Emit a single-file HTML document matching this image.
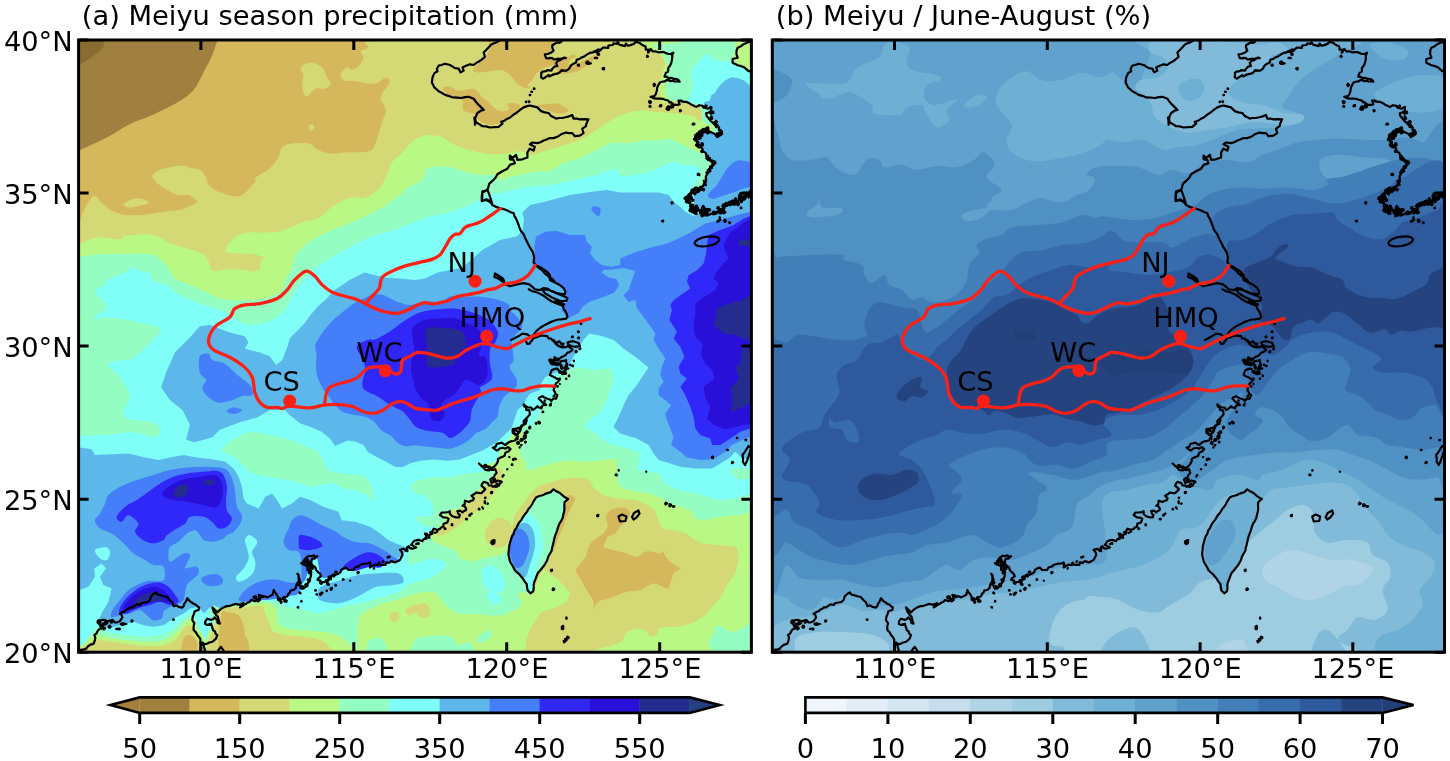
<!DOCTYPE html>
<html lang="en"><head><meta charset="utf-8"><title>Meiyu season precipitation</title>
<style>html,body{margin:0;padding:0;background:#fff}body{width:1450px;height:761px;overflow:hidden}svg{display:block}text{font-family:"DejaVu Sans","Liberation Sans",sans-serif;font-size:27.3px;fill:#000}.c{fill:none;stroke:#000;stroke-width:2.2;stroke-linejoin:round;stroke-linecap:round}.ci{fill:#000;stroke:#000;stroke-width:1.2;stroke-linejoin:round}.r{fill:none;stroke:#fc2016;stroke-width:3.3;stroke-linejoin:round;stroke-linecap:round}.d{fill:#fd1e14}.k{stroke:#000;stroke-width:3;fill:none}.f{fill:none;stroke:#000;stroke-width:3}</style></head><body>
<svg width="1450" height="761" viewBox="0 0 1450 761">
<defs>
<clipPath id="cl"><rect x="78.6" y="40" width="672.8" height="612.2"/></clipPath>
<clipPath id="cr"><rect x="772.3" y="40" width="672.2" height="612.2"/></clipPath>
<g id="ov">
<path class="c" d="M499.9 40L497.4 41.9L494 43.2L491.2 44.4L487.4 48.7L483.7 52.5L484.9 56.8L481.2 60L478.5 61.7L476.3 62.9L473.7 65L469.9 64.3L464.9 66.2L462.4 67.4L463.7 70.6L460.6 72.4L458.7 68.7L455 68.1L450 65L445 63.7L441.4 65L438.7 65.6L436.9 68.7L437.5 71.2L434.4 73.1L432.5 77.4L431.9 82.4L434.4 87.4L438.7 91.2L441.6 92.8L445 94.9L449.2 96.1L452.5 97.4L457.2 97.7L461.2 98L465.1 97.1L468.7 96.8L473.7 98.7L475.7 101.5L477.4 103.6L481.2 107.4L483.7 109.9L481.2 110.5L477.4 113L475.5 117.4L475.3 121.4L474.9 125L474.8 120.8L474.3 117.5L476.2 122.5L479.6 124.4L482.4 126.2L486 126.4L489.9 127.5L494.6 127.1L498.6 126.9L502.4 123.7L501.1 121.9L504.5 120.7L507.4 118.7L510.1 117.5L512.3 115.7L514.9 113.7L517.3 112.3L519.9 110L523.6 107.4L527.1 106.1L529.8 105.5L532.3 106.1L537.3 107.4L541.1 111.1L544.8 112.4L548.6 113L551.1 116.1L556.1 118.6L558.8 118L562.3 118L566.5 117L569.8 116.1L572.3 114.9L573.5 118.6L576.8 118.7L579.8 119.3L584.2 119.1L588.5 119.3L587.3 121.7L586 125L586 126.2L582.3 128.7L583.5 133.1L579.8 135.6L574.8 136.2L572.3 133.1L568.5 133.1L566 132.5L561.1 134.3L557.3 136.8L553.6 138.1L549.8 138.1L546.6 139.4L543.6 140.6L540.5 142.2L537.3 143.1L532.3 142.5L529.8 144.3L534.8 146.8L533.6 150.6L529.8 148.7L527.4 152.4L527.4 157.4L522.4 159.3L517.4 159.9L516.1 154.9L512.4 158.1L509.9 155.6L509.9 159.3L513.6 159.9L514.9 163.1L509.9 164.9L507.4 168.7L502.4 171.2L497.4 174.3L495.7 177.5L493.6 179.9L489.3 183.6L488 188.6L485.6 191L482.4 192.4L482.3 196.4L481.8 201.1L486.2 199.3L489.9 201.1L492.4 205L491.8 202.5L490.8 199.1L489.6 195.7L488.8 193.1L487.4 190L482.4 191.2L481.8 196.2L481.8 201.2L486.2 200L489.9 201.9L492.4 205L496.2 206.9L501.2 208.7L504.1 209.2L507.4 210.6L510.9 212.3L513.6 213.1L514.5 216.2L516.1 218.7L517.3 221.5L518.6 225L519.7 228.3L521.1 231.2L523.4 233.9L524.9 237.4L527.4 242.4L529.9 247.4L533 252.4L534.2 257.4L533.6 262.4L536.1 265.5L541.1 268.6L546.1 271.1L549.8 274.9L550.5 278.6L554.8 281.7L552.6 279.3L550.4 277.5L548.2 276.2L545.5 274.2L543 271.2L540.9 269.2L538.2 267.5L536.2 265.6L539.4 266.8L542.4 268.7L547.4 271.9L549.3 276.2L549.9 280L554.9 282.5L559.9 285L563.6 288.1L565.5 291.8L564.9 294.3L559.9 293.7L556.3 293.1L553.6 291.8L550.3 290.7L547.4 288.7L543.7 288.1L539.9 290L534.9 289.3L532.4 286.8L529.3 284.3L523.7 283.1L521 283.6L517.4 284.3L513.7 285.3L510 286.2L505 284.3L503.1 280.6L500 277.5L497.6 275.7L495 273.7"/>
<path class="c" d="M495 273.7L498.7 275.6L503.1 278.7L504.3 281.8L501.8 281.2L498.7 278.7L494.4 276.9Z"/>
<path class="c" d="M542.4 290L547.4 289.3L551.2 291L554.9 292.5L558.8 294.3L562.4 295.6L567.4 298.1L566.8 300.6L562.4 301.2L559.4 300.5L556.1 299.3L552.7 297.7L549.9 296.2L544.9 293.1Z"/>
<path class="c" d="M554.9 301.2L559.9 302.4L564.3 304.3L563 305.6L558.6 304.3Z"/>
<path class="c" d="M528.7 289.3L532.4 291.2L537.4 292.5L542.4 295L544.7 296.5L547.4 298.7L552.4 301.8L557.4 303.7L562.4 304.9L563.6 308.7L566.1 312.4L567.4 316.8L566.1 318.7L561.1 319.3L558.2 319.5L554.9 320.5L549.9 322.4L544.9 324.9L539.9 328L536.2 331.2L533.7 334.9L529.9 336.8L527.4 334.3L522.4 333.6L518.7 336.1L515 338L511.2 339.9"/>
<path class="c" d="M526.2 341.8L527.3 343.9L529.9 343.6L530.2 342.3L532.4 339.9L533.2 338L536.2 337.4L539.6 336L540.7 336L542.4 335.5L544.8 335.8L547.4 336.1L548.4 338.3L551.2 338.6L551.9 339.8L554.9 342.4L555.5 343.6L558.6 346.1L562.4 346.8L563.6 343.6L561.4 344L559.3 341.1L557 342.8L554.5 341.1L553.6 340L554.6 342.1L555.7 343.8L557.4 345L559.9 346.6L562.4 347.5L566 347.1L567.4 346.2L568.1 346.3L571.9 348.7L572.4 350L569 352.4L567.4 352.5L565.7 355L563.6 356.2L562.6 356.5L559.1 358.9L557.4 358.7L553.9 360.4L552.4 360.6L551.2 363.7L552.6 364.5L556.1 364.3L559.2 364L561.1 361.2L564.6 360.6L566.1 360L565.9 361.5L567.4 365L566.2 367.5L564.9 370L566.1 373.7L562.5 374.2L561.1 372.5L559.3 371.1L557.4 368.7L554.6 368.9L551.9 370L551.2 371.2L549.9 375L551.8 376L554.9 377.4L557.1 379L559.9 378.7L559.7 379.7L557.4 382.4L555.9 383.4L554.9 386.2L553.6 389.9L555.3 392.9L555.3 394L557.4 394.9L556.1 398.7L553.1 398.6L551.2 401.2L550 399.5L547.4 398.7L544 397.2L542.4 396.2L539.8 397.2L538.7 398.7L540.4 400.3L542.4 402.4L544.5 403.1L546.2 404.9L542.6 405.4L541.2 408L538.2 407.2L537.4 406.2L535.4 408.2L534.1 409.2L532.4 409.9L531.2 407.5L527.4 407.4L524.3 404.9L523.7 404.3L524.2 406.4L526 407.6L526.2 409.9L529.3 410.4L529.9 413.6L529.6 414.7L527.4 417.4L526.6 418L523.7 421.1L523.7 424.3L521.2 426.1L520 427.6L516.2 428.6L512.5 429.9L512.8 433L515 433.6L517.4 435L518.5 432L520.1 431.2L520.9 428.4L521.1 427.7L523.2 424.6L524.3 424.4L526.3 421.8L526.8 420L525.6 423.8L523.6 424.7L521.5 425.5L520.5 427.6L519.8 429L519.3 432.6L518 431.9L515.5 430.1L513 428.8L513.9 430.1L514.2 433.9L515.8 435L518 436.4L515.7 439.6L515.5 440.2L513.7 440.8L510.5 441.4L509.3 441.9L506.4 444L505.4 445.2L504.2 444.4L501.6 442.7L497.8 443.6L496.6 444L495.8 446.5L492.8 447.7L496.5 450.3L497.8 450.3L499.6 448.5L502.9 447.7L505.5 448.7L507.9 447.1L510.5 449L508.4 451.5L508 451.6L505.4 452.8L504.5 455.9L502.9 456.6L501.1 457.3L497.8 459.1L498.1 460.8L496.6 464.1L494.1 466.7L491.2 468.5L489 467.9L487.4 466.8L484 466.7L480.9 465.4L478.9 463.5L481.4 466L484.3 468.4L485.2 469.8L488.9 470.4L490.3 469.8L493.7 469.8L495.3 469.2L496.6 473L494.9 474.7L494.1 476.8L492.1 478.1L490.3 479.3L491.5 483.1L494.5 481.6L494.6 482L497.8 480.5L501.6 481.8L499.7 483.5L499.1 485.6L496 486.9L494.3 485.9L492.8 486.8L491.9 485.6L488.8 485.4L487.7 483.1L484 481.8L482.5 483.3L481.4 485.6L484.6 488.3L485.2 489.4L484 490.6L481.4 493.2L479.8 493.1L476.4 492.5L474.8 493.7L471.4 495.7L473.9 498.2L473 500.3L470.2 501.1L468.8 502L465 500.7L464.5 504.6L462.5 505.8L463.6 505L466 508.2L466.1 510L463.3 511.5L462.4 512.5L460.4 510.7L457.4 511.2L458.5 514.1L459.9 515L459.1 517.3L456.1 517.4L452.4 516.2L450 514L449.9 511.2L448.4 512.2L444.9 512.5L441.9 512.5L439.9 515L442.9 517.2L443.6 517.4L446.6 517.7L448.6 518.7L447.4 522.4L443.6 523.7L443.3 526.4L441.2 527.4L439.9 529L437.4 529.9L433.7 528.7L432.6 530.6L432.4 533.7L430.2 534.5L428.7 536.2L426.9 533.9L424.9 533.7L426.1 535.8L426.2 538.7L423.4 539.3L422.4 541.2L418.7 539.9L415.9 540.4L413.7 541.2L413.2 542L411.2 544.9L412.9 545.6L416.2 547.4L412.4 548.7L409.7 548.1L408.7 546.2L407 547.4L407.4 551.2L405.7 550.5L403.7 548.7L400 549.9L402.1 552.6L402.5 554.9L400.7 558.4L400 559.9L398.1 561.1L395 562.4L391.2 561.1L388.9 562.9L386.2 562.4L385.7 564.8L382.5 564.9L379 564.4L377.5 564.9L374.7 564.6L372.5 566.1L370 567.4L370.6 563.7L369.8 562.5L368.4 563.3L364.8 563.7L362.6 564.1L359.8 565L358.5 566.4L354.8 567.5L353.4 569.9L349.8 570L348.5 570L346.1 567.5L343.6 568.4L341.1 570L340.8 571.9L338.6 573.7L335.6 574.8L333.6 575L331.7 575.8L329.9 578.7L328.9 579.9L326.1 581.2L324.9 581.9L321.1 582.4L320.4 580.6L317.4 579.9L318.5 578.1L321.1 576.2L319.9 573.7L318.7 572.7L316.1 570L315.3 567.1L313.6 566.2L311.2 563.7L311.5 560L312.4 558.7L314.5 558.7L317.4 556.2L314.9 556.8L313.6 555.3L311.2 556.2L309.2 555.7L306.2 557.5L307.4 561.2L304.5 562.1L302.2 563.7L301.2 563.1L302.8 564.4L304.9 565L307.4 566.4L307.4 570L310.6 570.6L311.2 573.7L310.8 576.6L309.9 578.7L310 580.8L307.4 583.7L307.4 586L304.9 587.4L301.2 588.7L299.9 585.9L298.7 584.9L298.6 582.1L299.9 579.9L298.9 577.1L298.7 575L297.4 573.7L298.7 575.9L298.6 577.5L298.7 581.2L296.5 584.3L296.2 586.2L296 587.6L293.7 589.9L290.5 590.5L289.9 592.4L288.3 593.9L287.4 596.2L285.7 596.9L283.7 598.7L279.9 599.9L279.1 598.8L277.4 596.2L277 595L275 592.4L273.7 589.9L273.3 591.8L272.5 594.9L270.9 595.6L267.5 597.4L265.9 596.7L262.5 596.2L258.7 594.9L259.7 597.4L260 599.9L257.9 600.1L255 601.2L251.2 599.9L249.8 601.8L247.5 602.7L246.2 603.7L244 604.8L241.8 606.3L240 607.4L242.3 604.4L243.5 603.1L240.5 604.4L238.2 604.7L237.3 604.3L235.5 603.9L232.3 605L228.5 606.2L226.4 606.2L223.5 607.4L222.7 607.9L219.8 609.9L217.3 612.4L214.8 609.9L212.3 607.4L213.6 611.2L213.8 611.8L216 614.9L217.9 616.7L218.5 619.9L219.8 623.7L217.6 622.9L217.1 620.2L214.8 617.4L213.1 619.1L211.1 619.9L207.3 618.7L205.4 621.2L205.1 623.9L207.3 624.9L211.1 623.7L212.3 627.4L213.1 630.3L214.8 631.2L215.8 634.1L217.3 634.9L216 638.7L212.8 641.5L212.3 641.8L208.7 642.7L207.3 643.6L204.8 644.3L202.3 642.4L203.6 644.9L204.4 648.7L205.1 649.7L204.2 652.4"/>
<path class="c" d="M567.4 342.4L572.4 341.1L575.5 342L578.6 343L579.9 346.1L574.9 346.8L571.5 346L568.6 344.9Z"/>
<path class="c" d="M200.4 652.4L200.6 649.7L200.6 646.7L201.2 645.7L200.4 642.4L200.5 639.4L199.8 638L197.3 634.9L196.1 632.6L194.8 631.2L193.6 629.8L193.6 626.2L194.4 623L193.6 622.3L192.3 619.9L192.7 616.9L193.6 614.9L194.8 611.2L198.6 609.9L199.2 607.4L197.3 606.2L195.9 604.8L193.6 603.7L192.2 602.8L189.8 601.2L187.3 598.1L186.1 601.2L184 604.3L183.6 606.2L182.3 607.6L178.6 606.8L176.4 605.4L173.6 606.2L172.4 602.5L169.3 599.7L168.6 598.7L167.2 597L163.6 596.2L159.9 595L157.7 594.7L156.1 592.5L153.8 593.8L152.4 595L151 596.4L149.9 600L147.6 602L144.9 602.5L141.6 603L139.9 605L137.2 604.2L134.9 605.6L132.4 607.3L129.9 607.4L128.6 608.8L127.4 609.1L124.9 611.2L122.6 612.1L119.9 613.7L121.4 614.6L122.4 617.4L121.8 618.3L119.9 621.2L116.6 622.5L114.9 622.4L112.4 619.9L111 620.4L107.4 621.2L104.7 619.9L102.5 619.9L99.7 620.8L98.1 621.2L98.3 622.1L100 624.9L101.2 628.7L99.2 629.1L97.5 631.2L96.3 633.8L94.3 634.9L95.3 637.4L95 639.9L93.7 643.6L90 644.9L87.7 646.6L86.2 648.6L83 649.8L81.7 649.5L80 650.5L76.5 651.3L75 652.4"/>
<path class="c" d="M217.3 652.4L218.5 649.9L221 646.8L223.5 650.5L224.2 652.4"/>
<path class="c" d="M562.3 40L561.1 41.9L558.9 42.9L557.3 42.2L554.8 43.7L552.3 45.3L552.3 47.5L553.6 50.6L551.1 52.7L549.8 53.1L547.8 54L544.8 54.3L546.1 58.1L548.3 58.5L549.3 57.9L552.3 58.1L553.5 59.3L555.3 59.3L558.6 58.7L559.9 59L563.1 58L566 58.1L564.4 57.5L559.9 60.4L558.6 60L556.1 63.1L557.3 66.2L554.8 66.4L552.3 68.7L551.5 70.7L547.1 70.2L546.1 71.2L542.6 71.6L541.1 73.1L541.4 74.4L541.1 77.4L543 78.7L546.1 76.8L548.7 75L549.4 76.4L552.3 74.9L554.6 74.1L557.3 73.7L559.6 72.6L561.2 70.4L563.6 70.6L566.2 70.7L569 68.9L569.8 67.4L571.3 65.2L573.5 63.7L576.1 62.5L576.7 59.7L579.8 58.7L581.3 57.6L584.3 56.5L584.2 56.3L587.3 54.3L589 53.6L590.3 52.6L592.6 52.7L594.8 51.2L595.8 50.7L598.1 50.5L601 49.3L597.7 49.6L596.4 51.4L593.5 51.8L592.6 52.7L594 51.3L596.8 52.2L598.9 51.4L600.2 50.4L602.8 47.7L605.2 47.7L608.1 48L608.5 45.5L612.7 45L613.6 43.4L616.6 43.9L617.8 42L619.1 44.5L620.2 44.9L624.9 46.1L625.9 43.6L627.7 45.8L630.5 45.1L633.8 43.9L635.5 42L639.3 42.6L640.7 43.9L643.4 45.5L645.6 46.4L645.8 49.7L648.3 49.7L648.1 52.7L648.8 51.8L650.6 48.9L652.6 51.3L655.7 51.4L658.2 52.3L660.7 52.1L663.8 52L665.2 52.7L668.3 54L671.3 53.8L673.3 52.7L672 55.8L672.3 56.2L672.1 59L671.3 62.8L670.8 64.1L669.7 66.3L668.3 67.8L668.1 71.6L665.8 72.9L664.5 76.7L667.3 76.9L668.9 78.6L670.8 77.9L674.1 78.8L675.5 78.8L678.4 79.8L679.6 81.7L678.2 81.5L674.2 81.4L673.3 80.5L672.3 81L670.2 81.1L667 79.8L664.6 81.5L662 81.7L659.8 82.6L658.2 85.5L657.2 87.5L656.9 90.5L655.7 94.3L654.3 96.1L650.6 96.8L653.2 98.1L655.8 98.6L657.2 98.6L660.7 98.7L663.8 99.1L665.1 99.8L668.3 100.6L669.5 102.4L670.7 102.1L673.3 104.4L674.9 104.9L678.2 104.8L679.6 104.4L678.4 100.6L681.6 100.7L681.4 101.4L684.7 101.9L686.6 101.9L689.3 103.2L691 104.4L692.8 105.2L696 106.9L699.3 105.2L699.9 105.5L702.3 105.7L703.5 106.8L706.1 108.2L707.9 108.7L711.2 106.9L711.2 110.7L708.7 112.5L706.1 113.2L706.5 115.7L708.6 118.3L710.6 120.9L711.4 121.5L713.7 123.3L717.1 125L719.2 127.9L718.7 129.2L721.2 131L721.7 133.3L719.9 135.6L717.1 137L716.5 135.6L713.9 133.5L711.6 132.4L709.4 131.4L706 131.4L703.6 131.7L700.6 131.7L698.7 133.3L696.8 135.2L695.6 135.8L695 138.8L696.4 140.4L697.3 143.3L696.8 145.2L698.4 147.4L701.6 147.2L702.4 148.9L702.6 151.1L705.7 152.9L706 154.5L707.7 157L707.9 160L710.6 160L712.5 160.9L715.2 161.8L713.7 163.4L713.6 164.6L711.6 167.3L709.6 168.5L710.4 171.1L707.9 172.9L705.8 176.5L706 178.4L706.1 181.7L703.8 183.9L703.3 185.8L700.9 187.2L699.6 190.4L698.5 191.9L694.7 192.7L692.1 191.9L691.3 193.1L689.1 194.1L688.6 197.4L688 197.8L687.6 200.5L687.9 201.9L690.8 204.5L690 206.5L692.2 207.9L694.5 208.7L696.6 210.1L698.7 210.6L701.3 209.7L702.7 208.7L704.2 207.9L705.5 209.4L705.8 211.6L707.5 212.8L707.9 215.2L710.8 213.9L712.5 213.2L713.4 211.5L717.1 212.3L718.1 211.9L720.8 212.5L722.5 211.5L724.4 208.3L723.8 206.6L726.3 206L727.7 204.2L730 204.1L733.7 204.2L734.5 202.8L737.7 201.7L739.2 198.7L742.2 198.4L744 195.6L744.7 195.9L745.8 196.1L748.3 193.3L750.2 193.1L752.8 192.1L754.2 191L755.4 189.6L758.3 191L760 189"/>
<path class="c" d="M751.5 40.1L750.3 41.4L746.8 42.8L744 43.9L741 46.2L737.7 47.7L736.6 50.5L736.4 54L737.7 57.7L732.6 59L732.6 62.8L737.7 65.3L740.4 65.9L744 67.2L747.7 70.4L752.8 72.9"/>
<path class="c" d="M553.5 489.3L556.4 491.3L559.9 493L562.8 495.6L565.4 497.6L568.2 498.9L564.5 502.2L564.3 505.2L564.5 508.6L564.1 511.8L563.2 514.9L562.7 517.8L561.1 521.1L559.4 523.7L558.1 527L557.1 530.6L555.5 534.6L554.4 538.1L553.8 541.1L553 544.6L552.1 547.8L551.6 550.9L549.7 554L548.1 557.1L547.1 560.5L545.2 563.8L543.1 566.8L540.3 570.2L537.8 573L536.7 575.8L535.5 579.2L534.2 582.2L533.6 585L533.8 588.3L533.2 591.4L530.5 593.3L527.7 590.5L527 587.3L526.8 584.1L524.8 581.8L523.1 578.9L521.3 576.7L519.4 574.3L516.8 572.1L514.8 570.3L513.4 567.3L511.8 564.5L510.2 562L509.3 558.4L508.4 554.6L508.7 551.5L509 548.4L509.3 545.4L510.3 542L511.1 539.1L512.1 536.2L513.7 533.8L514.5 530.5L516.4 528L517.6 525.2L519.1 522.6L521.6 519.6L523 517L525 514.2L527.1 511.6L528.5 509L530.5 506.8L532.4 503.7L534 500.6L536 497.6L538.7 496.2L542.5 495.2L545.2 493.9L550.7 492.1Z"/>
<path class="c" d="M719.3 239.3L718.7 241.2L716.3 243.2L712.4 244.9L707.8 246L703 246.5L698.9 246.2L695.9 245.1L694.7 243.5L695.3 241.6L697.7 239.6L701.6 237.9L706.2 236.8L711 236.3L715.1 236.6L718.1 237.7Z"/>
<path class="ci" d="M535.1 88.7L534.7 89.4L534.1 89.4L533.4 89.1L533.3 88.3L534 87.8L534.7 88Z"/>
<path class="ci" d="M532.7 91.8L532.3 92.5L531.5 92.5L531 92.2L530.8 91.4L531.5 90.9L532.1 91.3Z"/>
<path class="ci" d="M530.9 94.9L530.4 95.5L529.7 95.8L529.2 95.2L529.2 94.6L529.8 94.3L530.4 94.3Z"/>
<path class="ci" d="M526.9 101.8L526.6 102.4L525.9 102.7L525.3 102.2L525.4 101.5L525.9 101L526.8 101Z"/>
<path class="ci" d="M530 101.8L529.7 102.5L529 102.7L528.4 102.2L528.2 101.3L528.9 100.7L529.8 101.1Z"/>
<path class="ci" d="M579.5 65L579.4 66.1L578.2 66.3L577.2 65.6L577.5 64.5L578.3 64L579.3 64Z"/>
<path class="ci" d="M588.6 62.5L588.3 63.8L586.9 64.1L585.9 63.2L586.1 61.9L587 61L588.4 61.2Z"/>
<path class="ci" d="M599.3 54.3L599.2 55.2L598.3 55.4L597.5 54.8L597.7 53.9L598.3 53.5L599.1 53.5Z"/>
<path class="ci" d="M563.3 70.6L562.9 71.3L562.1 71.5L561.2 71.1L561.5 70.2L562 69.4L562.9 69.9Z"/>
<path class="ci" d="M599.3 54L598.8 54.7L598 55.1L597.1 54.6L597.1 53.4L598.1 53.1L598.9 53.2Z"/>
<path class="ci" d="M604.6 68.5L604.3 69.8L603 69.8L602.1 69.1L602.2 68L603.1 67.5L604.2 67.4Z"/>
<path class="ci" d="M589.3 62.8L588.7 64.2L587.2 64.4L586.2 63.5L586.1 62.1L587.4 61.7L588.5 61.7Z"/>
<path class="ci" d="M648.6 56.5L648 57.2L647.3 57.5L646.5 57L646.4 56L647.2 55.1L648.1 55.7Z"/>
<path class="ci" d="M655.8 84.9L655.1 85.8L654 86.7L653.3 85.4L653.1 84.3L654 83.2L655.3 83.8Z"/>
<path class="ci" d="M651.6 101.9L650.9 103.1L649.6 103.7L648.9 102.4L648.5 101.2L649.7 100.5L650.8 100.9Z"/>
<path class="ci" d="M651.1 106.3L650.8 107.3L649.8 107.2L648.9 106.8L649.1 105.9L649.8 105.4L650.7 105.5Z"/>
<path class="ci" d="M661.9 105.7L661.4 106.6L660.4 106.9L659.1 106.5L659.7 105.2L660.5 104.6L661.5 104.7Z"/>
<path class="ci" d="M670.1 108.2L669.6 109.9L667.8 110.5L666 109.3L666.6 107.4L667.8 105.9L669.9 106.2Z"/>
<path class="ci" d="M674 106L673.3 107.6L671.5 108.1L670.2 106.9L670.8 105.4L671.5 103.9L673 104.8Z"/>
<path class="ci" d="M681.6 110.7L681 111.5L680 111.9L679.5 111.1L679.3 110.2L680 109.6L681 109.9Z"/>
<path class="ci" d="M695 124L694.2 124.9L693.3 125.1L692 124.7L692.5 123.5L693.3 122.9L694.2 123.2Z"/>
<path class="ci" d="M700.1 174.5L699.5 175.7L698.3 175.5L697.3 175.1L697.2 173.9L698.2 173.1L699.3 173.5Z"/>
<path class="ci" d="M581.9 323.7L581.5 324.3L580.9 324.6L580.3 324.1L580 323.2L580.9 322.7L581.6 323.1Z"/>
<path class="ci" d="M579.5 331.8L579.1 332.5L578.4 332.8L577.6 332.3L577.3 331.2L578.4 330.8L579.1 331.1Z"/>
<path class="ci" d="M573.3 336.8L573.1 337.7L572.2 337.8L571.2 337.4L571.6 336.4L572.2 335.9L573 336.1Z"/>
<path class="ci" d="M579.7 338L579.2 338.8L578.4 338.8L577.7 338.4L577.6 337.5L578.4 337.1L579.3 337.1Z"/>
<path class="ci" d="M577.3 351.8L576.7 352.5L575.8 352.9L575.1 352.3L575.1 351.3L575.8 350.6L576.9 350.8Z"/>
<path class="ci" d="M580.9 348.7L580.5 349.4L579.6 349.9L578.8 349.2L579.2 348.4L579.7 347.9L580.6 347.8Z"/>
<path class="ci" d="M555.6 362.5L554.5 364.4L552.6 364.4L550.9 363.5L551.6 361.8L552.6 360.6L554.5 360.6Z"/>
<path class="ci" d="M559.3 360L558.8 361L557.7 361.1L556.4 360.8L556.4 359.2L557.7 358.7L559 358.7Z"/>
<path class="ci" d="M563.6 368L562.8 369L561.7 369.3L560.8 368.6L560.7 367.4L561.6 366.2L562.8 366.9Z"/>
<path class="ci" d="M561.5 372L560.9 373.1L559.8 373.1L558.7 372.6L558.8 371.4L559.7 370.5L560.9 370.9Z"/>
<path class="ci" d="M567 366L566.7 366.9L565.8 367.1L564.8 366.6L565.2 365.6L565.7 364.8L566.5 365.3Z"/>
<path class="ci" d="M542.1 408L541.7 408.9L540.8 408.8L539.9 408.5L540.1 407.6L540.8 407.1L541.6 407.2Z"/>
<path class="ci" d="M543.7 412L543.5 412.6L542.8 412.7L542 412.5L542.2 411.6L542.8 411L543.7 411.2Z"/>
<path class="ci" d="M540.6 423L540.1 423.7L539.3 423.9L538.4 423.6L538.5 422.5L539.2 421.8L540.2 422.1Z"/>
<path class="ci" d="M539.7 422L538.9 422.5L538.3 422.8L537.7 422.4L537.8 421.7L538.3 421.1L539 421.4Z"/>
<path class="ci" d="M518.2 438.5L517.8 439.6L516.8 439.6L515.9 439L515.9 438L516.8 437.5L517.7 437.6Z"/>
<path class="ci" d="M495.7 480L495.2 481.5L493.6 481.7L492.8 480.6L492.7 479.4L493.7 478.7L495.2 478.5Z"/>
<path class="ci" d="M498.3 484L497.9 485.1L496.7 485.3L496.1 484.5L496.1 483.6L496.8 483L497.7 483.2Z"/>
<path class="ci" d="M502.1 482L501.6 482.7L500.7 483.2L500 482.5L500.1 481.6L500.7 480.9L501.5 481.3Z"/>
<path class="ci" d="M492.4 492.5L492.2 493.4L491.2 493.7L490.5 493L490.7 492.1L491.2 491.4L492 491.8Z"/>
<path class="ci" d="M495 541.8L494.6 543.8L492.3 544.8L490.7 542.9L491.1 540.9L492.6 539.9L494.9 539.5Z"/>
<path class="ci" d="M552.6 570.3L552.2 571.2L551.2 571.7L550.6 570.8L550.4 569.8L551.3 569.3L552.4 569.2Z"/>
<path class="ci" d="M554.8 589L554.2 590.2L552.9 590.6L552 589.6L552.4 588.6L553 587.9L554.1 588Z"/>
<path class="ci" d="M598.8 515.4L598.7 516.5L597.5 516.9L596.5 516L596.9 515L597.6 514.5L598.7 514.3Z"/>
<path class="ci" d="M617.3 475L616.9 475.9L616 475.7L615.1 475.5L615.2 474.5L615.9 473.8L616.9 474.1Z"/>
<path class="ci" d="M619.5 470.5L619.1 471L618.6 471.1L618 470.8L618.1 470.2L618.5 469.6L619.2 469.9Z"/>
<path class="ci" d="M646.8 471.7L646.6 472.2L646.1 472.2L645.7 471.9L645.6 471.4L646.1 471.2L646.6 471.2Z"/>
<path class="ci" d="M667.8 503.5L666.7 504.4L665.6 505.1L664.7 504.1L665 503L665.7 502.1L666.7 502.6Z"/>
<path class="ci" d="M671.7 505.5L670.7 506.4L669.7 506.9L668.8 506.1L668.9 505L669.6 503.7L671.1 504.1Z"/>
<path class="ci" d="M674.9 506.5L674.1 507.2L673.3 507.4L672.4 507L672.5 506L673.3 505.5L674.3 505.5Z"/>
<path class="ci" d="M565.5 641.5L565 642.4L564 642.9L563.4 641.9L563.1 640.9L564.1 640.4L565 640.7Z"/>
<path class="ci" d="M567.1 639.6L566.9 640.8L565.7 640.9L564.9 640.1L564.6 638.9L565.7 638.4L566.9 638.4Z"/>
<path class="ci" d="M569.3 637.6L568.6 638.6L567.5 638.8L566.6 638.2L566.6 637L567.5 636.1L568.6 636.7Z"/>
<path class="ci" d="M713.7 457.5L713.3 458.5L712.2 458.7L711.5 458L711.4 457L712.2 456L713.4 456.3Z"/>
<path class="ci" d="M733.8 462.5L733.1 463.2L732.3 463.6L731.3 463.1L731.5 462L732.2 461.4L733 461.8Z"/>
<path class="ci" d="M728.4 450L728.1 450.7L727.3 450.7L726.7 450.4L726.6 449.5L727.3 449.3L728 449.4Z"/>
<path class="ci" d="M747 440L746.6 440.8L745.8 440.8L745.1 440.4L744.9 439.5L745.8 439.2L746.5 439.4Z"/>
<path class="ci" d="M737.8 438L737.5 438.6L736.9 438.6L736.3 438.4L736.5 437.8L736.8 437.1L737.4 437.5Z"/>
<path class="ci" d="M301.1 593L300.7 593.9L299.8 593.9L299.2 593.4L299 592.5L299.7 591.8L300.6 592.3Z"/>
<path class="ci" d="M316.5 590.5L316 591.1L315.4 591.1L314.8 590.9L314.7 590.1L315.3 589.5L316.2 589.7Z"/>
<path class="ci" d="M332.2 589.5L331.5 590.2L330.8 590.3L330.3 589.8L329.9 589L330.8 588.6L331.5 588.9Z"/>
<path class="ci" d="M286.4 601L285.9 602.1L284.7 602.2L283.9 601.5L283.7 600.4L284.7 599.7L285.7 600.1Z"/>
<path class="ci" d="M282.2 602L281.7 602.9L280.7 603.4L280.2 602.4L279.8 601.4L280.7 600.8L281.7 601.2Z"/>
<path class="ci" d="M174.5 619.7L173.9 620.3L173.2 620.4L172.7 620L172.5 619.3L173.2 618.9L174 618.9Z"/>
<path class="ci" d="M133.2 621L132.6 621.8L131.7 622.3L131 621.5L131 620.5L131.7 619.8L132.8 620Z"/>
<path class="ci" d="M663.7 221.2L663.4 221.9L662.6 222L661.8 221.7L661.5 220.6L662.6 220.3L663.6 220.2Z"/>
<path class="ci" d="M673.3 203L672.7 203.8L671.7 204.2L671.2 203.4L670.9 202.5L671.7 201.7L672.9 201.9Z"/>
<path class="ci" d="M730.5 222.7L730.2 223.6L729.3 223.7L728.8 223L728.6 222.3L729.3 221.7L730.1 222Z"/>
<path class="ci" d="M742 208L741.5 208.6L740.8 208.8L740.2 208.4L740.1 207.6L740.8 207L741.6 207.2Z"/>
<path class="ci" d="M311.9 563.7L310.1 565.4L308.2 565.8L306.7 564.7L306.5 562.7L308.1 561.2L310.5 561.4Z"/>
<path class="ci" d="M308.5 560L307 561.3L305.5 562.1L303.9 561L304.1 559.1L305.6 558.1L307.4 558.3Z"/>
<path class="ci" d="M313.6 567.5L313 569.4L311.1 569.2L309 568.7L309.2 566.4L311.1 565.8L313.2 565.3Z"/>
<path class="ci" d="M311.9 572L311 573.2L309.5 574.2L308.3 572.8L308.7 571.4L309.6 570.2L311.2 570.5Z"/>
<path class="ci" d="M305.5 562L305 563.3L303.7 563.5L302.5 562.7L302.6 561.3L303.6 560.2L304.8 561Z"/>
<path class="ci" d="M304.3 587.4L303.7 589.1L302.1 588.7L300.6 588.3L300.8 586.6L302 585.5L303.4 586.1Z"/>
<path class="ci" d="M301.2 583L300.8 584L299.8 584.1L298.5 583.7L298.9 582.5L299.7 581.8L301 581.8Z"/>
<path class="ci" d="M307.9 585L307.2 586.5L305.7 586.5L304.8 585.6L304.9 584.5L305.6 583.4L307.2 583.5Z"/>
<path class="ci" d="M309.8 580L309.3 581L308.2 581.2L307.4 580.5L307.2 579.4L308.3 578.9L309.4 578.9Z"/>
<path class="ci" d="M256.7 597.5L256.5 599.4L254.7 598.9L253.5 598.2L252.9 596.5L254.6 595.8L256.3 595.9Z"/>
<path class="ci" d="M260.2 600L259.4 601.1L258 602.1L257.1 600.7L256.9 599.2L258.1 598.2L259.8 598.4Z"/>
<path class="ci" d="M263.6 596.5L262.9 597.6L261.7 597.7L260.8 597.1L260.6 595.8L261.7 595.1L262.7 595.6Z"/>
<path class="ci" d="M280.7 599.5L279.9 600.6L278.7 600.8L277.6 600.2L277.3 598.7L278.6 597.6L280.3 597.9Z"/>
<path class="ci" d="M285.2 598L284.5 599.2L283.1 599.5L282.4 598.5L282.5 597.5L283.2 596.9L284.6 596.6Z"/>
<path class="ci" d="M287.2 601L286.9 602.1L285.7 602.1L285.1 601.4L284.7 600.4L285.8 599.9L286.8 600Z"/>
<path class="ci" d="M328.6 581L327.7 582.5L326.1 582.6L325.1 581.7L325.2 580.4L326.1 579.5L327.5 579.7Z"/>
<path class="ci" d="M331.5 578L331.3 579.6L329.6 579.6L328.2 578.9L327.9 577L329.5 575.8L331.3 576.4Z"/>
<path class="ci" d="M335 575.5L334.6 576.9L333.2 577L332.3 576.1L331.8 574.7L333.2 574.1L334.5 574.2Z"/>
<path class="ci" d="M329.3 584L329.1 585.3L327.7 585.2L326.7 584.6L326.5 583.3L327.7 582.9L328.7 583.1Z"/>
<path class="ci" d="M337.1 572L336.7 572.9L335.7 573.1L334.5 572.7L334.9 571.5L335.8 570.9L336.7 571.2Z"/>
<path class="ci" d="M322.5 583L321.9 584.1L320.7 584.2L319.8 583.6L319.4 582.2L320.7 581.8L321.7 582.2Z"/>
<path class="ci" d="M101 622L100 623.3L98.5 624L97.2 622.9L97.1 621.1L98.5 619.7L100.2 620.4Z"/>
<path class="ci" d="M104.2 625L103.5 626.3L102 627.3L100.8 625.8L100.7 624.2L102.1 623.4L104.1 622.9Z"/>
<path class="ci" d="M108.1 623L106.8 624L105.5 625L104.4 623.8L104.3 622.2L105.6 621.2L107.1 621.6Z"/>
<path class="ci" d="M111 626.5L110.6 627.9L109.1 628.2L108.2 627.1L108.4 626L109.2 625.1L110.4 625.4Z"/>
<path class="ci" d="M105.6 628.5L104.7 629.4L103.7 630L102.7 629.1L103 628L103.7 627.1L105.1 627.2Z"/>
<path class="ci" d="M112.6 622L112.3 623L111.2 623.2L110.4 622.5L110.4 621.5L111.2 620.6L112.2 621.1Z"/>
<path class="ci" d="M552.8 361L552.4 362.7L550.4 363.4L549.4 361.8L548.6 359.8L550.5 358.8L552.1 359.6Z"/>
<path class="ci" d="M556.4 358.5L555.9 359.6L554.6 360.1L553.8 359.1L553.6 357.8L554.6 356.6L555.8 357.4Z"/>
<path class="ci" d="M558.7 364L558.2 365.5L556.6 365.6L555.5 364.7L555.6 363.3L556.7 362.7L557.9 362.9Z"/>
<path class="ci" d="M567.3 368.5L567 369.7L565.6 370.3L564.3 369.3L564.5 367.8L565.7 367.3L567 367.2Z"/>
<path class="ci" d="M564.7 372.5L564.5 373.7L563.2 373.8L562.3 373.1L561.9 371.7L563.1 370.9L564.3 371.4Z"/>
<path class="ci" d="M562 365.5L561.7 366.4L560.7 366.8L560.1 365.9L559.8 364.9L560.7 364L561.8 364.6Z"/>
<path class="ci" d="M526.3 436L526.3 437.7L524.6 437.8L523.1 436.9L523.7 435.4L524.7 434.5L526.2 434.5Z"/>
<path class="ci" d="M523.1 440L522.3 441.1L521.2 441.4L519.9 440.8L520.2 439.4L521.1 438.4L522.3 439Z"/>
<path class="ci" d="M519.4 443L519 444.3L517.7 444.3L516.6 443.7L516.8 442.4L517.6 441.4L519.1 441.6Z"/>
<path class="ci" d="M528.3 432L527.8 433L526.7 433.5L525.7 432.6L525.9 431.5L526.7 430.6L527.7 431.1Z"/>
<path class="ci" d="M490.7 467L489.9 468.1L488.7 468.1L487.7 467.6L487.7 466.4L488.8 466L489.8 466.1Z"/>
<path class="ci" d="M487 465.5L486.3 466.5L485.2 466.8L484.3 466.1L484.1 464.8L485.2 464.3L486.2 464.6Z"/>
<path class="ci" d="M591.5 63.5L590.5 64L589 64.4L587.4 63.9L587.2 63L589.1 62.7L590.9 62.8Z"/>
<path class="ci" d="M127.1 624L124.8 624.8L122.1 625.4L120.2 624.5L120.4 623.6L122.3 622.9L124.9 623.2Z"/>
<path class="ci" d="M120.5 629L119.8 629.9L117.6 629.7L115.8 629.4L115.8 628.6L117.5 628L119.8 628.1Z"/>
<path class="ci" d="M597.8 58L597.4 58.7L595.6 58.7L594.3 58.3L594.2 57.7L595.5 57.2L597.1 57.4Z"/>
<path class="ci" d="M754.2 447L753.6 450.3L752.1 450.7L751.4 448.2L751 445.3L752.1 443.1L753.3 444.6Z"/>
<path class="ci" d="M567.2 618L566.9 619.2L566.2 619.3L565.9 618.5L565.7 617.4L566.3 617.1L566.8 617Z"/>
<path class="ci" d="M563.9 627.6L563.4 629.7L562.4 629.7L561.3 628.9L561.4 626.4L562.4 625.6L563.5 625.3Z"/>
<path class="ci" d="M716.2 124.9L715.8 125.6L715 125.9L714.5 125.2L714.3 124.4L715.1 124L716 124Z"/>
<path class="ci" d="M720.1 130.2L719.8 130.9L719 131.2L718.5 130.6L718.4 129.8L719 129.3L719.8 129.5Z"/>
<path class="ci" d="M712.4 117.1L712.1 118.1L711.1 118L710.2 117.6L710.5 116.7L711 115.8L712 116.3Z"/>
<path class="ci" d="M704.9 106.9L704.7 107.8L703.7 108.2L702.7 107.5L703 106.4L703.8 105.9L704.7 106Z"/>
<path class="ci" d="M712.3 111.1L712 111.8L711.3 111.9L710.7 111.5L710.8 110.8L711.3 110.2L712 110.5Z"/>
<path class="ci" d="M721.6 130.8L721.3 131.5L720.5 131.9L719.7 131.3L719.9 130.5L720.4 129.8L721.4 129.9Z"/>
<path class="ci" d="M717.8 133.8L717.4 134.4L716.7 134.7L716 134.3L716 133.4L716.7 132.8L717.6 133Z"/>
<path class="ci" d="M722.7 133.8L721.9 134.6L720.9 135.1L720.1 134.3L719.9 133.2L720.9 132.3L721.9 133Z"/>
<path class="ci" d="M717.5 121.7L717.1 122.8L716 122.8L715.4 122.1L715 121.1L715.9 120.3L716.9 120.9Z"/>
<path class="ci" d="M722 133.3L721.8 134.4L720.7 134.3L719.9 133.8L719.6 132.7L720.7 132.5L721.5 132.5Z"/>
<path class="ci" d="M717.9 127L717.1 127.6L716.4 127.8L715.5 127.5L715.6 126.5L716.3 125.7L717.1 126.3Z"/>
<path class="ci" d="M707 106L706.7 106.8L705.9 106.7L705 106.5L705.3 105.6L705.8 104.9L706.7 105.2Z"/>
<path class="ci" d="M717.5 125.1L716.8 125.8L716 126.1L715.4 125.5L715.6 124.7L716 124L716.8 124.4Z"/>
<path class="ci" d="M713.9 112.4L713.8 113.5L712.7 113.7L711.9 113L712.1 112L712.8 111.5L713.8 111.4Z"/>
<path class="ci" d="M711.8 107.6L711.5 108.3L710.8 108.6L710 108.1L710.2 107.2L710.8 106.7L711.6 106.9Z"/>
<path class="ci" d="M717.7 136L717.7 137.2L716.6 136.9L716 136.4L715.7 135.4L716.5 134.8L717.4 135.2Z"/>
<path class="ci" d="M722.5 131.8L722.2 132.4L721.5 132.5L720.9 132.1L720.8 131.4L721.4 130.8L722.2 131.2Z"/>
<path class="ci" d="M712.4 112.9L712 113.8L710.9 114.5L709.9 113.5L710 112.3L710.9 111.4L712.2 111.7Z"/>
<path class="ci" d="M720.7 134L720.2 134.6L719.4 135L718.5 134.5L718.4 133.4L719.4 133L720.2 133.2Z"/>
<path class="ci" d="M720 133.5L719.5 134.3L718.6 134.4L718.1 133.9L717.9 133.1L718.5 132.4L719.5 132.6Z"/>
<path class="ci" d="M716.1 123.2L715.3 124.3L714.1 124.7L713.2 123.8L713.3 122.6L714.2 121.8L715.4 122Z"/>
<path class="ci" d="M713 118.7L712.3 119.4L711.5 119.7L710.5 119.3L710.9 118.3L711.5 117.6L712.3 117.9Z"/>
<path class="ci" d="M704.6 129.7L704.1 130.7L702.8 131.4L701.7 130.4L702.1 129.1L702.9 128.5L704.3 128.3Z"/>
<path class="ci" d="M698.9 142.3L698.6 143.3L697.5 143.6L696.9 142.8L696.4 141.6L697.6 141.4L698.5 141.4Z"/>
<path class="ci" d="M703.8 151.4L702.9 152.4L701.8 152.6L700.8 152L700.8 150.8L701.7 149.8L703.1 150.1Z"/>
<path class="ci" d="M710.2 132L709.6 133L708.6 133.3L707.6 132.6L707.4 131.3L708.5 130.4L709.6 131Z"/>
<path class="ci" d="M702.8 131.1L702.3 131.9L701.3 132.3L700.4 131.7L700.2 130.5L701.3 129.9L702.6 129.9Z"/>
<path class="ci" d="M701.3 138.1L700.5 139L699.6 139.2L698.7 138.7L698.4 137.4L699.5 136.8L700.8 136.9Z"/>
<path class="ci" d="M697 139.6L696.7 141.2L695.1 141L694 140.3L693.6 138.7L695.2 138.3L696.4 138.4Z"/>
<path class="ci" d="M702 134L701.5 134.9L700.4 135.3L699.5 134.5L699.7 133.5L700.5 132.7L701.5 133Z"/>
<path class="ci" d="M699.5 145.4L698.7 146.4L697.6 146.8L696.5 146.1L696.3 144.6L697.5 143.9L698.8 144.3Z"/>
<path class="ci" d="M709 128.5L708.4 130.1L706.6 130.5L705.3 129.4L705.6 127.8L706.8 127.2L708.4 126.8Z"/>
<path class="ci" d="M702.6 145.4L702.1 146.2L701.2 146.7L700.4 146L700.3 144.8L701.2 144.2L702.2 144.5Z"/>
<path class="ci" d="M703.3 144.3L703.2 145.6L701.9 145.4L700.8 144.9L700.8 143.6L701.8 142.7L703.1 143Z"/>
<path class="ci" d="M708.6 132.9L708.2 133.8L707.3 134L706.6 133.4L706.4 132.4L707.2 131.6L708.1 132.2Z"/>
<path class="ci" d="M699.2 135.5L698.6 136.8L697.1 137.6L696.3 136.1L695.9 134.7L697.2 133.9L698.8 134Z"/>
<path class="ci" d="M697.5 135.5L697 136.6L695.8 137.3L694.7 136.2L694.8 134.9L695.8 134L697 134.5Z"/>
<path class="ci" d="M702.9 135.2L702.6 136.4L701.3 136.5L700 136L700.4 134.6L701.2 133.5L702.8 133.7Z"/>
<path class="ci" d="M698.9 133.8L698.6 134.9L697.3 135.1L696.8 134.2L696.5 133.2L697.4 132.8L698.3 132.9Z"/>
<path class="ci" d="M700.7 132.3L700.2 133.2L699.2 133.3L698.3 132.8L698.4 131.8L699.1 130.8L700 131.6Z"/>
<path class="ci" d="M708.5 130.2L707.8 131.4L706.3 132.3L705.5 130.8L705.1 129.3L706.4 128.6L708 128.6Z"/>
<path class="ci" d="M699 144.7L698.3 146.1L696.9 146.2L695.5 145.5L696.1 144.1L696.8 143L698.1 143.6Z"/>
<path class="ci" d="M702.1 135L701.1 135.9L700 136.5L699.3 135.5L699 134.3L700.1 133.8L701.3 133.8Z"/>
<path class="ci" d="M699.8 138.3L699.7 139.4L698.5 139.7L697.6 138.9L697.5 137.6L698.6 137.4L699.7 137.2Z"/>
<path class="ci" d="M706.4 131.4L705.9 132.4L704.7 132.8L704.1 131.8L703.8 130.8L704.8 130.2L706.1 130Z"/>
<path class="ci" d="M699.1 145.8L698.8 146.7L697.8 146.7L697.2 146.2L696.8 145.2L697.7 144.7L698.6 145Z"/>
<path class="ci" d="M697.9 136.7L697.9 137.9L696.6 138.1L695.8 137.2L695.8 136.1L696.7 135.5L697.6 135.9Z"/>
<path class="ci" d="M704.2 132.1L703.5 133.2L702.4 133.2L701.4 132.7L701.3 131.5L702.3 130.7L703.3 131.3Z"/>
<path class="ci" d="M713.2 161.2L713 162.4L711.8 162.7L710.9 161.8L711.3 160.8L711.9 160.2L712.7 160.4Z"/>
<path class="ci" d="M709.8 170.5L709.2 171.4L708.2 171.7L707.3 171.1L707.2 169.9L708.2 169.3L709.1 169.7Z"/>
<path class="ci" d="M706.3 184.9L706.1 185.6L705.5 185.7L705 185.2L704.9 184.6L705.4 184.1L706.3 184.1Z"/>
<path class="ci" d="M711 166.6L710.6 167.1L710 167.5L709.4 167L709.6 166.3L710.1 166L710.8 165.9Z"/>
<path class="ci" d="M716 162.7L715.5 163.9L714.3 163.9L713.7 163.2L713.2 162.1L714.3 161.4L715.2 162Z"/>
<path class="ci" d="M712.5 167.3L712.3 168.4L711.2 168.4L710.1 167.9L710.4 166.8L711.1 165.7L712.4 166Z"/>
<path class="ci" d="M711.3 168.2L711.1 169.1L710.2 169L709.6 168.5L709.7 167.8L710.1 167.2L711.1 167.3Z"/>
<path class="ci" d="M705.7 184L705.4 185L704.3 185.2L703.8 184.4L703.7 183.5L704.3 182.6L705.3 183.1Z"/>
<path class="ci" d="M708.6 156L708 157.1L706.8 157.2L705.9 156.6L705.8 155.4L706.8 154.8L707.8 155.1Z"/>
<path class="ci" d="M710.4 158.2L710.2 158.8L709.6 159L708.8 158.7L709 157.9L709.6 157.6L710.3 157.5Z"/>
<path class="ci" d="M710.5 169.7L710 170.4L709.3 170.5L708.9 170L708.5 169.2L709.2 168.8L709.9 169.2Z"/>
<path class="ci" d="M705.3 181.3L705 182L704.2 182.3L703.5 181.8L703.3 180.8L704.2 180L705.1 180.5Z"/>
<path class="ci" d="M714.2 164.8L713.2 165.6L712.4 165.8L711.3 165.4L711.6 164.3L712.3 163.4L713.2 164Z"/>
<path class="ci" d="M710.9 160.2L710.4 161L709.6 161.2L709.1 160.6L709 159.9L709.6 159.5L710.4 159.5Z"/>
<path class="ci" d="M708.6 172.5L707.9 173.6L706.8 173.5L706 173.1L706 172L706.9 171.7L707.7 171.8Z"/>
<path class="ci" d="M708.6 158L707.8 159.1L706.6 159.4L705.9 158.5L706 157.5L706.6 156.6L707.7 157.1Z"/>
<path class="ci" d="M698 189L696.6 190.1L695.4 190.7L694 189.8L693.9 188.1L695.3 187.2L697.2 187.2Z"/>
<path class="ci" d="M704.9 209.6L704.8 210.6L703.7 211.1L703.2 210L702.9 209.1L703.7 208.4L704.7 208.7Z"/>
<path class="ci" d="M703.1 211.6L702.5 213.4L700.7 213.4L699.5 212.4L699.5 210.9L700.8 210.2L702.6 209.8Z"/>
<path class="ci" d="M691.2 210.2L691 211.1L689.9 211.6L688.9 210.8L689.2 209.7L690 209.1L691.1 209.2Z"/>
<path class="ci" d="M697.6 206L697.4 207L696.3 207.1L695.4 206.5L695.6 205.5L696.3 205L697.1 205.3Z"/>
<path class="ci" d="M698.5 189.8L697.6 190.8L696.4 191.4L695.3 190.5L695.6 189.2L696.4 188.2L697.8 188.5Z"/>
<path class="ci" d="M694.9 210L694.7 211.1L693.4 211.5L692.9 210.4L692.5 209.4L693.5 208.8L694.7 208.9Z"/>
<path class="ci" d="M693.7 205L693.3 205.9L692.3 206.1L691.5 205.5L691.4 204.4L692.4 204.1L693.1 204.3Z"/>
<path class="ci" d="M689.9 197.4L688.9 198.8L687.4 198.8L686.5 197.9L686.2 196.6L687.4 195.9L688.8 196.1Z"/>
<path class="ci" d="M693.2 209.3L692.5 210.7L691.1 210.6L690.3 209.9L689.8 208.6L691 207.6L692.5 207.9Z"/>
<path class="ci" d="M687.4 198L686.9 199L685.6 199.6L684 198.9L684.4 197.2L685.7 196.5L687.3 196.3Z"/>
<path class="ci" d="M704.3 212.3L703.8 213.7L702.4 213.8L701.2 213.1L701.2 211.6L702.3 210.6L703.5 211.4Z"/>
<path class="ci" d="M694.7 190.8L693.8 192.2L692.2 192.9L690.8 191.8L691 190L692.3 188.9L693.9 189.3Z"/>
<path class="ci" d="M702.3 212.9L701.7 214L700.6 214L699.7 213.4L699.5 212.3L700.5 211.8L701.4 212.2Z"/>
<path class="ci" d="M691.4 196.1L690.2 197.2L688.9 197.9L687.8 196.8L687.3 195.1L688.9 194.4L690.3 194.9Z"/>
<path class="ci" d="M692.5 197.7L691.6 199.4L689.8 199.6L688.7 198.4L688.8 197L689.8 195.8L691.6 196.1Z"/>
<path class="ci" d="M705.9 212.7L705.1 214L703.7 214.3L702.1 213.6L702.2 211.8L703.6 210.7L705 211.4Z"/>
<path class="ci" d="M702.7 188.4L701.6 189.6L700.2 190.7L698.7 189.4L698.9 187.6L700.2 186.2L702 186.8Z"/>
<path class="ci" d="M702.6 212.4L701.9 213.5L700.8 213.4L699.7 213.1L700.1 212L700.7 211.1L701.9 211.4Z"/>
<path class="ci" d="M697 212.6L697.1 214.3L695.2 214.5L693.7 213.5L693.8 211.7L695.2 210.5L697 210.9Z"/>
<path class="ci" d="M696 193.3L695.6 194.6L694.3 194.8L693.6 193.9L693.3 192.7L694.4 192.2L695.3 192.6Z"/>
<path class="ci" d="M697.8 207.3L697.6 208.4L696.4 208.7L695.9 207.7L695.5 206.7L696.5 206.2L697.6 206.2Z"/>
<path class="ci" d="M694 200.1L693.6 200.9L692.7 201.4L691.6 200.8L691.6 199.5L692.7 198.9L693.7 199.2Z"/>
<path class="ci" d="M694.1 211L693.3 212.2L691.9 212.8L690.8 211.8L691.3 210.5L692.1 209.9L693.1 210.1Z"/>
<path class="ci" d="M702.8 212.8L702.1 213.8L701 214.1L700.3 213.2L700.3 212.3L701 211.5L702 211.9Z"/>
<path class="ci" d="M704.6 207L704 208.1L702.8 208.3L701.6 207.7L702.1 206.5L702.8 205.4L703.9 205.9Z"/>
<path class="ci" d="M696.2 210L695.7 211L694.5 211.7L693.8 210.5L693.8 209.5L694.6 208.8L695.6 209.1Z"/>
<path class="ci" d="M691.9 197.6L691.5 199.2L689.9 199.3L688.8 198.3L689.1 197L689.8 195.6L691.1 196.5Z"/>
<path class="ci" d="M704.7 189.3L703.9 190.9L702.4 190.5L701 190.1L701.1 188.5L702.4 188L703.5 188.3Z"/>
<path class="ci" d="M698.8 208.7L698.4 209.7L697.5 209.5L696.8 209.1L696.4 208.1L697.4 207.6L698.4 207.7Z"/>
<path class="ci" d="M694.2 207.1L693.9 208.7L692.2 209L691.4 207.7L691.2 206.4L692.3 205.6L693.9 205.6Z"/>
<path class="ci" d="M695.7 208L695.4 209.2L694.1 209.6L693.3 208.5L693.3 207.4L694.2 206.8L695.5 206.7Z"/>
<path class="ci" d="M689.4 197.4L689.1 198.5L687.9 198.7L687.2 197.9L687.3 196.9L687.9 195.9L689.3 196.1Z"/>
<path class="ci" d="M706.3 212.3L705.9 213.6L704.6 213.8L703.2 213.1L703.4 211.6L704.5 210.4L706.1 210.9Z"/>
<path class="ci" d="M692.5 192.9L692.2 194L691 194.4L690.3 193.5L690.3 192.4L691.1 191.7L692.1 192.1Z"/>
<path class="ci" d="M690.9 201.7L690.6 203L689.3 203.1L688.3 202.4L688.2 201.1L689.2 200L690.3 200.9Z"/>
<path class="ci" d="M688.8 201L688.5 202.5L686.8 203.1L685.3 202L685.5 200.2L687 199.6L688.5 199.4Z"/>
<path class="ci" d="M697.9 207.7L697.5 209.1L696 209.3L694.8 208.5L694.9 207L696 206.1L697.1 206.8Z"/>
<path class="ci" d="M693.1 209.7L692.7 210.8L691.4 211.3L690.2 210.5L690 208.9L691.3 207.7L692.8 208.4Z"/>
<path class="ci" d="M693.6 206.5L693.1 207.5L692.1 207.4L691.5 206.9L691.2 206L692 205.3L693.1 205.5Z"/>
<path class="ci" d="M721.4 213.1L720.8 214L719.9 214.1L719.2 213.5L719.1 212.6L719.9 212.3L720.9 212.1Z"/>
<path class="ci" d="M730.2 203.4L729.5 204.6L728.2 204.9L726.8 204.2L727.4 202.8L728.2 201.9L729.3 202.5Z"/>
<path class="ci" d="M731.5 204.7L731.1 205.3L730.4 205.9L729.9 205.1L729.8 204.3L730.5 204L731.3 204Z"/>
<path class="ci" d="M747.5 193.6L747 194.4L746 194.9L745.4 194L745.4 193.1L746 192.1L747.3 192.4Z"/>
<path class="ci" d="M719.9 211.1L719.5 211.7L718.7 212.3L717.9 211.6L717.9 210.6L718.8 210.2L719.5 210.4Z"/>
<path class="ci" d="M724 210.7L723.9 212.3L722.2 212.6L721.1 211.5L720.8 209.9L722.2 208.8L723.8 209.2Z"/>
<path class="ci" d="M745.5 199L744.4 200.1L743.1 200.4L742.2 199.6L742.2 198.3L743.1 197.4L744.5 197.7Z"/>
<path class="ci" d="M754.2 193.5L753.4 194.4L752.5 194.7L751.5 194.1L751.4 192.9L752.4 191.9L753.8 192.2Z"/>
<path class="ci" d="M750.8 196L749.9 197.1L748.7 198L747.6 196.8L747.5 195.3L748.8 194.8L750 194.9Z"/>
<path class="ci" d="M731.2 202.6L730.6 203.8L729.4 203.8L728.6 203.1L728.5 202.1L729.3 201.3L730.4 201.7Z"/>
<path class="ci" d="M746.8 196.3L746.2 197L745.3 197.7L744.4 196.9L744.4 195.7L745.4 195.1L746.3 195.4Z"/>
<path class="ci" d="M710.7 210.1L709.9 210.9L708.9 211.4L708.1 210.6L708.4 209.7L709 209.2L710.1 208.9Z"/>
<path class="ci" d="M733.8 201.5L733.5 202.6L732.3 202.6L731.1 202.2L730.9 200.6L732.3 200.2L733.4 200.4Z"/>
<path class="ci" d="M740.9 196.6L740.7 197.7L739.5 197.9L738.5 197.3L738.3 195.9L739.5 195L740.5 195.8Z"/>
<path class="ci" d="M727.6 204.7L727 205.8L725.6 206.6L724.9 205.3L724.7 204L725.7 202.9L727.1 203.4Z"/>
<path class="ci" d="M739.5 203.7L739.2 205.1L737.5 205.6L736.3 204.5L736.7 203.1L737.6 201.9L738.9 202.4Z"/>
<path class="ci" d="M725.2 205.7L724.4 207L723 207.4L721.7 206.5L722.2 205.2L723 203.8L724.3 204.7Z"/>
<path class="ci" d="M754.4 192.5L753.6 193.7L752.3 194.1L751.3 193.2L751.1 191.7L752.4 191L753.5 191.5Z"/>
<path class="ci" d="M736.8 201.3L736.3 202.1L735.5 202.1L734.5 201.8L734.9 200.9L735.5 200.4L736.4 200.4Z"/>
<path class="ci" d="M727.7 203.8L727 205L725.8 205L725 204.3L725 203.2L725.8 202.4L726.8 202.8Z"/>
<path class="ci" d="M726.2 205.4L726.1 206.4L725.2 206.2L724.3 206L724.5 205L725.1 204.4L726.1 204.6Z"/>
<path class="ci" d="M736.8 199.4L736.5 200.5L735.4 200.8L734.2 200.2L734.4 198.8L735.3 197.7L736.7 198.2Z"/>
<path class="ci" d="M709.8 209.6L709.1 210.5L708.1 211.1L707.2 210.2L707.3 209.1L708.2 208.6L709.1 208.7Z"/>
<path class="ci" d="M709.5 209.9L708.8 210.7L707.9 211.4L707.1 210.4L707 209.3L708 208.9L709 208.9Z"/>
<path class="ci" d="M746.5 197.1L745.8 198.7L744.1 199.2L742.9 197.9L743.2 196.5L744.2 195.8L745.7 195.6Z"/>
<path class="ci" d="M719.2 208.1L719 209.1L717.9 209.2L716.7 208.8L716.9 207.5L717.8 206.6L719.2 206.9Z"/>
<path class="ci" d="M758.7 190.9L758.1 192.1L756.7 192.4L755.3 191.8L755.3 190.1L756.8 189.5L758.2 189.5Z"/>
<path class="ci" d="M742.2 201.7L742 202.5L741.1 202.7L740.6 202.1L740.6 201.3L741.1 200.6L742.1 200.8Z"/>
<path class="ci" d="M706.7 209.6L706.1 210.9L704.8 210.8L704 210.1L703.5 208.8L704.8 208.3L706.2 208.3Z"/>
<path class="ci" d="M736 203.5L735.4 205L733.8 205.2L733.1 204L732.6 202.7L733.9 202L735 202.4Z"/>
<path class="ci" d="M717.5 212.5L717 213.3L716.2 213.5L715.2 213L715.3 211.9L716.2 211.6L717.1 211.6Z"/>
<path class="ci" d="M752.2 191.6L751.6 192.4L750.8 192.4L750.2 192L750 191.1L750.8 190.6L751.6 191Z"/>
<path class="ci" d="M726 212.2L725.2 213L724.3 213.4L723.2 212.9L723.4 211.6L724.3 210.8L725.3 211.4Z"/>
<path class="ci" d="M741.5 198.1L741.2 199.1L740 199.7L738.9 198.8L739.3 197.6L740 196.6L741.5 196.7Z"/>
<path class="ci" d="M715.2 213.4L714.6 214.7L713.2 214.8L712.5 213.9L712.2 212.7L713.3 212.1L714.5 212.1Z"/>
<path class="ci" d="M717.3 212.8L716.9 214L715.6 214.2L715.1 213.2L714.7 212.2L715.7 211.7L716.6 212Z"/>
<path class="ci" d="M729 204.9L728.3 205.7L727.5 205.9L726.6 205.4L726.5 204.3L727.4 203.5L728.7 203.7Z"/>
<path class="ci" d="M753.2 190.8L752.6 191.8L751.2 192.9L750.2 191.5L750.1 190L751.4 189.4L752.9 189.3Z"/>
<path class="ci" d="M742.5 200.8L742 202L740.8 201.9L740 201.3L739.6 200.1L740.7 199.2L742 199.7Z"/>
<path class="ci" d="M748.3 195L747.4 196L746.4 196.3L745.5 195.6L745.3 194.4L746.3 193.3L747.7 193.7Z"/>
<path class="ci" d="M735.8 202.7L735.7 204.1L734.2 204.4L733.4 203.3L733.4 202.2L734.2 201L735.8 201.2Z"/>
<path class="ci" d="M724.8 213L724.3 213.7L723.5 213.8L722.6 213.5L722.7 212.5L723.5 211.8L724.5 212.1Z"/>
<path class="ci" d="M751.1 192.2L751.1 193.6L749.6 193.8L748.6 192.9L748.9 191.7L749.7 190.8L750.7 191.3Z"/>
<path class="ci" d="M724.5 208.8L724.3 209.8L723.2 210.1L722.3 209.4L722.6 208.3L723.2 207.7L724.3 207.8Z"/>
<path class="ci" d="M721.8 210L721.2 211.4L719.7 212L718.3 210.9L718.9 209.4L719.8 208.4L721.1 208.9Z"/>
<path class="ci" d="M742.2 194.4L741.8 195.6L740.5 195.7L739 195.3L739.3 193.7L740.4 192.6L742.1 192.8Z"/>
<path class="ci" d="M705.1 214.9L704.8 215.9L703.7 216.2L702.8 215.5L703.1 214.5L703.8 213.8L704.9 213.9Z"/>
<path class="ci" d="M726.2 220.3L725.4 221.2L724.4 221.6L723.5 220.8L724 219.9L724.4 218.9L725.5 219.3Z"/>
<path class="ci" d="M702.7 216L702.3 216.6L701.6 216.9L701.2 216.3L700.8 215.6L701.5 214.9L702.5 215.1Z"/>
<path class="ci" d="M720.9 219.8L720.4 220.4L719.8 220.8L719.2 220.2L719.3 219.5L719.7 218.6L720.5 219.2Z"/>
<path class="ci" d="M726.2 221.6L725.6 222.3L724.9 222.5L724.4 222L724.2 221.2L724.9 220.7L725.6 221Z"/>
<path class="ci" d="M707.7 215.3L707.2 215.9L706.5 216.1L706.1 215.6L705.9 214.9L706.5 214.3L707.3 214.5Z"/>
<path class="ci" d="M720.6 217.7L720.4 218.4L719.7 218.4L718.9 218.2L719.1 217.4L719.6 216.7L720.4 217.1Z"/>
<path class="ci" d="M719.1 221.3L718.5 222.1L717.6 222.2L716.7 221.9L717 220.9L717.6 220.2L718.6 220.3Z"/>
<path class="ci" d="M545.6 400.6L545.3 401.2L544.7 401.2L544.1 401L544.1 400.3L544.6 399.8L545.2 400.1Z"/>
<path class="ci" d="M554.8 387.1L554.4 387.6L553.9 387.7L553.2 387.5L553.4 386.8L553.9 386.3L554.6 386.5Z"/>
<path class="ci" d="M483 507.3L482.7 507.8L482.2 507.9L481.7 507.6L481.7 507.1L482.2 506.7L482.7 506.8Z"/>
<path class="ci" d="M492.7 492.5L492.4 493.1L491.8 493.2L491 492.9L491.1 492.1L491.7 491.6L492.6 491.6Z"/>
<path class="ci" d="M530.1 428.5L529.9 429L529.4 429.1L529 428.8L528.9 428.2L529.3 427.9L529.8 428.1Z"/>
<path class="ci" d="M485.6 503.1L485.5 503.8L484.8 503.7L484.4 503.3L484.1 502.7L484.8 502.3L485.5 502.3Z"/>
<path class="ci" d="M569.1 368.4L568.7 368.9L568.2 369.1L567.8 368.7L567.9 368.2L568.3 367.9L568.7 368Z"/>
<path class="ci" d="M520.2 447.4L520.1 447.9L519.5 448.1L519.1 447.7L518.9 447L519.5 446.8L520 447Z"/>
<path class="ci" d="M503.3 476.4L503 476.8L502.5 477.2L502.1 476.7L502 476.1L502.5 475.9L503 475.9Z"/>
<path class="ci" d="M525.8 438L525.2 438.9L524.3 439.1L523.7 438.4L523.7 437.6L524.3 437.3L525.1 437.3Z"/>
<path class="ci" d="M480.1 509.2L479.7 510L478.9 510.1L478.2 509.7L478.4 508.9L478.8 508.1L479.6 508.6Z"/>
<path class="ci" d="M508 469.3L507.7 469.8L507.2 469.9L506.6 469.6L506.8 469L507.2 468.5L507.8 468.6Z"/>
<path class="ci" d="M510.1 457.1L509.7 457.5L509.2 457.6L508.8 457.4L508.8 456.8L509.2 456.5L509.7 456.6Z"/>
<path class="ci" d="M574.5 361L574.3 361.5L573.7 361.6L573.3 361.2L573.3 360.7L573.7 360.1L574.3 360.5Z"/>
<path class="ci" d="M554.9 395.9L554.6 396.7L553.8 396.8L553 396.4L553.3 395.6L553.8 395.1L554.6 395.2Z"/>
<path class="ci" d="M512.9 464.8L512.6 465.4L512 465.5L511.3 465.3L511.3 464.4L511.9 463.7L512.9 464Z"/>
<path class="ci" d="M515.6 458.7L515.4 459.5L514.5 459.8L514.1 459L514 458.4L514.6 458.1L515.2 458.2Z"/>
<path class="ci" d="M516.4 459.1L516.3 459.7L515.7 459.6L515.3 459.4L515.2 458.8L515.7 458.6L516.1 458.7Z"/>
<path class="ci" d="M558.2 386.4L558 387.2L557.2 387.2L556.8 386.7L556.7 386L557.2 385.5L558 385.7Z"/>
<path class="ci" d="M545.3 404.4L544.9 405L544.2 405.4L543.8 404.7L543.8 404.1L544.2 403.4L545.1 403.6Z"/>
<path class="ci" d="M485.5 501.4L485.2 501.7L484.8 502L484.3 501.7L484.3 501.1L484.8 500.7L485.4 500.8Z"/>
<path class="ci" d="M571.1 364.9L570.6 365.4L570.1 365.7L569.7 365.2L569.7 364.6L570.1 364.2L570.8 364.3Z"/>
<path class="ci" d="M569.7 375.7L569.7 376.6L568.8 376.7L568.2 376.1L568.4 375.4L568.9 374.8L569.5 375.1Z"/>
<path class="ci" d="M488.5 503.7L488.1 504.2L487.5 504.4L487 504L487.2 503.4L487.5 502.8L488.1 503.2Z"/>
<path class="ci" d="M573.5 365.9L573.1 366.7L572.3 366.6L571.8 366.2L571.5 365.4L572.3 365L573.1 365Z"/>
<path class="ci" d="M486 497.9L485.7 498.5L485.1 498.7L484.5 498.3L484.5 497.5L485.1 497.1L485.9 497.1Z"/>
<path class="ci" d="M525.6 432.8L525.3 433.4L524.8 433.5L524.1 433.3L524.3 432.5L524.8 432.2L525.4 432.2Z"/>
<path class="ci" d="M514.1 459.5L514 460.3L513.1 460.6L512.5 459.9L512.4 459L513.1 458.5L514 458.7Z"/>
<path class="ci" d="M551.3 405.1L550.9 405.9L550 406.1L549.2 405.6L549.4 404.7L550 404.1L550.9 404.3Z"/>
<path class="ci" d="M530.8 427.2L530.8 428.1L529.8 428.1L528.8 427.7L529 426.7L529.7 426L530.5 426.5Z"/>
<path class="ci" d="M537 423.6L536.7 424.2L536 424.3L535.4 423.9L535.2 423.1L536 422.5L536.6 423Z"/>
<path class="ci" d="M523.3 439.5L522.7 440L522.2 440.3L521.6 439.9L521.6 439.2L522.1 438.6L522.9 438.8Z"/>
<path class="ci" d="M504.1 475L504.1 475.7L503.3 475.8L503 475.3L503 474.8L503.4 474.5L503.9 474.6Z"/>
<path class="ci" d="M526.5 442L525.9 442.7L525.1 443.2L524.6 442.3L524.6 441.7L525.1 441L525.9 441.3Z"/>
<path class="ci" d="M567 378.9L566.6 379.3L566.1 379.6L565.8 379.1L565.5 378.5L566.1 378L566.8 378.2Z"/>
<path class="ci" d="M560.4 384.1L560.1 384.4L559.7 384.7L559.3 384.3L559.3 383.8L559.7 383.6L560.2 383.6Z"/>
<path class="ci" d="M483.7 508.6L483.5 509.1L483 509.3L482.7 508.8L482.5 508.3L483 508.1L483.5 508.1Z"/>
<path class="ci" d="M496.1 486.1L496.1 487L495.2 487.1L494.7 486.5L494.7 485.7L495.2 485.2L496 485.4Z"/>
<path class="ci" d="M551.6 403.9L551.2 404.3L550.7 404.5L550.2 404.2L550.3 403.6L550.7 403.1L551.3 403.4Z"/>
<path class="ci" d="M522.1 445.2L521.7 445.7L521.1 446.2L520.5 445.6L520.7 444.9L521.1 444.3L521.9 444.5Z"/>
<path class="ci" d="M323.1 592.9L322.5 593.7L321.6 594.2L320.9 593.4L321.1 592.5L321.7 592L322.6 592Z"/>
<path class="ci" d="M407.2 550L406.5 550.7L405.7 550.9L404.8 550.5L404.9 549.5L405.7 549L406.6 549.1Z"/>
<path class="ci" d="M427.3 537.8L426.4 538.5L425.7 538.8L424.8 538.3L425.1 537.4L425.7 536.8L426.7 536.8Z"/>
<path class="ci" d="M388.7 557.2L388.2 557.8L387.5 558.2L387 557.6L387.1 556.9L387.6 556.5L388.3 556.5Z"/>
<path class="ci" d="M379.7 562.7L379.5 563.4L378.7 563.5L378.1 563.1L378.3 562.4L378.8 562.1L379.4 562.1Z"/>
<path class="ci" d="M446.1 528.8L445.6 529.3L445.1 529.4L444.7 529L444.4 528.4L445.1 528.3L445.6 528.4Z"/>
<path class="ci" d="M336.7 585.4L336.1 586L335.5 586.1L334.8 585.8L334.9 585L335.4 584.3L336.2 584.7Z"/>
<path class="ci" d="M332.6 588.4L331.8 589L331.1 589.3L330.2 588.9L330.5 588L331.1 587.5L332 587.4Z"/>
<path class="ci" d="M302.1 601.4L301.9 602L301.3 602.1L300.6 601.8L300.8 601.1L301.2 600.3L302 600.6Z"/>
<path class="ci" d="M374.6 568.4L374.4 569L373.8 569.2L373.2 568.8L373.4 568.1L373.8 567.8L374.6 567.7Z"/>
<path class="ci" d="M384 561.6L383.5 562.1L382.9 562.3L382.2 562L382.3 561.2L382.9 560.8L383.6 560.9Z"/>
<path class="ci" d="M359.4 572.6L358.7 573.4L357.8 573.9L357 573.1L357.1 572.1L357.8 571.5L358.9 571.5Z"/>
<path class="ci" d="M419.2 543.4L419 544.4L418 544.4L417.4 543.8L417.4 543L418 542.6L418.8 542.7Z"/>
<path class="ci" d="M327.5 590.9L327.2 591.4L326.5 591.7L326 591.2L326 590.5L326.5 590L327.2 590.2Z"/>
<path class="ci" d="M350.7 580.6L350.6 581.1L350.1 581.2L349.6 580.9L349.7 580.4L350.1 580.1L350.5 580.3Z"/>
<path class="ci" d="M467.6 519.1L467.2 520L466.3 520L465.7 519.5L465.4 518.6L466.3 518.2L467.1 518.3Z"/>
<path class="ci" d="M344.2 579.4L343.8 580.2L343 580.3L342.2 579.9L342.4 579.1L343 578.5L343.7 578.8Z"/>
<path class="ci" d="M321.6 594.4L321.1 595L320.3 595.6L319.7 594.8L319.4 593.8L320.3 593L321.1 593.7Z"/>
<path class="ci" d="M472.1 513.8L472 514.5L471.4 514.4L470.7 514.2L470.7 513.5L471.3 513.1L472.1 513.1Z"/>
<path class="ci" d="M452.9 524.7L452.8 525.6L451.8 525.7L451 525.1L451.3 524.3L451.7 523.6L452.6 523.9Z"/>
<path class="ci" d="M445.7 528.5L445.3 529L444.6 529.6L444.1 528.9L444.1 528.1L444.6 527.4L445.3 527.9Z"/>
<path class="ci" d="M437.8 531.6L437.5 532.1L437 532.3L436.4 531.9L436.6 531.3L437 530.9L437.6 531Z"/>
<path class="ci" d="M431.8 532.2L431.6 533.1L430.5 533.4L429.7 532.7L430.1 531.8L430.6 531.4L431.4 531.5Z"/>
<path class="ci" d="M317.5 594.4L317.4 595.1L316.7 595L316 594.8L316.1 594L316.7 593.6L317.3 593.9Z"/>
<path class="ci" d="M417.1 544L416.8 544.7L416.2 544.7L415.7 544.3L415.7 543.7L416.2 543.4L416.9 543.3Z"/>
<path class="ci" d="M436 532.8L435.5 533.3L434.9 533.5L434.5 533L434.2 532.3L434.9 532.2L435.4 532.3Z"/>
<path class="ci" d="M390.2 556.8L389.9 557.3L389.2 557.8L388.8 557.1L388.8 556.5L389.2 555.8L389.9 556.2Z"/>
<path class="ci" d="M298.8 607.2L298.8 608.1L297.9 608L297.1 607.7L297.3 606.8L297.9 606.5L298.6 606.6Z"/>
<path class="ci" d="M430 537.5L429.7 538.4L428.8 538.2L427.9 538L428.3 537.2L428.8 536.6L429.6 536.7Z"/>
<path class="ci" d="M470.8 515.1L470.5 516L469.6 516.2L468.7 515.7L469 514.7L469.6 514.1L470.3 514.5Z"/>
<path class="c" d="M618.5 516.5L622 514.5L626.5 516.5L625.5 521L620 521.5Z"/>
<path class="c" d="M632 517L634 513L638.5 510.5L639.5 513.5L636.5 517.5L633.5 519.5Z"/>
<path class="c" d="M743 462L743 458.8L742.5 455L744.5 452.3L746 450L748.5 446L751 448L750.1 451.5L749 455L748 457.8L747 461L745 465Z"/>
<path class="r" d="M535 265.5C534.5 266.3 533.2 268.5 532.1 270.1C531 271.7 529.8 273.6 528.3 275.1C526.8 276.6 525.3 277.7 523.2 278.9C521.1 280.1 518.2 281.4 515.7 282.1C513.2 282.8 510.4 282.8 508.1 283.3C505.8 283.8 503.9 284.4 501.8 285.2C499.7 286 497.8 287.7 495.5 288.4C493.2 289.1 490.4 289 487.9 289.6C485.4 290.2 483.1 291.5 480.4 292.2C477.7 292.9 474.4 293.5 471.5 294C468.6 294.5 465.6 294.7 462.7 295.3C459.8 295.9 456.4 296.9 453.9 297.8C451.4 298.8 449.7 300.2 447.6 301C445.5 301.8 443.8 301.8 441.3 302.3C438.8 302.8 435.2 303.8 432.5 303.9C429.8 303.9 427.4 302.4 424.9 302.6C422.4 302.8 419.9 304.1 417.4 305.1C414.9 306.2 412.5 307.6 409.8 308.9C407.1 310.2 403.7 312 401 312.7C398.3 313.4 396.3 313.5 393.4 313.3C390.4 313.1 386.7 312.3 383.3 311.4C379.9 310.5 376.1 308.9 373.2 307.7C370.3 306.4 368.2 305.2 365.7 303.9C363.2 302.6 360.6 301.2 358.1 300.1C355.6 299.1 353.4 298.5 350.5 297.6C347.6 296.8 343.5 295.9 340.4 295C337.2 294.1 334.6 293.6 331.6 291.9C328.6 290.2 325 287.5 322.2 284.9C319.4 282.3 317.4 278.4 314.7 276.1C312 273.8 309.3 270.5 306 271.1C302.7 271.7 297.8 276.8 294.7 279.9C291.6 283 290.1 286.8 287.2 289.9C284.3 293 281.8 296.3 277.2 298.6C272.6 300.9 265.2 302.6 259.8 303.6C254.4 304.6 249 304 244.8 304.8C240.6 305.6 237.3 306.5 234.8 308.6C232.3 310.7 232.7 314.6 229.8 317.3C226.9 320 220.4 322.3 217.3 324.8C214.2 327.3 212.6 329.4 211.1 332.3C209.6 335.2 208.2 339.4 208.6 342.3C209 345.2 210.1 347.3 213.6 349.8C217.1 352.3 224.6 354.4 229.8 357.3C235 360.2 241.1 364 244.8 367.4C248.6 370.8 250.6 373.2 252.3 377.4C254 381.6 253.6 388.2 254.8 392.4C256.1 396.6 257.7 399.9 259.8 402.4C261.9 404.9 264.4 406.6 267.3 407.4C270.2 408.2 274.7 407.2 277.2 407.4C279.7 407.6 280.1 408.8 282.2 408.6C284.3 408.4 285.1 406.2 289.7 406.1C294.3 406 303.9 408.1 309.7 407.9C315.5 407.7 319.6 405.4 324.7 404.9C329.8 404.3 335.4 404.3 340 404.6C344.6 404.9 348.8 405.4 352.6 406.5C356.4 407.6 359.3 410.4 362.7 411.5C366.1 412.6 369.4 413.6 372.8 413.4C376.2 413.2 379.8 411.9 382.9 410.3C386 408.7 388.8 405.5 391.7 404C394.6 402.5 397.8 401.4 400.5 401.4C403.2 401.4 405.6 402.8 408.1 404C410.6 405.2 412.8 407.5 415.7 408.4C418.6 409.3 422.3 409.3 425.7 409.6C429.1 409.9 432.6 410.7 435.8 410.3C439 409.9 441.8 408.3 444.7 407.1C447.6 405.9 449.9 404.6 453.5 403.3C457.1 402 462.3 400.6 466.1 399.5C469.9 398.4 473.1 397.5 476.2 396.4C479.3 395.2 482.1 393.8 485 392.6C487.9 391.5 490.7 390.1 493.8 389.5C496.9 388.9 500.5 388.6 503.9 388.8C507.3 389 511 390.4 514 390.7C517 391 519.4 391.1 522 390.7C524.6 390.3 527.1 388.9 529.9 388.1C532.7 387.4 535.8 386.6 538.7 386.2C541.6 385.8 544.8 385.9 547.4 385.9C550 385.9 553.1 386.1 554.3 386.2"/>
<path class="r" d="M365.7 303.9C366.5 302.8 369 299.5 370.7 297.6C372.4 295.7 374.3 294.2 375.8 292.5C377.3 290.8 378.6 289.9 379.6 287.4C380.7 284.9 380 280.1 382.1 277.4C384.2 274.7 388.4 273 392.1 271.1C395.9 269.2 400 267.6 404.6 266.1C409.2 264.7 415 263.5 419.6 262.4C424.2 261.3 428.6 260.6 432 259.4C435.4 258.1 437.8 256.9 440 254.9C442.2 252.9 443.3 250.1 445 247.4C446.7 244.7 448.3 240.9 450 238.7C451.7 236.5 453.3 235.1 455 234.3C456.7 233.5 458.3 234.8 460 233.7C461.7 232.6 463.1 228.9 465 227.5C466.9 226.1 469.1 225.7 471.2 225C473.3 224.3 475.2 224 477.5 223.1C479.8 222.2 482.4 220.8 484.9 219.3C487.4 217.8 489.8 216.1 492.4 214.3C495 212.5 499.1 209.5 500.5 208.5"/>
<path class="r" d="M324.7 404.9C324.9 403.2 325.1 397.8 325.9 394.9C326.7 392 327.3 389.3 329.7 387.4C332.1 385.5 336.9 384.4 340.4 383.3C343.9 382.2 347.6 381.9 350.5 380.8C353.4 379.8 356 378.5 358.1 377C360.2 375.5 361.4 373.5 363.1 372C364.8 370.5 365.9 369.1 368.2 368.2C370.5 367.3 374.3 367.1 377 366.9C379.7 366.7 382.1 365.9 384.6 366.9C387.1 367.8 390 371.4 392.1 372.6C394.2 373.8 395.7 374.2 397.2 373.9C398.7 373.6 400.3 372.5 401 370.7C401.7 368.9 401.2 365 401.6 363.1C402 361.2 401.9 360.6 403.5 359.4C405.1 358.1 408.8 356.8 411.1 355.6C413.4 354.4 414.9 352.8 417.4 352.4C419.9 352 423 352.6 426.2 353.1C429.4 353.6 432.9 354.8 436.3 355.6C439.7 356.4 443 357.9 446.4 358.1C449.8 358.3 453.4 358 456.5 356.8C459.6 355.6 462.5 352.4 465.2 350.8C467.9 349.2 470.1 348.1 472.8 347C475.5 345.9 479.1 344.4 481.6 343.9C484.1 343.4 485.6 343.5 487.9 343.9C490.2 344.3 493 345.7 495.5 346.4C498 347.1 501 348 503.1 348.3C505.2 348.6 506 348.9 508.1 348.3C510.2 347.7 512.3 346.2 515.7 344.5C519.1 342.8 524.1 340.1 528.3 338.2C532.5 336.3 536.7 334.7 540.9 333.1C545.1 331.5 549.3 330.1 553.5 328.7C557.7 327.3 561.9 326 566.1 324.9C570.3 323.8 574.7 322.9 578.7 321.8C582.7 320.8 588.2 319.1 590.1 318.6"/>
<circle class="d" cx="475.1" cy="281.2" r="6.5"/>
<circle class="d" cx="486.7" cy="336.3" r="6.5"/>
<circle class="d" cx="385.2" cy="370.7" r="6.5"/>
<circle class="d" cx="289.7" cy="401.1" r="6.5"/>
</g>
</defs>
<rect width="1450" height="761" fill="#fff"/>
<g clip-path="url(#cl)">
<rect x="78.6" y="40" width="672.8" height="612.2" fill="#80fef8"/>
<path fill="#94fec2" d="M70 437C71.7 504.7 73.8 436.4 80 436C86.2 435.6 98.8 435.4 107.5 434.8C116.2 434.2 124.5 431.9 132.4 432.3C140.3 432.7 150.4 437.7 155 437.3C159.6 436.9 160.4 432.3 160 429.8C159.6 427.3 157.8 424.2 152.4 422.3C147 420.4 132.2 420.7 127.4 418.6C122.6 416.6 123.3 413.5 123.7 410C124.1 406.5 130 402 130 397.4C130 392.8 126 386.6 123.7 382.4C121.4 378.2 118.9 375.1 116.2 372.4C113.5 369.7 107.7 367.9 107.5 366C107.3 364.1 110.8 362.2 115 361C119.2 359.8 127.8 360.5 132.4 358.7C137 356.9 138.6 353.5 142.4 350C146.2 346.5 151.9 341.1 155 337.5C158.1 333.9 162.7 331 161 328.7C159.3 326.4 151.8 325.4 145 323.7C138.2 322 127.1 319.7 120 318.7C112.9 317.7 106.7 317.3 102.5 317.5C98.3 317.7 96 320.4 95 320C94 319.6 94.9 317.1 96.7 315.2C98.5 313.3 104.8 311 105.9 308.5C107 306 104.9 302.4 103.4 300.2C101.9 298 97.7 297.1 96.7 295.2C95.7 293.2 96 290.2 97.5 288.5C99 286.8 104.4 286.5 105.9 285.1C107.4 283.7 103.2 282.3 106.7 280.1C110.2 277.9 122.6 274 126.8 271.8C131 269.6 130.1 267.1 131.8 266.8C133.5 266.5 133.8 269 136.8 270.1C139.8 271.2 147.2 271.6 150 273.5C152.8 275.4 150.7 279.9 153.5 281.8C156.3 283.7 162.9 283.2 166.8 285.1C170.7 287.1 173.5 291.3 176.8 293.5C180.2 295.7 182.4 296.6 186.9 298.5C191.4 300.4 198 303.2 203.6 305.2C209.2 307.1 215.9 308.5 220.3 310.2C224.8 311.9 227.5 313.5 230.3 315.2C233.1 316.9 234.2 318.7 237 320.2C239.8 321.7 242.8 323.8 247 324.4C251.2 324.9 257 324.8 262 323.5C267 322.2 272.8 319.7 277 316.9C281.2 314.1 284.2 310.7 287 306.8C289.8 302.9 290.9 297.9 293.7 293.5C296.5 289.1 300.6 283.7 303.7 280.1C306.8 276.5 309.3 274.3 312 271.8C314.7 269.3 314.2 268.6 319.7 265C325.1 261.4 336.4 254.6 344.7 250C353 245.4 361.3 240.7 369.6 237.4C377.9 234.1 386.3 232.9 394.6 230C402.9 227.1 413.4 222.3 419.6 220C425.8 217.7 426.9 217.2 432 216C437.1 214.8 442.8 214.8 449.9 212.5C457 210.2 468.6 205.4 474.9 202.5C481.1 199.6 482.8 196.7 487.4 195C492 193.3 498.2 193.2 502.4 192.4C506.6 191.6 508.7 190.7 512.4 189.9C516.1 189.1 520.6 188 524.8 187.4C528.9 186.8 533.1 186.5 537.3 186.1C541.5 185.7 545.6 185.5 549.8 184.9C554 184.3 558.1 183.2 562.3 182.4C566.5 181.6 571.7 180.6 574.8 179.9C577.9 179.2 578 179.2 581 178.5C584 177.8 588.6 176.8 592.6 175.7C596.6 174.6 601.4 172.9 605.2 171.9C609 170.9 612.6 168.8 615.3 169.4C618 170 618 174.9 621.6 175.7C625.2 176.5 632.1 175 636.7 174.4C641.3 173.8 645.2 173.2 649.4 171.9C653.6 170.6 658 168.5 662 166.8C666 165.1 670.1 162.2 673.3 161.8C676.4 161.4 677.9 163.7 680.9 164.3C683.9 164.9 687.9 165 691 165.6C694.1 166.2 698.3 166.4 699.8 168.1C701.3 169.8 700.6 173.4 700 175.7C699.4 178 697.2 179.6 696 182C694.8 184.4 692.3 187 693 190C693.7 193 696.8 200 700 200C703.2 200 709.3 196.7 712 190C714.7 183.3 715.3 170.7 716 160C716.7 149.3 717.6 134.2 716 126C714.4 117.8 709.1 114.5 706.1 110.7C703.1 106.9 701 104.4 698 103C695 101.6 689.8 103.3 688.4 102.5C687 101.7 689.1 100.1 689.7 98.1C690.3 96.1 691.6 93 692.2 90.5C692.8 88 693.7 85.7 693.5 83C693.3 80.3 691 76.6 691 74.1C691 71.6 691.8 70.3 693.5 67.8C695.2 65.3 698.7 61.3 701 59C703.3 56.7 705.3 54 707.4 54C709.5 54 711.8 57.9 713.7 59C715.6 60.1 715.8 60.5 718.7 60.9C721.6 61.3 727.9 60.8 731.3 61.5C734.7 62.2 735.8 63.4 738.9 65.3C742 67.2 746.7 71.1 750.2 72.9C753.7 74.7 758.4 83.2 760 76C761.6 68.8 875 37.7 760 30C645 22.3 185 -37.8 70 30C-45 97.8 68.3 369.3 70 437Z"/>
<path fill="#baf886" d="M70 257C71.7 294.8 74.4 257.2 80 256.8C85.6 256.4 91.7 254.7 103.4 254.3C115.1 253.9 140.6 253.5 150 254.3C159.4 255.1 156.9 257 160 259.3C163.1 261.6 166 265.2 168.5 268.4C171 271.6 171.9 276 175 278.5C178.1 281 182.1 281.4 186.9 283.5C191.7 285.6 198 288.5 203.6 291C209.2 293.5 214.7 297 220.3 298.5C225.9 300 231.4 299.9 237 300.2C242.6 300.5 248 300.8 253.6 300.2C259.1 299.6 265.6 298.5 270.3 296.8C275 295.1 279.5 293 282 290.2C284.5 287.4 283.7 284 285.4 280.1C287.1 276.2 290.3 271 292 266.8C293.7 262.6 293.4 258.4 295.4 255C297.3 251.7 300.9 249.2 303.7 246.7C306.5 244.2 307.2 242.8 312 240C316.8 237.2 324.7 233.3 332.2 230C339.7 226.7 348.7 223.8 357 220C365.3 216.2 374.8 211.7 382 207.5C389.2 203.3 395.8 198.3 400 195C404.2 191.7 404.4 189.5 407.5 187.4C410.6 185.3 415.8 184.5 418.7 182.4C421.6 180.3 423.9 177 425 174.9C426.1 172.8 423.3 171.2 425 169.9C426.7 168.6 431.3 167.3 435 166.8C438.7 166.3 443.2 166.3 447.4 166.8C451.5 167.3 455.7 168.8 459.9 169.9C464.1 171.1 468.2 172.9 472.4 173.7C476.6 174.5 481.1 174.7 484.9 174.9C488.6 175.1 492.4 174.1 494.9 174.9C497.4 175.7 497 179.7 499.9 179.9C502.8 180.1 508.2 177.2 512.4 176.2C516.5 175.2 520.6 174.5 524.8 173.7C528.9 172.9 533.5 171.5 537.3 171.2C541 170.9 544.2 172.4 547.3 171.8C550.4 171.2 553.2 169 556.1 167.4C559 165.8 561.7 163.7 564.8 162.4C567.9 161.2 572.1 160.7 574.8 159.9C577.5 159.1 578 159.1 581 157.7C584 156.3 588.6 153.8 592.6 151.7C596.6 149.6 601.8 146.9 605.2 145.4C608.6 143.9 608.6 143.3 612.8 142.9C617 142.5 625.4 143.3 630.4 142.9C635.4 142.5 638.8 140.8 643 140.4C647.2 140 651.5 140.6 655.7 140.4C659.9 140.2 664.9 138.9 668.3 139.1C671.6 139.3 672.6 140.3 675.8 141.6C678.9 142.9 683.6 145 687.2 146.7C690.8 148.4 694.6 150.6 697.3 151.7C700 152.8 701.8 154.7 703.6 153C705.4 151.3 706.3 145.1 708 141.6C709.7 138.1 713.3 134.7 714 132C714.7 129.3 713.9 126.7 712.4 125.2C710.9 123.8 707.1 124.9 704.8 123.3C702.5 121.7 701.2 117.8 698.5 115.7C695.8 113.6 691.3 112 688.4 110.7C685.5 109.5 683 109.2 680.9 108.2C678.8 107.2 677.9 106.1 675.8 104.4C673.7 102.7 670 100.6 668.3 98.1C666.6 95.6 665.9 92.7 665.7 89.3C665.5 85.9 666.6 81.5 667 77.9C667.4 74.3 668.5 71 668.3 67.8C668.1 64.6 666.6 61.6 665.7 59C664.8 56.4 665.3 54.2 663 52C660.7 49.8 655.5 48.3 652 46C648.5 43.7 739 40.7 642 38C545 35.3 165.3 -6.5 70 30C-25.3 66.5 68.3 219.2 70 257Z"/>
<path fill="#baf886" d="M735 38C731 39.7 736.3 44.7 736 48C735.7 51.3 732.7 55.3 733 58C733.3 60.7 736 62.3 738 64C740 65.7 742.5 66.5 745 68C747.5 69.5 750.5 71.8 753 73C755.5 74.2 758.8 80.8 760 75C761.2 69.2 764.2 44.2 760 38C755.8 31.8 739 36.3 735 38Z"/>
<path fill="#d4d976" d="M70 243.4C71.7 279 75.5 244.4 80 243.4C84.5 242.4 90 238.3 96.7 237.6C103.4 236.9 115.3 239.5 120 239.2C124.7 238.9 120.2 236.8 125 236C129.8 235.2 142.7 233.9 148.5 234.2C154.3 234.5 156.4 236.1 160 237.6C163.6 239.1 165.5 241.6 170 243.4C174.5 245.2 181.6 246.7 186.9 248.4C192.2 250.1 198.3 251.2 201.9 253.4C205.5 255.6 206.8 258.9 208.6 261.8C210.4 264.7 209.4 269.8 212.7 271C216 272.2 223.2 269.5 228.6 269.3C234 269.1 241.8 269.6 245.3 270C248.8 270.4 247.1 271.9 249.5 271.8C251.9 271.7 257.7 271 259.5 269.3C261.3 267.6 259.6 263.8 260.3 261.8C261 259.9 264.8 258.9 263.7 257.6C262.6 256.4 257.5 255 253.6 254.3C249.7 253.6 244.8 253.7 240.3 253.4C235.9 253.1 229.3 253.4 226.9 252.6C224.5 251.8 225.5 250.2 226.1 248.4C226.7 246.6 228.5 243.8 230.3 241.7C232.1 239.6 233.7 237.4 237 235.9C240.3 234.4 245.9 233.2 250.3 232.6C254.8 232 259 232.8 263.7 232.6C268.4 232.4 274 232.7 278.7 231.7C283.4 230.7 287.8 228.4 292 226.7C296.2 225 300.4 222.8 303.7 221.7C307 220.6 309.3 220.7 312 220C314.7 219.3 315.9 220 319.7 217.5C323.5 215 329.3 208.4 334.7 205C340.1 201.6 346.9 198.5 352 197.3C357.1 196.1 360.4 199.6 365 198C369.6 196.4 375.9 191.9 379.6 188C383.3 184.1 384.9 179.1 387 174.8C389.1 170.5 389.8 165.6 392 162.3C394.2 159 397.4 157.6 400 154.9C402.6 152.2 404.8 148.9 407.5 146.2C410.2 143.5 412.7 140.6 416.2 138.7C419.7 136.8 424.5 135.3 428.7 135C432.9 134.7 437.2 135.4 441.2 136.8C445.1 138.2 448.4 141.7 452.4 143.7C456.3 145.7 460.3 147.2 464.9 148.7C469.5 150.1 475.3 151.5 479.9 152.4C484.5 153.3 488 154.1 492.4 154.3C496.8 154.5 501.5 154.2 506.1 153.7C510.7 153.2 515.5 151 519.9 151.2C524.3 151.4 528.3 154.9 532.3 154.9C536.2 154.9 539.6 152.4 543.6 151.2C547.6 149.9 552 148.7 556.1 147.4C560.2 146.2 564.4 145 568.5 143.7C572.6 142.4 577 141.3 581 139.5C585 137.7 588.6 135.4 592.6 132.8C596.6 130.2 601 126.7 605.2 124C609.4 121.3 613.6 118.4 617.8 116.4C622 114.4 626.6 113 630.4 112C634.2 111 637.1 110.5 640.5 110.4C643.9 110.3 646.8 110.9 650.6 111.3C654.4 111.7 658.2 112.2 663.2 112.6C668.2 113 675.9 113.3 680.9 113.9C685.9 114.5 690.1 115.2 693.5 116.4C696.9 117.7 700 122.9 701 121.4C702 119.9 702.5 110.8 699.8 107.6C697.1 104.4 689.2 103.6 684.6 102.5C680 101.4 675.6 100.9 672 101C668.4 101.1 665.1 104 663.2 103.1C661.3 102.2 661.5 98.3 660.7 95.6C659.9 92.9 658.2 89.2 658.2 86.7C658.2 84.2 660.1 82.5 660.7 80.4C661.3 78.3 661.4 76.6 662 74.1C662.6 71.6 664.3 67.8 664.5 65.3C664.7 62.8 664.7 61.1 663.2 59C661.7 56.9 658.6 54.4 655.7 52.7C652.8 51 648.3 50.7 645.6 48.9C642.9 47.1 640.6 44.1 639.3 42C638 39.9 732.9 38 638 36C543.1 34 164.7 -4.6 70 30C-24.7 64.6 68.3 207.8 70 243.4Z"/>
<path fill="#d6b85c" d="M70 226C71.3 258.7 75.7 228.7 78 226C80.3 223.3 81.4 215 84 210C86.6 205 90.7 197.2 93.7 196C96.7 194.8 99.3 200.7 102 203C104.7 205.3 106.4 207.8 110 209.7C113.6 211.6 118.7 213.8 123.7 214.7C128.7 215.6 135.2 215.2 140 215C144.8 214.8 147.4 214.2 152.4 213.5C157.4 212.8 165.4 211.6 170 211C174.6 210.4 176.5 210.5 179.8 209.7C183.1 208.9 187.1 207.2 190 206C192.9 204.8 197 203.7 197.3 202.2C197.6 200.7 193.7 198.2 192 197C190.3 195.8 189.8 195.1 187.3 194.7C184.9 194.3 181.5 195.9 177.3 194.7C173.2 193.5 166.6 190.2 162.4 187.3C158.2 184.4 153.2 180 152.4 177.3C151.6 174.6 155 172.6 157.4 171C159.8 169.4 163.7 168.8 167 168C170.3 167.2 174.3 166.3 177.3 166C180.3 165.7 182.3 165.6 184.8 166C187.3 166.4 189.8 167.9 192.3 168.5C194.8 169.1 197.5 168.3 199.8 169.8C202.1 171.3 204.6 174.8 206 177.3C207.4 179.8 206.2 182.3 208.5 184.8C210.8 187.3 214.6 190.4 219.8 192.3C225 194.2 233.9 197.7 239.7 196C245.5 194.3 252 185.4 254.7 182.3C257.4 179.2 253.5 179.6 256 177.3C258.5 175 266 171.8 269.7 168.5C273.4 165.2 276.3 160.8 278.4 157.3C280.5 153.8 279.9 149.6 282.2 147.3C284.5 145 287.6 144.2 292.2 143.6C296.8 143 305.7 142.8 309.6 143.6C313.6 144.4 312.6 146.9 315.9 148.6C319.2 150.3 324 153 329.6 153.6C335.2 154.2 343 152.7 349.6 152.3C356.2 151.9 365.1 152.7 369.5 151C373.9 149.3 373.7 147.1 375.8 142.3C377.9 137.5 380.3 127.8 382 122.4C383.7 117 386 114.1 385.8 109.9C385.6 105.7 380.2 102 380.8 97.4C381.4 92.8 388.7 85.7 389.5 82.4C390.3 79.1 388.3 77.2 385.8 77.4C383.3 77.6 379.7 83.1 374.5 83.7C369.3 84.3 359.8 81.8 354.6 81.2C349.4 80.6 345.6 81.2 343.3 79.9C341 78.7 340.2 75.8 340.8 73.7C341.4 71.6 345.2 68 347.1 67.4C349 66.8 350 70.3 352.1 69.9C354.2 69.5 357.7 67 359.6 64.9C361.5 62.8 363.1 59.8 363.3 57.5C363.5 55.2 360 52.9 360.8 51.2C361.6 49.5 367.7 49 368.3 47.5C368.9 46 365.9 44.4 364.5 42.5C363.1 40.6 408.7 38.1 359.6 36C310.5 33.9 118.3 -1.7 70 30C21.7 61.7 68.7 193.3 70 226Z"/>
<path fill="#d4d976" d="M300.9 67.4C302.2 65.4 307.4 62.5 310.9 62.5C314.5 62.5 319.4 65 322.2 67.4C324.9 69.9 325.7 74.7 327.1 77.4C328.6 80.1 331.3 81.8 330.9 83.7C330.5 85.5 327.1 87.8 324.6 88.7C322.2 89.5 319 87.4 315.9 88.7C312.8 89.9 308.2 96.8 305.9 96.2C303.6 95.5 302.6 88.5 302.2 84.9C301.8 81.4 303.6 77.9 303.4 74.9C303.2 72 299.7 69.5 300.9 67.4Z"/>
<path fill="#d4d976" d="M308.4 126.1C308.6 125.1 311.2 124.1 312.2 124.4C313.1 124.7 314.4 126.9 314.2 127.9C314 128.9 311.9 130.7 310.9 130.4C310 130.1 308.2 127.1 308.4 126.1Z"/>
<path fill="#d4d976" d="M123.7 203.7C125.2 202.1 133.2 198.2 137.4 198C141.6 197.8 147.9 201.3 148.7 202.5C149.5 203.7 145.7 204.2 142.4 205C139.1 205.8 131.8 207.7 128.7 207.5C125.6 207.3 122.2 205.3 123.7 203.7Z"/>
<path fill="#d6b85c" d="M494.9 38.7C483 40.4 491.6 45.6 489.9 48.7C488.2 51.8 487 54.8 484.9 57.5C482.8 60.2 479.5 62.9 477.4 65C475.3 67 472.2 68.7 472.4 69.9C472.6 71.2 475.8 72.2 478.7 72.4C481.6 72.6 486.4 71.6 489.9 71.2C493.4 70.8 497 69.7 499.9 69.9C502.8 70.2 505.3 71.2 507.4 72.4C509.5 73.7 510.7 75.6 512.4 77.4C514 79.3 515.5 82 517.4 83.7C519.2 85.3 521.5 86.7 523.6 87.4C525.7 88.1 529.2 88.5 529.8 88C530.5 87.6 526.9 86.3 527.4 84.9C527.8 83.6 530.9 81.8 532.3 79.9C533.8 78.1 534.8 75.1 536.1 73.7C537.3 72.2 538.4 72.2 539.8 71.2C541.3 70.2 543.2 68.3 544.8 67.4C546.5 66.6 547.9 66.8 549.8 66.2C551.7 65.6 554.6 64.7 556.1 63.7C557.5 62.7 559.2 60.9 558.6 60C557.9 59 554.4 58.4 552.3 58.1C550.2 57.8 547.3 58.7 546.1 58.1C544.8 57.5 544.2 55.2 544.8 54.3C545.5 53.5 548.4 53.7 549.8 53.1C551.3 52.5 553.1 51.5 553.6 50.6C554 49.7 552.1 48.6 552.3 47.5C552.5 46.3 553.4 45.2 554.8 43.7C556.3 42.3 571 39.6 561.1 38.7C551.1 37.9 506.8 37.1 494.9 38.7Z"/>
<path fill="#d6b85c" d="M552.3 58.1L566 57.7L573.5 54.3L576.7 56.2L569.8 60L568.5 63.7L569.8 67.4L577.3 63.7L587.3 58.7L594.8 55L601 53.1L601 56.2L594.8 59.3L587.3 65.6L577.3 71.8L569.8 73.1L557.3 74.3L549.8 75.6L546.1 76.8L552.3 73.7L557.3 71.8L557.3 66.2L556.1 63.1L558.6 60Z"/>
<path fill="#d6b85c" d="M443.1 87.4C443.9 86.5 447.6 86.3 450 86.8C452.4 87.3 455 90 457.4 90.5C459.9 91.1 462.4 90.2 464.9 89.9C467.4 89.6 470.3 88.5 472.4 88.7C474.5 88.9 475.8 89.7 477.4 91.2C479.1 92.6 480.7 95.7 482.4 97.4C484.1 99.1 485.7 99.7 487.4 101.2C489.1 102.6 490.7 104.7 492.4 106.1C494.1 107.6 495.3 109.1 497.4 109.9C499.5 110.7 502.8 111.3 504.9 111.1C507 110.9 509.5 109.7 509.9 108.6C510.3 107.6 507.4 105.8 507.4 104.9C507.4 104 508.2 103.2 509.9 103C511.5 102.8 515.7 103.1 517.4 103.6C519 104.2 519.7 105.1 519.9 106.1C520.1 107.2 519.7 108.8 518.6 109.9C517.6 110.9 515.5 111.1 513.6 112.4C511.7 113.6 509.5 115.9 507.4 117.4C505.3 118.8 502.6 120.1 501.1 121.1C499.7 122.2 500.1 123 498.6 123.6C497.2 124.2 494.7 124.9 492.4 124.9C490.1 124.9 487.2 124.5 484.9 123.6C482.6 122.8 480.1 121.3 478.7 119.9C477.2 118.4 477.6 116.1 476.2 114.9C474.7 113.6 472.1 113.2 469.9 112.4C467.7 111.6 464.3 112 463.1 109.9C461.8 107.8 464.2 102 462.4 99.9C460.7 97.8 455.4 98.7 452.5 97.4C449.5 96.2 446.5 94.1 445 92.4C443.4 90.7 442.3 88.4 443.1 87.4Z"/>
<path fill="#d6b85c" d="M537.3 105.5C537.8 104.8 541.5 104.6 544.8 104.3C548.2 104 554.2 103.2 557.3 103.6C560.4 104.1 561.7 105.7 563.6 106.8C565.4 107.8 568.1 109 568.5 109.9C569 110.8 567.9 111.8 566 112.4C564.2 113 560 113.8 557.3 113.6C554.6 113.4 552.3 112 549.8 111.1C547.3 110.3 544.4 109.6 542.3 108.6C540.3 107.7 536.9 106.2 537.3 105.5Z"/>
<path fill="#a0803e" d="M217.3 36C241.9 37.8 218.4 37.3 217.3 41C216.2 44.7 212.9 53.6 211 58C209.1 62.4 207.7 64.2 206 67.4C204.3 70.6 203.1 73.6 201 77.4C198.9 81.2 197.1 86.1 193.6 90C190.1 93.9 186.7 96.8 179.8 101C172.9 105.2 160.5 111.2 152.4 115C144.3 118.8 138.5 119.9 131 123.6C123.5 127.3 115.9 132.9 107.4 137.3C98.9 141.7 86.2 147.2 80 150C73.8 152.8 71.7 174 70 154C68.3 134 45.5 49.7 70 30C94.5 10.3 192.8 34.2 217.3 36Z"/>
<path fill="#8a6c32" d="M104 36C109.7 37.8 104.2 39 104 41C103.8 43 104.3 45.8 103 48C101.7 50.2 98.8 51.8 96 54C93.2 56.2 88.8 59.2 86 61C83.2 62.8 81.7 63.7 79 64.5C76.3 65.3 71.5 71.8 70 66C68.5 60.2 64.3 35 70 30C75.7 25 98.3 34.2 104 36Z"/>
<path fill="#94fec2" d="M560 372L568.4 370.1L578.4 367.6L593.5 370.1L611.8 368.4L613.5 378.5L610.2 390.2L606.8 400.2L601.8 410.2L593.5 416.9L584 425L586 428L593.5 431.7L603.5 440L613.5 445L628.5 448.4L640.2 453.4L638.5 461.7L636.9 470.1L646.9 471.8L660.2 473.4L663.6 481.8L673.6 488.4L686.9 491.8L697 493.5L707 496.8L720.3 500.1L733.7 498.5L750.4 493.5L760 491L760 660L75 660L80 650L90 636L96 627L100 628.5L111.7 633.5L128.4 635.2L145.1 636.8L161.8 635.2L173.5 628.5L183.5 618.5L190.2 613.5L196 620L200 640L215 640L214 622L208 612L216 606L232 604L250 601L262 600.5L275.3 601.8L287 606.8L300 608.5L316.7 613.5L333.4 610.1L350.1 605.1L366.8 601.8L383.5 596.8L400.2 591.8L406.8 585.1L416.9 581.7L430.2 578.4L440.2 571.7L446.9 565L441.9 560L430 558.4L420 561.7L410 565L407 562L408 555L411 546L420 540L433.6 530.2L445 522L443 516L450.3 510.2L460 508.3L477.7 490.6L491.5 479.3L496.6 469.2L486 465L496.6 461.6L501.6 449L513 433.9L525.6 422.5L530 427L536.7 416.9L545 403.5L553.4 395.2L556.7 386.8L558 378Z"/>
<path fill="#94fec2" d="M411 485.1C411.8 482.9 416.4 481.4 420.2 480.1C424 478.9 428.6 478.2 433.6 477.6C438.6 477.1 444.8 477.5 450.3 476.8C455.9 476.1 461.3 474.2 466.9 473.4C472.4 472.6 479.1 472.9 483.6 471.8C488.1 470.7 491.5 467 493.7 466.7C495.9 466.4 497.3 467.8 497 470C496.7 472.2 495.2 476.5 492 480C488.8 483.5 483.3 486.3 478 491C472.7 495.7 464.6 505 460 508.3C455.4 511.6 452.8 508.8 450.3 511C447.8 513.2 446.9 519.2 445.2 521.8C443.5 524.4 442.7 526 440.2 526.8C437.7 527.6 433.5 527.3 430.2 526.8C426.9 526.2 422.4 525.2 420.2 523.5C418 521.8 415.8 517.9 416.9 516.8C418 515.7 424.1 517.3 426.9 516.8C429.7 516.2 432.8 515.7 433.6 513.5C434.4 511.3 433.6 506.6 431.9 503.5C430.2 500.4 426.3 496.8 423.5 495.1C420.7 493.4 417.3 495.2 415.2 493.5C413.1 491.8 410.2 487.3 411 485.1Z"/>
<path fill="#94fec2" d="M221.1 450C221.1 447.8 226 444.6 230.3 441.7C234.6 438.8 241.7 433.9 247 432.5C252.3 431.1 256.7 432.7 262 433.4C267.3 434.1 273.1 435.3 278.7 436.7C284.3 438.1 290.2 439.8 295.4 441.7C300.6 443.6 305.9 446.4 310 448.4C314.1 450.3 317.2 450.1 320 453.4C322.8 456.7 323.1 465.1 326.7 468.4C330.3 471.7 336.4 472.3 341.7 473.4C347 474.5 354.2 474.3 358.4 475.1C362.6 475.9 364.6 476.4 366.8 478.4C369 480.3 370.7 483.2 371.8 486.8C372.9 490.4 374.3 498.7 373.5 500.1C372.7 501.5 369.9 496.8 366.8 495.1C363.7 493.4 359 491.2 355.1 490.1C351.2 489 347 489.5 343.4 488.4C339.8 487.3 337.3 483.9 333.4 483.4C329.5 482.8 323.9 484.5 320 485.1C316.1 485.7 314.1 487.4 310 486.8C305.9 486.2 300.6 483.2 295.4 481.8C290.2 480.4 284.8 479.5 278.7 478.4C272.6 477.3 263.9 476.5 258.6 475.1C253.3 473.7 250.1 472.3 247 470.1C243.9 467.9 243.1 464.2 240.3 461.7C237.5 459.2 233.5 457.1 230.3 455.1C227.1 453.2 221.1 452.2 221.1 450Z"/>
<path fill="#80fef8" d="M482 570C483.5 566.8 489.3 564.7 493 566C496.7 567.3 502.2 574 504 578C505.8 582 506 587.7 504 590C502 592.3 495.3 592.8 492 592C488.7 591.2 485.7 588.7 484 585C482.3 581.3 480.5 573.2 482 570Z"/>
<path fill="#80fef8" d="M487 594C487.8 592.2 494.7 591.8 497 593C499.3 594.2 501.8 599.2 501 601C500.2 602.8 494.3 605.2 492 604C489.7 602.8 486.2 595.8 487 594Z"/>
<path fill="#80fef8" d="M519.5 468C520.7 465.8 525.1 467.7 527 469C528.9 470.3 531 473.7 531 476C531 478.3 528.8 482 527 483C525.2 484 521.2 484.5 520 482C518.8 479.5 518.3 470.2 519.5 468Z"/>
<path fill="#94fec2" d="M730 470C730.7 468.2 738.3 467.7 742 468C745.7 468.3 750.7 470.3 752 472C753.3 473.7 752.3 476.8 750 478C747.7 479.2 741.3 480.3 738 479C734.7 477.7 729.3 471.8 730 470Z"/>
<path fill="#baf886" d="M760 511L750.4 512.7L737 515.2L720.3 516.8L703.6 520.2L695.3 518.5L690.3 510.2L680.3 506.8L670.3 503.5L661.9 498.5L650.2 493.5L636.9 491.8L623.5 488.4L617.6 483L616.4 474.2L617.6 466.7L616.4 459.1L605 459.7L593.7 461.6L581.1 461.6L568.4 460.4L553.3 462.9L540.7 466.7L530.6 470.4L525.6 467.9L526.8 462.9L521.8 457.8L519.3 450.3L523 442.7L525.6 436.4L520 430L513 434L501.6 449L496.6 461.6L486 465L496.6 469.2L491.5 479.3L477.7 490.6L460 508.3L450.3 510.2L443 516L445 522L433.6 530.2L430.2 535L433.6 541.7L445.2 546.7L455.3 550L460.3 558.4L470.3 561.7L483.6 558.4L500.3 555L507 551.7L508.7 545L510.3 535L520 545L528 580L530.4 593.4L523.7 591.8L517 593.4L522 601.8L518.7 608.5L508.7 611.8L505.6 615.1L490.6 615.8L478 613.9L463 614.5L452.9 611.4L445.4 605.1L440.4 598.8L435.4 592.5L422.8 591.9L410.3 595.1L396.5 600.1L381.4 603.8L367.6 610.1L358.8 616.4L357.6 630.2L357.6 660L760 660Z"/>
<path fill="#94fec2" d="M412.8 660C403.6 656.7 412.8 644.1 415.3 640.2C417.8 636.3 423.6 637.3 427.8 636.5C432 635.7 436.2 635 440.4 635.2C444.6 635.4 450 636 452.9 637.7C455.8 639.4 455 644.4 457.9 645.2C460.8 646 468.4 640.2 470.5 642.7C472.6 645.2 480.1 657.1 470.5 660C460.9 662.9 422 663.3 412.8 660Z"/>
<path fill="#94fec2" d="M476 641C475.8 639.5 480.7 634.8 483 633C485.3 631.2 488.7 629.5 490 630C491.3 630.5 492 634 491 636C490 638 486.5 641.2 484 642C481.5 642.8 476.2 642.5 476 641Z"/>
<path fill="#94fec2" d="M366 650C366.7 646.7 367.7 642 370 640C372.3 638 377.3 637.2 380 638C382.7 638.8 385.3 641.3 386 645C386.7 648.7 387.3 657.5 384 660C380.7 662.5 369 661.7 366 660C363 658.3 365.3 653.3 366 650Z"/>
<path fill="#94fec2" d="M760 620C758.4 613.6 753.4 620.4 750.4 621.8C747.4 623.2 745.1 626.8 742 628.5C738.9 630.2 736.2 632.3 732 631.8C727.8 631.2 720 624.9 717 625.2C714 625.5 715.1 630.7 713.7 633.5C712.3 636.3 708.9 639 708.6 641.8C708.3 644.6 711.1 647.2 712 650.2C712.9 653.2 706 658.4 714 660C722 661.6 752.3 666.7 760 660C767.7 653.3 761.6 626.4 760 620Z"/>
<path fill="#baf886" d="M75 660C55.8 657.2 81.7 647.1 85 643C88.3 638.9 90.5 636 95 635.2C99.5 634.5 106.1 637.7 111.7 638.5C117.3 639.3 122.8 639.7 128.4 640.2C134 640.8 139.2 641.8 145.1 641.8C150.9 641.8 158.2 641.9 163.5 640.2C168.8 638.5 173.2 634.9 176.8 631.8C180.4 628.7 182.7 624 185.2 621.8C187.7 619.6 189.9 618 191.9 618.5C193.9 619 195.7 618.1 197 625C198.3 631.9 220.3 654.2 200 660C179.7 665.8 94.2 662.8 75 660Z"/>
<path fill="#baf886" d="M214 660C191.3 653.3 213 628.8 214 620C215 611.2 216.2 609.4 220 607C223.8 604.6 229.9 606.6 236.9 605.9C243.9 605.2 255.9 602.7 262 602.6C268.1 602.5 271.2 603.3 273.7 605.1C276.2 606.9 276.2 610.4 277 613.5C277.8 616.6 277 621 278.7 623.5C280.4 626 283.4 627.4 287 628.5C290.6 629.6 296.2 629.8 300.4 630.2C304.6 630.6 307.1 630.5 312 631C316.9 631.5 324.5 631.5 330 633C335.5 634.5 341.7 635.5 345 640C348.3 644.5 371.8 656.7 350 660C328.2 663.3 236.7 666.7 214 660Z"/>
<path fill="#d4d976" d="M737 546.7L720.3 545.2L703.6 543.5L695.3 540.2L686.9 533.5L673.6 530.2L661.9 528.5L658.6 520.2L655.2 510.2L646.9 505.1L636.9 500.1L630.2 499.4L617.6 498.2L605 495.7L598.7 491.9L593.7 488.1L591.1 483L586.1 478.6L573.5 477.4L560.9 479.3L548.3 483L538.2 486.8L530.6 493.1L525.6 500.7L519.3 508.3L514.2 516L512 528L520 545L528 580L532 594L543.4 568.4L548.4 573.4L556.7 578.4L563.4 585.1L570.1 593.4L566.7 601.8L553.4 608.5L541.7 611.8L536.7 618.5L530 628.5L526.7 638.5L523.4 660L593.5 660L593.5 650.2L600.1 648.5L613.5 645.2L621.8 641.8L626.8 631.8L636.9 628.5L645.2 630.2L650.2 636.8L656.9 635.2L658.6 628.5L666.9 626.8L680.3 626.8L695.3 621.8L705.3 615.1L712 606.8L720.3 598.4L727 585.1L735.4 573.4L738.7 560Z"/>
<path fill="#d4d976" d="M498 468C496.5 469.3 497.3 476 494 480C490.7 484 483.3 487.3 478 492C472.7 496.7 466.3 504.7 462 508C457.7 511.3 454.7 509.7 452 512C449.3 514.3 448.7 518.8 446 522C443.3 525.2 437 528.7 436 531C435 533.3 437.3 536.2 440 536C442.7 535.8 447.7 532.7 452 530C456.3 527.3 461.3 523.7 466 520C470.7 516.3 475.7 512 480 508C484.3 504 488.7 500 492 496C495.3 492 498.2 488 500 484C501.8 480 503.3 474.7 503 472C502.7 469.3 499.5 466.7 498 468Z"/>
<path fill="#d4d976" d="M80 660C62.3 657 86.4 644.8 91.7 641.8C97 638.8 105.6 641.4 111.7 641.8C117.8 642.2 122.8 643.6 128.4 644.3C134 645 139.2 645.9 145.1 646C150.9 646.1 158.2 646.5 163.5 645.2C168.8 644 173.5 641.3 176.8 638.5C180.1 635.7 181.3 630.7 183.5 628.5C185.7 626.3 188.3 624.1 190.2 625.2C192.1 626.3 193.7 629.4 195 635.2C196.3 641 217.2 655.9 198 660C178.8 664.1 97.7 663 80 660Z"/>
<path fill="#d4d976" d="M215 660C195.2 654.2 214.7 633.3 215 625C215.3 616.7 214.3 613 216.9 610.1C219.5 607.2 225.3 608.2 230.3 607.6C235.3 607 241.7 607.1 247 606.8C252.3 606.5 258.9 604.8 262 605.9C265.1 607 263.9 610.3 265.3 613.5C266.7 616.7 268.9 622.2 270.3 625.2C271.7 628.2 270.9 630.1 273.7 631.8C276.5 633.5 282 634.4 287 635.2C292 636 298.2 636 303.7 636.8C309.2 637.6 315.6 638.1 320 640C324.4 641.9 327.7 644.7 330 648C332.3 651.3 353.2 658 334 660C314.8 662 234.8 665.8 215 660Z"/>
<path fill="#d4d976" d="M390 614C390.8 612.8 392.6 611.6 394 611.5C395.4 611.4 397.7 612.2 398.5 613.5C399.3 614.8 399.8 617.6 399 619C398.2 620.4 395.6 622 394 622C392.4 622 390.2 620.3 389.5 619C388.8 617.7 389.2 615.2 390 614Z"/>
<path fill="#d4d976" d="M405.2 610.1C406.2 608.4 411.9 606.2 415.3 605.1C418.7 604 423 602.8 425.3 603.2C427.6 603.6 428.5 605.4 429.1 607.6C429.7 609.8 430.6 614.7 429.1 616.4C427.6 618.1 422.4 618.2 420.3 617.6C418.2 617 418.4 613 416.5 612.6C414.6 612.2 410.9 615.5 409 615.1C407.1 614.7 404.1 611.8 405.2 610.1Z"/>
<path fill="#d6b85c" d="M618.8 507.7C621.7 507.4 624.9 507.5 626.8 508.5C628.7 509.5 630.2 511.6 630.2 513.5C630.2 515.5 628.5 518 626.8 520.2C625.1 522.4 622.1 524.6 620.2 526.8C618.3 529 617.4 531.8 615.2 533.5C613 535.2 608.4 535.9 607 537C605.6 538.1 607.4 538.4 606.8 540C606.2 541.6 602.4 545 603.5 546.7C604.6 548.4 609.6 548.9 613.5 550C617.4 551.1 622.9 552.3 626.8 553.4C630.7 554.5 633.8 557 636.9 556.7C640 556.4 642.4 552.5 645.2 551.7C648 550.9 651.1 551.4 653.6 551.7C656.1 552 658 554 660.2 553.4C662.4 552.8 666.3 548.7 666.9 548.4C667.5 548.1 663.6 550 663.6 551.7C663.6 553.4 665 556.2 666.9 558.4C668.8 560.6 673.1 563.4 675.3 565.1C677.5 566.8 680.6 567 680.3 568.4C680 569.8 675.3 570.9 673.6 573.4C671.9 575.9 671.4 580.9 670.3 583.4C669.2 585.9 669.7 588.4 666.9 588.4C664.1 588.4 658 583.1 653.6 583.4C649.2 583.7 644.7 588.7 640.2 590.1C635.7 591.5 631.2 590.7 626.8 591.8C622.3 592.9 618.2 595.1 613.5 596.8C608.8 598.5 601.8 599.8 598.5 601.8C595.2 603.8 594.3 608.5 593.5 608.5C592.7 608.5 594.6 604.9 593.5 601.8C592.4 598.7 589 594 586.8 590.1C584.6 586.2 581.9 581.8 580.1 578.4C578.3 575 575.7 572.8 576 570C576.3 567.2 580.2 564 581.8 561.7C583.4 559.5 584.5 559.2 585.7 556.5C587 553.8 587.5 548.5 589.3 545.4C591.1 542.3 594.2 540.2 596.7 538.1C599.2 536 602.2 534.6 604 532.5C605.8 530.4 607.4 527.7 607.7 525.2C608 522.8 605.6 520.2 605.9 517.8C606.2 515.3 607.5 512.2 609.6 510.5C611.8 508.8 615.9 508 618.8 507.7Z"/>
<path fill="#d6b85c" d="M568.4 495.1C570.1 494.5 574.5 496.6 575.1 498.5C575.7 500.4 573.2 503.8 571.8 506.8C570.4 509.9 568.1 513.5 566.7 516.8C565.3 520.1 564.8 523.4 563.4 526.8C562 530.1 559.6 533.7 558.4 536.9C557.2 540.1 556.9 544.1 556 546C555.1 547.9 553 549.7 553 548C553 546.3 554.8 540 556 536C557.2 532 558.7 528 560 524C561.3 520 563.2 515.7 564 512C564.8 508.3 564.3 504.8 565 502C565.7 499.2 566.7 495.7 568.4 495.1Z"/>
<path fill="#d6b85c" d="M221.1 615.1C222.5 607.2 225.7 612.6 228.6 612.6C231.5 612.6 236.1 613 238.6 615.1C241.1 617.2 242.5 621.9 243.6 625.2C244.7 628.6 244.5 632.2 245.3 635.2C246.1 638.2 248.3 639.4 248.6 643.5C248.9 647.6 251.7 657.2 247 660C242.3 662.8 224.6 667.5 220.3 660C216 652.5 219.7 623 221.1 615.1Z"/>
<path fill="#d6b85c" d="M183.5 638.5C184.9 634.4 188 634.7 190.2 635.2C192.4 635.8 196.1 637.7 196.9 641.8C197.7 645.9 197.5 657 195 660C192.5 663 183.7 663.6 181.8 660C179.9 656.4 182.1 642.6 183.5 638.5Z"/>
<path fill="#d4d976" d="M487 527C488.3 524.2 490.5 521.5 493 520C495.5 518.5 499.2 517.5 502 518C504.8 518.5 508.3 520.5 510 523C511.7 525.5 512.3 529.7 512 533C511.7 536.3 510.2 540.5 508 543C505.8 545.5 502 547.7 499 548C496 548.3 492.3 546.8 490 545C487.7 543.2 485.5 540 485 537C484.5 534 485.7 529.8 487 527Z"/>
<path fill="#5cb8ea" d="M199.8 326.2L189.9 337.5L174.9 352.4L166.1 372.4L161.1 387.4L169.9 399.9L182.4 409.9L189.9 424.8L186.1 439.8L194.8 442.3L212.3 437.3L219.8 429.8L239.8 422.3L257.3 417.4L269.8 409.9L284.7 409.9L289.7 414.9L300 423.3L310 426.7L321.7 431.7L330 438.4L335.1 445.9L347.6 440.5L356.4 441.8L364 445.6L367.7 451.9L376.6 456.9L386.7 462L395.5 467L403 467L410.6 463.2L420.7 460.7L433.3 459.4L447.2 460.7L459.8 459.4L472.4 454.4L482.5 450.6L491.3 445.6L498.9 440.5L503.9 435.5L511.5 427.9L517.5 410L523.7 404.9L526.2 398.7L529.9 393.7L539.9 389.9L541.2 383.7L544.9 377.5L549.9 375L557 372L563 369L568.4 367L573.4 356.8L578.4 348.4L583.4 340.1L589.3 333.4L601.8 335.9L613.5 340.1L623.5 348.4L635.2 356.8L648.5 367.6L643.5 375.1L636.9 385.1L628.5 395.2L623.5 405.2L620.2 413.5L615.2 423.5L613.5 427L620.2 433.4L636.9 438.4L648.5 445L653.6 453.4L658.6 460.1L670.3 463.4L680.3 466.7L695.3 468.4L712 468.4L720.3 463.4L728.7 458.4L735.4 451.7L742 458L752 460L760 460L760 90L750.2 85.5L743.9 80.4L737.6 77.9L731.3 77.3L725 80.4L718.7 86.7L714.9 93.1L711.1 95.6L709.9 100.6L703.6 102.5L704.2 105.7L711.6 108.4L709.7 113.9L713.4 119.5L717.1 125L721.7 133.3L717.1 137L711.6 132.4L706 131.4L698.7 133.3L695 138.8L696.8 145.2L702.4 148.9L706 154.5L707.9 160L715.2 161.8L711.6 167.3L707.9 172.9L706 178.4L703.3 185.8L699.6 190.4L694 194L694 205L700 213L693.6 215.9L685.3 211.7L680.3 206.7L673.6 201.7L668.6 195L658.6 192.5L636.9 192.5L620.2 192.5L606.8 190L591.8 191.7L570 195L545 201.7L530 205L522.3 212.5L524 220L522.5 230L517.4 236.2L499.9 239.9L482.4 249.9L462.4 267.4L437.5 272.4L425 278.6L414.6 279.9L400 278.6L384.6 277.4L364.6 272.4L349.6 279.9L334.7 289.9L326.6 298.8L317.7 306.4L310.2 315.2L305.1 322.8L297.6 330.4L290 338L287.2 347.4L282.2 359.9L276 364.9L269.8 356.2L259.8 352.4L244.8 348.7L248.5 342.4L244.8 336.2L229.8 332.5L209.8 325Z"/>
<path fill="#5cb8ea" d="M70 447L80 447.5L91.7 449.2L95 455.1L111.7 454.2L128.4 453.4L145.1 457.6L158.5 460.1L170.2 457.6L183.5 455.1L196.9 457.6L211.9 459.2L225.3 461.7L233.6 468.4L238.6 476.8L242 486.8L243.6 498.5L247 503.5L258.6 508.5L265.3 496.8L272 493.5L277 500.1L282 508.5L292 503.5L300 496.8L310 500.1L323.4 506.8L338.4 511.8L341.7 520.2L355.1 521.8L370.1 526.8L380.1 533.5L388.5 540.2L400.2 545.2L408 548L406.8 550L400.2 556.7L386.8 563.4L370.1 566.7L356.8 566.7L343.4 570.1L333.4 575.1L321.7 576.7L316.7 556.7L312 562L307 574L303 583L298.7 591.8L287 596.8L278.7 598.4L262 600.1L245.3 601.8L230.3 606.8L220.3 608.5L213.6 605.1L208.6 608.5L203.6 613.5L198.5 606.8L190.2 608.5L183.5 613.5L173.5 618.5L163.5 625.2L153.5 626.8L143.5 625.2L133.4 621.8L120.1 625.2L108.4 628.5L98.4 620.2L103.4 610.1L108.4 601.8L111.7 588.4L103.4 585.1L100 576.7L105.9 568.4L101.7 563.4L94.2 568.4L95 576.7L88.4 586.8L80 590.1L70 591Z"/>
<path fill="#5cb8ea" d="M318.4 590.1C319.2 587.6 321.1 586.8 325 585.1C328.9 583.4 336.1 581.8 341.7 580.1C347.3 578.4 352.8 576.2 358.4 575.1C364 574 368.4 573.7 375.1 573.4C381.8 573.1 393.8 572 398.5 573.4C403.2 574.8 404.3 579.8 403.5 581.7C402.7 583.7 397.9 584.2 393.5 585.1C389.1 586 381.8 585.4 376.8 586.8C371.8 588.2 367.8 591.2 363.4 593.4C358.9 595.6 354.6 598.4 350.1 600.1C345.7 601.8 341.7 603.4 336.7 603.4C331.7 603.4 323.1 602.3 320 600.1C316.9 597.9 317.6 592.6 318.4 590.1Z"/>
<path fill="#80fef8" d="M247 536.7C248.4 536.1 251.9 537.2 253.6 538.3C255.3 539.4 257.3 541.2 257 543.4C256.7 545.6 252.3 548.7 252 551.7C251.7 554.8 255 558.4 255.3 561.7C255.6 565 255 568.9 253.6 571.7C252.2 574.5 249.5 576.7 247 578.4C244.5 580.1 240.4 582 238.6 581.7C236.8 581.4 235.3 578.9 236.1 576.7C236.9 574.5 241.5 571.5 243.6 568.4C245.7 565.3 248 561.7 248.6 558.4C249.2 555.1 247.6 551.2 247 548.4C246.4 545.6 245.3 543.7 245.3 541.7C245.3 539.8 245.6 537.3 247 536.7Z"/>
<path fill="#80fef8" d="M95 550C96.1 548.2 104.2 546.9 106.7 547.5C109.2 548.1 110.1 551.3 110.1 553.4C110.1 555.5 108.4 559.2 106.7 560C105 560.8 102 560.1 100 558.4C98 556.7 93.9 551.8 95 550Z"/>
<path fill="#80fef8" d="M245 541C244.5 539 247 535 249 535C251 535 256.5 539 257 541C257.5 543 254 547 252 547C250 547 245.5 543 245 541Z"/>
<path fill="#447ef8" d="M315.2 345.5C315.6 342.6 317.3 340.6 319 337.9C320.7 335.2 323 332 325.3 329.1C327.6 326.2 330.4 322.8 332.9 320.3C335.4 317.8 337.9 316.1 340.4 314C342.9 311.9 345.5 309.6 348 307.7C350.5 305.8 353.1 304.1 355.6 302.6C358.1 301.1 360.4 300.1 363.1 298.8C365.8 297.5 368.6 295.6 372 295C375.4 294.4 380.2 294.4 383.3 295C386.4 295.6 388.2 297.5 390.9 298.8C393.6 300.1 396.5 301.6 399.7 302.6C402.9 303.7 406.4 305.1 409.8 305.1C413.2 305.1 416.8 303.2 419.9 302.6C423 302 425.1 301.4 428.7 301.3C432.3 301.2 437.7 302.8 441.3 302C444.9 301.2 446.5 297.4 450.1 296.6C453.7 295.8 458.5 297.2 462.7 297.2C466.9 297.2 471.1 296.5 475.3 296.6C479.5 296.7 483.9 297.2 487.9 297.8C491.9 298.4 495.9 299.3 499.3 300.4C502.7 301.4 506.2 302.4 508.1 304.1C510 305.8 509.3 308.5 510.6 310.4C511.9 312.3 514 313.6 515.7 315.5C517.4 317.4 519.7 319.7 520.7 321.8C521.8 323.9 522.6 326.2 522 328.1C521.4 330 518.6 331.1 516.9 333.1C515.2 335.1 512.8 337.6 512 340C511.2 342.4 512 344.1 512.2 347.4C512.5 350.7 513.9 356.6 513.5 359.9C513.1 363.2 509.3 364.4 509.7 367.4C510.1 370.4 514.9 374.9 516 378C517.1 381.1 517.7 383.9 516.5 386.3C515.3 388.7 511.3 390.5 509 392.6C506.7 394.7 504.4 396.4 502.7 398.9C501 401.4 499.8 404.8 498.9 407.7C498 410.6 498.9 414.1 497.6 416.6C496.3 419.1 493.4 420.8 491.3 422.9C489.2 425 487.5 427.5 485 429.2C482.5 430.9 478.7 431.3 476.2 433C473.7 434.7 472.6 437.2 469.9 439.3C467.2 441.4 463.2 444 459.8 445.6C456.4 447.2 452.9 448.3 449.7 448.7C446.5 449.1 444.5 448.4 440.9 448.1C437.3 447.8 432.5 447.2 428.3 446.8C424.1 446.4 419.5 445.7 415.7 445.6C411.9 445.5 408.6 446.6 405.6 446.2C402.7 445.8 400.5 444.9 398 443.1C395.5 441.3 393.1 437.6 390.4 435.5C387.7 433.4 384.1 432.5 381.6 430.4C379.1 428.3 377.6 425 375.3 422.9C373 420.8 370.6 419.1 367.7 417.8C364.8 416.5 361 416 357.7 415.3C354.4 414.6 350.6 414.3 347.6 413.4C344.7 412.5 343.4 413.1 340 410C336.6 406.9 330.6 399 327.5 395C324.4 391 323.2 389.2 321.5 386C319.8 382.8 318 379.2 317.1 375.8C316.2 372.4 316 369.1 315.9 365.7C315.8 362.3 316.6 359 316.5 355.6C316.4 352.2 314.8 348.4 315.2 345.5Z"/>
<path fill="#447ef8" d="M199.8 356.2C201.3 353.1 206.5 353.1 208.6 353.7C210.7 354.3 209.6 358.2 212.3 359.9C215 361.6 220.6 361.2 224.8 363.7C229 366.2 233.1 371.4 237.3 374.9C241.5 378.4 247.3 381.6 249.8 384.9C252.3 388.2 253.6 393 252.3 394.9C251.1 396.8 246.1 395.1 242.3 396.1C238.6 397.1 234 400.1 229.8 401.1C225.6 402.2 221.1 403.2 217.3 402.4C213.6 401.6 209.8 398.6 207.3 396.1C204.8 393.6 202.5 390.1 202.3 387.4C202.1 384.7 206.4 382.4 206 379.9C205.6 377.4 200.8 376.3 199.8 372.4C198.8 368.4 198.3 359.3 199.8 356.2Z"/>
<path fill="#447ef8" d="M227 410C227.8 409.1 231.5 407.5 234 407.5C236.5 407.5 241.7 409 242 410C242.3 411 238.2 413 236 413.5C233.8 414 230.5 413.6 229 413C227.5 412.4 226.2 410.9 227 410Z"/>
<path fill="#447ef8" d="M535.9 236.8L545 231.8L556.7 230.9L570.1 235.1L585.1 235.1L586.8 241.8L591.8 246.8L590.1 253.5L595.1 260.1L601.8 265.1L611.8 266.8L620.2 265.1L620.2 258.5L628.5 255.1L636.9 251.8L653.6 246.8L666.9 243.4L678.6 238.4L688.6 233.4L697 228.4L705.3 223.4L720.3 220.1L737 215.1L750.4 211.7L760 209L760 434L750.4 436.7L742 440L732 445L725.3 451.7L713.7 459.2L700.3 460.1L686.9 457.6L680.3 451.7L671.1 445L673.6 436.7L670.3 428.3L666.9 420L665.2 413.5L671.1 405.2L665.2 400.2L658.6 395.2L658.6 388.5L663.6 381.8L660.2 375.1L661.9 366.8L665.2 358.4L658.6 348.4L653.6 340.1L655.2 333.4L651.9 328.4L643.5 316.7L636.9 308.3L635.2 300L628.5 301.9L623.5 295.2L628.5 290.2L631.9 280.2L635.2 271L624 268L613.5 269.3L604 270L601.4 272.6L609 277.7L616.5 278.9L619.1 285.2L614 292.8L601.4 297.8L590.1 301.6L582.5 306.7L578.7 313L571.1 316.7L566.1 319.3L567.4 315.5L561.1 310.4L563.6 305.4L567.4 300.4L566.1 292.8L563.6 287.7L551 280.2L548.4 273.9L541.7 270.2L535 263.5L535 253.5L534.2 246.8Z"/>
<path fill="#447ef8" d="M592 207C593.2 206.3 598.8 206.5 600 208C601.2 209.5 600.2 215.3 599 216C597.8 216.7 594.2 213.5 593 212C591.8 210.5 590.8 207.7 592 207Z"/>
<path fill="#447ef8" d="M760 161C758.4 157.3 753.9 161.9 750.2 161.8C746.5 161.7 741.2 159.7 737.6 160.5C734 161.3 731.3 164.3 728.8 166.8C726.3 169.3 724.6 172.5 722.5 175.7C720.4 178.9 718.1 183.3 716.2 185.8C714.3 188.3 712.5 189.1 711.1 190.8C709.7 192.5 707.7 194.6 708 196C708.3 197.4 710.7 199 713 199C715.3 199 718.3 197.2 722 196C725.7 194.8 731.2 193.3 735 192C738.8 190.7 740.8 189.3 745 188C749.2 186.7 757.5 188.5 760 184C762.5 179.5 761.6 164.7 760 161Z"/>
<path fill="#447ef8" d="M95 520.2C95 517.7 98.3 516.3 100 513.5C101.7 510.7 103.7 506.6 105.1 503.5C106.5 500.4 105.9 497.9 108.4 495.1C110.9 492.3 115.4 489.3 120.1 486.8C124.8 484.3 131.2 482.1 136.8 480.1C142.4 478.2 147.9 476.8 153.5 475.1C159.1 473.4 164.6 471.4 170.2 470.1C175.8 468.9 181.3 468.2 186.9 467.6C192.5 467 198 466.7 203.6 466.7C209.2 466.7 216.1 466.8 220.3 467.6C224.5 468.5 226.4 469.2 228.6 471.8C230.8 474.4 232.5 479.8 233.6 483.4C234.7 487 234.8 489.6 235.3 493.5C235.9 497.4 235.8 503.2 236.9 506.8C238 510.4 241.4 512.4 242 515.2C242.6 518 241.7 520.7 240.3 523.5C238.9 526.3 235.8 530 233.6 531.9C231.4 533.8 228.6 533.9 226.9 535C225.2 536.1 225.8 537.3 223.6 538.4C221.4 539.5 216.9 541.4 213.6 541.7C210.3 542 205.8 541.1 203.6 540C201.4 538.9 201.6 536.8 200.2 535.2C198.8 533.6 197.4 530.5 195.2 530.2C193 529.9 189.7 531.6 186.9 533.5C184.1 535.4 181.3 539.5 178.5 541.7C175.7 543.9 171.9 544.8 170.2 546.7C168.5 548.7 168.5 550.9 168.5 553.4C168.5 555.9 167.7 561.7 170.2 561.7C172.7 561.7 180.2 554.5 183.5 553.4C186.8 552.3 189.6 553.3 190.2 555C190.8 556.7 187.7 561.2 186.9 563.4C186.1 565.6 183.5 567.8 185.2 568.4C186.9 569 194.7 565.9 196.9 566.7C199.1 567.5 199.1 571.5 198.5 573.4C197.9 575.3 195.4 576.4 193.5 578.4C191.6 580.4 188.6 581.5 186.9 585.1C185.2 588.7 185.2 596.8 183.5 600.1C181.8 603.4 179 604 176.8 605.1C174.6 606.2 172.4 605.7 170.2 606.8C168 607.9 164.9 609.8 163.5 611.8C162.1 613.8 163.5 617.1 161.8 618.5C160.1 619.9 156 620.8 153.5 620.2C151 619.7 149 616.9 146.8 615.2C144.6 613.5 142.9 610.4 140.1 610.1C137.3 609.8 133.4 612.6 130.1 613.5C126.8 614.4 123.3 614.7 120.1 615.2C116.9 615.8 112 617.9 110.9 616.8C109.8 615.7 111.9 611.3 113.4 608.5C114.9 605.7 117.9 602.9 120.1 600.1C122.3 597.3 124 594.3 126.8 591.8C129.6 589.3 133.2 586.9 136.8 585.1C140.4 583.3 144.1 581.7 148.5 580.9C152.9 580.1 161 582.5 163.5 580.1C166 577.7 165.2 569.2 163.5 566.7C161.8 564.2 156.6 566.2 153.5 565.1C150.4 564 148.4 562 145.1 560C141.8 558 136.5 555.6 133.4 553.4C130.3 551.2 129 548.9 126.8 546.7C124.6 544.5 122.6 542.2 120.1 540C117.6 537.8 115 535.4 111.7 533.5C108.4 531.6 102.8 530.7 100 528.5C97.2 526.3 95 522.7 95 520.2Z"/>
<path fill="#447ef8" d="M201.1 580.1C200.5 578.4 202.6 576.9 205.2 575.9C207.8 574.9 214 573.7 216.9 574.2C219.8 574.8 222.2 577.4 222.8 579.2C223.4 581 222.7 584 220.3 585.1C217.9 586.2 211.8 586.7 208.6 585.9C205.4 585.1 201.7 581.8 201.1 580.1Z"/>
<path fill="#447ef8" d="M300 515.2C303 514.9 306.4 516.8 310 518.5C313.6 520.2 317.8 523.2 321.7 525.2C325.6 527.2 329.8 528.2 333.4 530.2C337 532.2 339.8 535 343.4 536.9C347 538.8 350.7 540.8 355.1 541.9C359.6 543 365.4 542 370.1 543.4C374.8 544.8 379.6 547.8 383.5 550C387.4 552.2 390.7 555 393.5 556.7C396.3 558.4 399.4 559.1 400.2 560C401 560.9 400.7 561.4 398.5 562C396.3 562.6 391.5 562.6 386.8 563.4C382.1 564.2 375.1 566.2 370.1 566.7C365.1 567.2 361.2 566.1 356.8 566.7C352.4 567.3 347.3 568.7 343.4 570.1C339.5 571.5 337 574 333.4 575.1C329.8 576.2 324.5 579.8 321.7 576.7C318.9 573.6 318.3 559.2 316.7 556.7C315.1 554.2 313.6 559.1 312 562C310.4 564.9 308.4 570.7 307 574C305.6 577.3 306.5 580.3 303.7 581.7C300.9 583.1 295.4 583 290.4 582.6C285.4 582.2 279.3 579.2 273.7 579.2C268.1 579.2 261.7 580.8 257 582.6C252.3 584.4 248.4 587.2 245.3 590.1C242.2 593 238.6 598.2 238.6 600.1C238.6 602 241.4 601.8 245.3 601.8C249.2 601.8 256.4 600.7 262 600.1C267.6 599.5 274 599.1 278.7 598.4C283.4 597.7 286.4 597.4 290 596C293.6 594.6 298.3 596.8 300 590C301.7 583.2 302.3 561.7 300.4 555C298.5 548.3 291.5 551.9 288.7 550C285.9 548.1 284.2 545.9 283.7 543.4C283.1 540.9 284.6 537.5 285.4 535C286.2 532.5 287.6 531 288.7 528.5C289.8 526 290.1 522.4 292 520.2C293.9 518 297 515.5 300 515.2Z"/>
<path fill="#3028f8" d="M356.8 346.7C357.6 344.2 362.5 341.6 365.7 340.4C368.9 339.1 372.4 340.2 375.8 339.2C379.2 338.1 382.9 335.8 385.8 334.1C388.7 332.4 390.4 331.2 393.4 329.1C396.3 327 400.1 323.8 403.5 321.5C406.9 319.2 410.2 316.9 413.6 315.2C417 313.5 419.9 312.3 423.7 311.4C427.5 310.4 431.5 310 436.3 309.5C441.1 309 447.8 308.4 452.6 308.5C457.4 308.6 461 309.4 465.2 310.4C469.4 311.3 474 312.7 477.8 314.2C481.6 315.7 485.2 317.4 487.9 319.3C490.6 321.2 492.5 323.3 494.2 325.6C495.9 327.9 497.8 330.4 498 333.1C498.2 335.8 496.8 339.5 495.5 342C494.2 344.5 491.3 344.9 490.4 348.3C489.4 351.7 489.5 357.6 489.8 362.4C490.1 367.2 492.9 373.7 492.3 377.3C491.7 380.9 488.4 382.1 486.3 383.8C484.2 385.5 480.9 386.1 480 387.6C479.1 389.1 482.2 389.7 481.2 392.6C480.1 395.5 475.4 401.8 473.7 405.2C472 408.6 471.7 410.1 471.1 412.8C470.5 415.5 471.1 418.9 469.9 421.6C468.6 424.3 465.9 426.9 463.6 429.2C461.3 431.5 458.3 434 456 435.5C453.7 437 451.8 438.4 449.7 438C447.6 437.6 445.7 434.1 443.4 433C441.1 431.9 438.8 432.1 435.8 431.7C432.9 431.3 429.1 431.2 425.7 430.4C422.3 429.6 418.2 428.4 415.7 426.7C413.2 425 412.7 422.9 410.6 420.4C408.5 417.9 405.5 413.6 403 411.5C400.5 409.4 398.2 409.2 395.5 407.7C392.8 406.2 389.6 404.6 386.7 402.7C383.8 400.8 380.8 398.1 377.8 396.4C374.9 394.7 371.5 394.1 369 392.6C366.5 391.1 363.7 390 362.7 387.6C361.7 385.2 362.6 381.1 363.1 378.3C363.6 375.5 365.5 373 365.7 370.7C365.9 368.4 365.2 366.9 364.4 364.4C363.5 361.9 361.9 358.6 360.6 355.6C359.3 352.7 356 349.2 356.8 346.7Z"/>
<path fill="#3028f8" d="M760 214L750.4 215.9L743.7 218.4L733.7 225.1L720.3 230.1L708.6 235.1L707 243.4L706.1 253.5L703.6 263.5L697 270.2L688.6 275.2L686.9 281.8L690.3 288.5L680.3 295.2L673.6 300.2L670.3 305L671.9 310L669.4 320L676.9 331.7L673.6 338.4L680.3 346.7L684.4 356.8L678.6 366.8L680.3 373.5L686.9 378.5L680.3 386.8L685.3 395.2L690.3 406.8L693.6 416.9L695.3 428.3L700.3 435L710.3 438.4L712 445L720.3 445L730.4 438.4L740.4 431.7L750.4 428.3L760 426Z"/>
<path fill="#3028f8" d="M116.7 516.8C117.2 514.3 121.8 509.6 125.1 506.8C128.4 504 132.9 502.6 136.8 500.1C140.7 497.6 144.6 494.6 148.5 491.8C152.4 489 156 485.9 160.2 483.4C164.4 480.9 169.1 478.5 173.5 476.8C177.9 475.1 181.9 474.2 186.9 473.4C191.9 472.6 198.6 472.2 203.6 471.8C208.6 471.4 213.6 470.3 216.9 470.9C220.2 471.4 221.9 472.5 223.6 475.1C225.3 477.8 226.5 482.6 226.9 486.8C227.3 491 226.1 496.2 226.1 500.1C226.1 504 225.9 507.1 226.9 510.2C227.9 513.3 231.9 515.7 231.9 518.5C231.9 521.3 229.1 525.1 226.9 526.8C224.7 528.5 221.1 529.3 218.6 528.5C216.1 527.7 214.4 523.8 211.9 521.8C209.4 519.8 207.2 517.6 203.6 516.8C200 516 193.3 515.7 190.2 516.8C187.1 517.9 187.4 521.5 185.2 523.5C183 525.5 179.9 526.5 176.8 528.5C173.7 530.5 169 533.3 166.8 535.2C164.6 537.1 165.7 538.6 163.5 540C161.3 541.4 156.8 543.4 153.5 543.4C150.2 543.4 146.6 542.1 143.5 540.2C140.4 538.3 135.9 534.7 135.1 531.9C134.2 529.1 139.5 526.3 138.4 523.5C137.3 520.7 131.2 515.5 128.4 515.2C125.6 514.9 123.8 521.5 121.8 521.8C119.8 522.1 116.2 519.3 116.7 516.8Z"/>
<path fill="#3028f8" d="M119.2 611.8C118.6 609.8 121 605.1 123.4 601.8C125.8 598.5 129.8 594.6 133.4 591.8C137 589 140.9 586.6 145.1 585.1C149.3 583.6 154.6 582.3 158.5 582.6C162.4 582.9 165.7 584.7 168.5 586.8C171.3 588.9 173.5 592.6 175.2 595.1C176.9 597.6 179.3 600.1 178.5 601.8C177.7 603.5 173.2 605.1 170.2 605.1C167.1 605.1 163.5 601.8 160.2 601.8C156.8 601.8 154 604 150.1 605.1C146.2 606.2 140.7 607.1 136.8 608.5C132.9 609.9 129.7 613 126.8 613.5C123.9 614 119.8 613.8 119.2 611.8Z"/>
<path fill="#3028f8" d="M300 535.2C301.9 534.7 306.7 535.6 310 536.7C313.3 537.8 318.1 540 320 541.7C321.9 543.4 323.4 545.3 321.7 546.7C320 548.1 313.6 549.6 310 550C306.4 550.4 301.9 549.8 300 549C298.1 548.2 298.9 546.5 298.7 545C298.5 543.5 298.5 541.6 298.7 540C298.9 538.4 298.1 535.8 300 535.2Z"/>
<path fill="#3028f8" d="M343.4 566.7C343.4 564.6 349.5 560.8 353.4 558.4C357.3 556 362.6 553.1 366.8 552.5C371 551.9 375.4 553.5 378.5 555C381.6 556.5 384.8 559.6 385.1 561.7C385.4 563.8 382.3 566.8 380.1 567.6C377.9 568.4 374.6 566.6 371.8 566.7C369 566.8 366.5 567.7 363.4 568.4C360.3 569.1 356.7 571.2 353.4 570.9C350.1 570.6 343.4 568.8 343.4 566.7Z"/>
<path fill="#2810d8" d="M412.3 329.1C413.2 326.2 415.9 324.5 418.6 322.8C421.3 321.1 424.9 319.7 428.7 319C432.5 318.3 437.3 318.6 441.3 318.4C445.3 318.2 448.6 317.4 452.6 318C456.6 318.6 461.2 320.1 465.2 321.8C469.2 323.5 473.7 325.8 476.6 328.1C479.6 330.4 482.1 332.8 482.9 335.7C483.7 338.6 482.2 342.4 481.6 345.8C481 349.2 478.3 354.1 479 356C479.7 357.9 484.6 354.3 486 357.4C487.4 360.5 488.3 370.2 487.3 374.8C486.3 379.4 483.3 383.9 479.8 384.8C476.3 385.7 469.4 379.5 466.1 380C462.8 380.5 461.9 385.1 459.8 387.6C457.7 390.1 456 393 453.5 395.1C451 397.2 446.8 398.5 444.7 400.2C442.6 401.9 440.9 402.9 440.9 405.2C440.9 407.5 444.7 411.5 444.7 414C444.7 416.5 442.4 419.2 440.9 420.4C439.4 421.6 437.5 421.4 435.8 421C434.1 420.6 432.1 420.6 430.8 417.8C429.6 415 429.8 407.1 428.3 404C426.8 400.9 424.1 401.2 422 398.9C419.9 396.6 417.2 393.2 415.7 390.1C414.2 387 413.9 383.2 413.1 380C412.3 376.8 411.3 373.9 411.1 370.7C410.9 367.5 411.2 364 411.7 360.6C412.2 357.2 414 353.9 414.2 350.5C414.4 347.1 413.3 344 413 340.4C412.7 336.8 411.4 332 412.3 329.1Z"/>
<path fill="#2810d8" d="M760 217.5L750.4 219.2L742 223.4L737 228.4L730.4 231.8L723.7 245.1L725.3 251.8L728.7 258.5L722 265.1L715.3 273.5L713.7 278.5L718.7 283.5L715.3 290.2L703.6 296.9L695.3 303.5L695.3 313.4L693.6 326.7L695.3 336.7L702.8 343.4L701.1 355.1L705.3 363.4L712 370.1L714.5 378.5L703.6 386.8L705.3 398.5L710.3 406.8L707 418.5L713.7 425L725.3 429.2L737 426.7L750.4 423.3L760 421Z"/>
<path fill="#2810d8" d="M161.8 495.1C161 492.9 164.9 489.4 168.5 486.8C172.1 484.2 178.2 481 183.5 479.3C188.8 477.6 194.9 477.5 200.2 476.8C205.5 476.1 212 474.6 215.3 475.1C218.7 475.7 219.1 477.6 220.3 480.1C221.6 482.6 222.8 486.5 222.8 490.1C222.8 493.7 221.6 498.9 220.3 501.8C219.1 504.7 218.1 507.1 215.3 507.6C212.5 508.2 208.3 506.1 203.6 505.1C198.9 504.1 191.9 502.6 186.9 501.8C181.9 501 177.7 501.2 173.5 500.1C169.3 499 162.6 497.3 161.8 495.1Z"/>
<path fill="#2810d8" d="M123.4 608.5C123.1 606.5 127 601.5 130.1 598.4C133.2 595.3 137.9 592 141.8 590.1C145.7 588.2 149.9 586.8 153.5 586.8C157.1 586.8 160.7 588.2 163.5 590.1C166.3 592 168.5 596.2 170.2 598.4C171.9 600.6 174.6 602.8 173.5 603.4C172.4 604 166.8 602.1 163.5 601.8C160.2 601.5 157.1 601.1 153.5 601.8C149.9 602.5 145.4 604.5 141.8 605.9C138.2 607.3 134.9 609.7 131.8 610.1C128.7 610.5 123.7 610.5 123.4 608.5Z"/>
<path fill="#242c90" d="M426.2 329.1C428.6 326 436.9 327.9 441.3 327.8C445.7 327.7 449 328 452.6 328.7C456.2 329.4 460.6 330.3 462.7 331.9C464.8 333.5 464.6 335.4 465.2 338.2C465.8 341 466.6 346.8 466 348.6C465.4 350.5 463.3 347.7 461.5 349.3C459.7 350.9 456.5 355.6 455.2 358.1C453.9 360.6 456.6 362.9 453.9 364.4C451.2 365.9 443.2 366.7 438.8 366.9C434.4 367.1 429.5 369.1 427.5 365.7C425.5 362.3 427 352.8 426.8 346.7C426.6 340.6 423.8 332.2 426.2 329.1Z"/>
<path fill="#242c90" d="M760 299L750.4 300L733.7 301.7L717 308.3L713.7 325L723.7 333.4L735.4 335.1L750.4 341.7L753 344L750.4 346.7L742 348.4L740.4 363.4L735.4 366.8L738.7 378.5L730.4 388.5L732 400.2L730.4 411.9L743.7 406.8L750.4 403.5L760 400Z"/>
<path fill="#242c90" d="M760 293L750.4 295.2L742 300.2L738 304L760 304Z"/>
<path fill="#242c90" d="M738.7 241C739.5 240 742.8 239.5 745 239.5C747.2 239.5 750.8 240 752 241C753.2 242 754 244.8 752 245.5C750 246.2 742.2 246.2 740 245.5C737.8 244.8 737.9 242 738.7 241Z"/>
<path fill="#242c90" d="M173.5 493.5C173.8 491.7 176.3 487.4 178.5 486C180.7 484.6 185.4 484.1 186.9 485.1C188.4 486.1 188.3 489.9 187.7 491.8C187.1 493.8 185.3 496 183.5 496.8C181.7 497.6 178.5 497.4 176.8 496.8C175.1 496.2 173.2 495.3 173.5 493.5Z"/>
<path fill="#242c90" d="M203.6 481C204.4 480.2 208.1 479.4 210 479.5C211.9 479.6 214.6 480.7 215.3 481.5C216 482.3 215.7 484 214 484.5C212.3 485 206.7 485.1 205 484.5C203.3 483.9 202.8 481.8 203.6 481Z"/>
<path fill="#242c90" d="M133.4 603.4C133.4 601.9 137.3 598.6 140.1 596.8C142.9 595 147.3 593.2 150.1 592.6C152.9 592 154.6 592.1 156.8 593.4C159 594.6 163.5 598.9 163.5 600.1C163.5 601.4 159.6 600.5 156.8 600.9C154 601.3 149.6 601.8 146.8 602.6C144 603.4 142.3 605.8 140.1 605.9C137.9 606 133.4 604.9 133.4 603.4Z"/>
<path fill="#94fec2" d="M553.5 489.3L559.9 493L565.4 497.6L568.2 498.9L564.5 502.2L564.5 508.6L562.7 517.8L558.1 527L554.4 538.1L551.6 550.9L545.2 563.8L537.8 573L534.2 582.2L533.2 591.4L530.5 593.3L527.7 590.5L526.8 584.1L521.3 576.7L514.8 570.3L510.2 562L508.4 554.6L509.3 545.4L512.1 536.2L517.6 525.2L525 514.2L530.5 506.8L536 497.6L545.2 493.9L550.7 492.1Z"/>
<path fill="#80fef8" d="M525 514.2C527.5 512.7 529.8 514.2 532.3 516C534.8 517.8 538.2 521.8 539.7 525.2C541.2 528.6 540.9 532.5 541.5 536.2C542.1 539.9 543.6 543.6 543.3 547.3C543 551 540.9 554.6 539.7 558.3C538.5 562 536.9 565.7 536 569.4C535.1 573.1 534.7 576.7 534.2 580.4C533.7 584.1 533.8 589.2 533.2 591.4C532.6 593.5 531.4 593.4 530.5 593.3C529.6 593.1 528.3 592 527.7 590.5C527.1 589 527.9 586.4 526.8 584.1C525.7 581.8 523.3 579 521.3 576.7C519.3 574.4 516.6 572.8 514.8 570.3C512.9 567.8 511.3 564.6 510.2 562C509.1 559.4 508.5 557.4 508.4 554.6C508.2 551.8 508.7 548.5 509.3 545.4C509.9 542.3 510.7 539.6 512.1 536.2C513.5 532.8 515.5 528.9 517.6 525.2C519.8 521.5 522.5 515.7 525 514.2Z"/>
<path fill="#5cb8ea" d="M517.6 525.2C520 523.1 524.2 522.4 526.8 523.3C529.4 524.2 531.8 527.3 533.2 530.7C534.6 534.1 535.1 539.6 535.1 543.6C535.1 547.6 534.1 550.9 533.2 554.6C532.3 558.3 530.7 562.3 529.6 565.7C528.5 569.1 528 572.9 526.8 574.9C525.6 576.9 524.2 578.4 522.2 577.6C520.2 576.8 516.8 572.9 514.8 570.3C512.8 567.7 511.3 564.6 510.2 562C509.1 559.4 508.5 557.4 508.4 554.6C508.2 551.8 508.7 548.5 509.3 545.4C509.9 542.3 510.7 539.6 512.1 536.2C513.5 532.8 515.2 527.4 517.6 525.2Z"/>
<path fill="#447ef8" d="M513.9 530.7C515.7 529.2 519.1 528.3 521.3 528.9C523.4 529.5 525.4 531.6 526.8 534.4C528.2 537.1 529.6 541.7 529.6 545.4C529.6 549.1 528 553.1 526.8 556.5C525.6 559.9 524 563.9 522.2 565.7C520.4 567.5 517.6 568.7 515.8 567.5C514 566.3 512.3 561.7 511.2 558.3C510.1 554.9 509.1 550.7 509 547.3C508.9 543.9 509.7 540.9 510.5 538.1C511.3 535.3 512.1 532.2 513.9 530.7Z"/>
<use href="#ov"/>
<text x="447.5" y="272">NJ</text>
<text x="459.6" y="326.8">HMQ</text>
<text x="356.5" y="361.9">WC</text>
<text x="263.5" y="391.1">CS</text>
</g>
<g clip-path="url(#cr)">
<rect x="772.3" y="40" width="672.2" height="612.2" fill="#60a1cd"/>
<path fill="#6eafd4" d="M805.7 83.7C806.9 82.2 817.5 83.9 824.4 83.7C831.3 83.5 841.5 85.1 846.9 82.4C852.3 79.7 851.5 71.6 856.9 67.4C862.3 63.3 874.8 61.2 879.3 57.5C883.9 53.7 881.8 47.7 884.3 45C886.8 42.3 890.2 40.8 894.3 41.2C898.5 41.7 907.2 44.4 909.3 47.5C911.4 50.6 906.4 56.2 906.8 60C907.2 63.7 906.8 67.4 911.8 69.9C916.8 72.4 932 73.3 936.8 74.9C941.5 76.6 942.2 78.3 940.5 79.9C938.8 81.6 929.5 82 926.8 84.9C924.1 87.8 923 94.1 924.3 97.4C925.5 100.7 928.9 104.5 934.3 104.9C939.7 105.3 954.7 99.1 956.7 99.9C958.8 100.7 948 106.6 946.7 109.9C945.5 113.2 950.5 117 949.2 119.9C948 122.8 942.2 126.9 939.3 127.4C936.3 127.8 934.3 125.3 931.8 122.4C929.3 119.5 925.9 112.8 924.3 109.9C922.6 107 924.7 105.3 921.8 104.9C918.9 104.5 910.5 105.7 906.8 107.4C903.1 109.1 904.7 113.8 899.3 114.9C893.9 115.9 878.9 115.3 874.3 113.6C869.8 112 874.8 108 871.8 104.9C868.9 101.8 861 97 856.9 94.9C852.7 92.8 851.9 91.8 846.9 92.4C841.9 93 831.9 98.7 826.9 98.7C821.9 98.7 820.5 94.9 816.9 92.4C813.4 89.9 804.4 85.1 805.7 83.7Z"/>
<path fill="#6eafd4" d="M964.2 104.9C965.5 102.8 973 96.4 976.7 94.9C980.4 93.5 985.9 94.7 986.7 96.2C987.5 97.6 984.6 101.8 981.7 103.6C978.8 105.5 972.1 107.2 969.2 107.4C966.3 107.6 963 107 964.2 104.9Z"/>
<path fill="#6eafd4" d="M999.2 89.9C1001.7 85.3 1007.1 80.6 1011.7 77.4C1016.2 74.3 1021.6 70.8 1026.6 71.2C1031.6 71.6 1035.8 78.5 1041.6 79.9C1047.4 81.4 1054.9 81.2 1061.6 79.9C1068.2 78.7 1075.3 72.9 1081.6 72.4C1087.8 72 1094 77.4 1099 77.4C1104 77.4 1109.2 73.3 1111.5 72.4C1113.8 71.6 1109 69.9 1113 72.4C1117 74.9 1130 88.3 1135.4 87.4C1140.8 86.6 1142.9 73.3 1145.4 67.4C1147.9 61.6 1149.6 57.5 1150.4 52.5C1151.2 47.5 1117.1 40 1150.4 37.5C1183.7 35 1318.9 34.6 1350.1 37.5C1381.3 40.4 1343.1 50 1337.7 55C1332.2 60 1323.9 63.3 1317.7 67.4C1311.4 71.6 1305.2 74.9 1300.2 79.9C1295.2 84.9 1290.6 92.8 1287.7 97.4C1284.8 102 1280.2 104.5 1282.7 107.4C1285.2 110.3 1299.8 112.4 1302.7 114.9C1305.6 117.4 1303.5 120.3 1300.2 122.4C1296.9 124.5 1289 126.3 1282.7 127.4C1276.5 128.4 1270.2 128.2 1262.8 128.6C1255.3 129 1245.3 128.4 1237.8 129.9C1230.3 131.3 1224.5 134.9 1217.8 137.4C1211.2 139.8 1204.5 143.2 1197.8 144.8C1191.2 146.5 1183.7 146.5 1177.9 147.3C1172.1 148.2 1168.7 151.1 1162.9 149.8C1157.1 148.6 1149.2 141.1 1142.9 139.8C1136.7 138.6 1131.3 142.3 1125.4 142.3C1119.6 142.3 1110.7 140.5 1108 139.8C1105.2 139.2 1110.9 137.4 1109 138.6C1107.1 139.8 1101.9 144.6 1096.5 147.3C1091.1 150 1084.1 152.7 1076.6 154.8C1069.1 156.9 1059.1 158.8 1051.6 159.8C1044.1 160.9 1038.3 162.3 1031.6 161.1C1025 159.8 1015.8 155.9 1011.7 152.3C1007.5 148.8 1006.7 144.4 1006.7 139.8C1006.7 135.3 1013.3 130.7 1011.7 124.9C1010 119 998.8 110.7 996.7 104.9C994.6 99.1 996.7 94.5 999.2 89.9Z"/>
<path fill="#82bbda" d="M1150.4 42.5C1153.7 40.6 1163.3 41.2 1170.4 41.2C1177.5 41.2 1184.9 42.5 1192.9 42.5C1200.8 42.5 1210.3 41.2 1217.8 41.2C1225.3 41.2 1231.1 41.9 1237.8 42.5C1244.5 43.1 1251.1 45 1257.8 45C1264.4 45 1272.7 41.7 1277.7 42.5C1282.7 43.3 1288.6 47.9 1287.7 50C1286.9 52.1 1276.9 52.1 1272.7 55C1268.6 57.9 1266.5 64.1 1262.8 67.4C1259 70.8 1254.4 72.9 1250.3 74.9C1246.1 77 1241.5 77 1237.8 79.9C1234 82.8 1227 88.7 1227.8 92.4C1228.6 96.2 1237 100.3 1242.8 102.4C1248.6 104.5 1256.1 103.2 1262.8 104.9C1269.4 106.6 1276.1 110.7 1282.7 112.4C1289.4 114.1 1299.8 113.2 1302.7 114.9C1305.6 116.5 1303.5 120.7 1300.2 122.4C1296.9 124 1289 124.9 1282.7 124.9C1276.5 124.9 1268.6 122.8 1262.8 122.4C1256.9 122 1253.6 121.5 1247.8 122.4C1242 123.2 1234.5 126.1 1227.8 127.4C1221.1 128.6 1214.5 129 1207.8 129.9C1201.2 130.7 1194.1 132.8 1187.9 132.4C1181.6 131.9 1175.8 129.9 1170.4 127.4C1165 124.9 1158.5 121.1 1155.4 117.4C1152.3 113.6 1153.3 108.6 1151.7 104.9C1150 101.2 1148.1 97.8 1145.4 94.9C1142.7 92 1136.3 89.9 1135.4 87.4C1134.6 84.9 1136.7 81.6 1140.4 79.9C1144.2 78.3 1153.3 79.5 1157.9 77.4C1162.5 75.4 1167.1 70.8 1167.9 67.4C1168.7 64.1 1165.8 60 1162.9 57.5C1160 55 1152.5 55 1150.4 52.5C1148.3 50 1147.1 44.4 1150.4 42.5Z"/>
<path fill="#6eafd4" d="M1177.9 87.4C1178.3 84.1 1184.1 81.2 1187.9 79.9C1191.6 78.7 1197.6 78.3 1200.3 79.9C1203 81.6 1204.5 86.8 1204.1 89.9C1203.7 93 1201 97 1197.8 98.7C1194.7 100.3 1188.7 101.8 1185.4 99.9C1182 98 1177.5 90.7 1177.9 87.4Z"/>
<path fill="#6eafd4" d="M1375.1 92.4C1378 88.7 1391.7 82.8 1400.1 79.9C1408.4 77 1417.1 74.9 1425 74.9C1432.9 74.9 1443.8 74.9 1447.5 79.9C1451.2 84.9 1451.2 99.5 1447.5 104.9C1443.8 110.3 1432.9 111.6 1425 112.4C1417.1 113.2 1407.1 111.6 1400.1 109.9C1393 108.2 1386.8 105.3 1382.6 102.4C1378.4 99.5 1372.2 96.2 1375.1 92.4Z"/>
<path fill="#6eafd4" d="M1370.1 45C1370.9 42.5 1381.3 41.7 1387.6 42.5C1393.8 43.3 1405.1 47.1 1407.6 50C1410.1 52.9 1406.7 58.7 1402.6 60C1398.4 61.2 1388 60 1382.6 57.5C1377.2 55 1369.3 47.5 1370.1 45Z"/>
<path fill="#5091c4" d="M767 129.9C768.7 57.4 774.5 129 777 132.4C779.5 135.7 779.5 145.3 782 149.8C784.5 154.4 787 158.2 792 159.8C797 161.5 806.1 160.2 811.9 159.8C817.8 159.4 822.7 155.9 826.9 157.3C831.1 158.8 832.3 165.6 836.9 168.6C841.5 171.5 849.4 176.3 854.4 174.8C859.4 173.3 862.7 162.3 866.9 159.8C871 157.3 876.4 158.6 879.3 159.8C882.3 161.1 880.6 166.5 884.3 167.3C888.1 168.1 896.4 164.4 901.8 164.8C907.2 165.2 911 169.6 916.8 169.8C922.6 170 930.1 166.5 936.8 166.1C943.4 165.6 950.5 168.4 956.7 167.3C963 166.3 970 162.3 974.2 159.8C978.4 157.3 979 152.7 981.7 152.3C984.4 151.9 988.4 155 990.4 157.3C992.5 159.6 994.8 162.7 994.2 166.1C993.6 169.4 985.4 173.8 986.7 177.3C987.9 180.8 1000 184 1001.7 187.3C1003.3 190.6 999.2 194.4 996.7 197.3C994.2 200.2 987.5 202.7 986.7 204.8C985.9 206.8 987.5 208.9 991.7 209.8C995.8 210.6 1005.8 211 1011.7 209.8C1017.5 208.5 1022.5 204.3 1026.6 202.3C1030.8 200.2 1030.8 197.3 1036.6 197.3C1042.4 197.3 1055.3 203.1 1061.6 202.3C1067.8 201.4 1069.9 194.4 1074.1 192.3C1078.2 190.2 1084.9 192.3 1086.6 189.8C1088.2 187.3 1082.4 181 1084.1 177.3C1085.7 173.6 1091.7 169.2 1096.5 167.3C1101.4 165.4 1106.1 166.1 1113 166.1C1119.9 166.1 1130.4 165.9 1137.9 167.3C1145.4 168.8 1152.1 174.4 1157.9 174.8C1163.7 175.2 1167.9 170 1172.9 169.8C1177.9 169.6 1182.9 174.4 1187.9 173.6C1192.9 172.7 1197 167.1 1202.8 164.8C1208.7 162.5 1215.3 160.2 1222.8 159.8C1230.3 159.4 1241.1 163.1 1247.8 162.3C1254.4 161.5 1257.8 156.9 1262.8 154.8C1267.8 152.7 1271.9 151.9 1277.7 149.8C1283.6 147.8 1291.1 144 1297.7 142.3C1304.4 140.7 1311 140.5 1317.7 139.8C1324.3 139.2 1330.2 138.6 1337.7 138.6C1345.1 138.6 1354.3 139.6 1362.6 139.8C1370.9 140.1 1380.1 140.3 1387.6 139.8C1395.1 139.4 1401.7 136.9 1407.6 137.4C1413.4 137.8 1415.5 140.7 1422.5 142.3C1429.6 144 1445.4 91.9 1450 147.3C1454.6 202.7 1452.1 419.8 1450 474.8C1447.9 529.8 1442.9 476.5 1437.5 477.3C1432.1 478.1 1423.4 479.8 1417.5 479.8C1411.7 479.8 1407.6 479 1402.6 477.3C1397.6 475.6 1393.4 472.7 1387.6 469.8C1381.8 466.9 1373.4 462.3 1367.6 459.8C1361.8 457.3 1357.6 456.5 1352.6 454.8C1347.6 453.2 1343.5 450.7 1337.7 449.8C1331.8 449 1324.3 449.4 1317.7 449.8C1311 450.3 1304.4 451.9 1297.7 452.3C1291.1 452.7 1284.4 451.9 1277.7 452.3C1271.1 452.7 1264.4 454 1257.8 454.8C1251.1 455.7 1243.6 456.1 1237.8 457.3C1232 458.6 1227 460.2 1222.8 462.3C1218.7 464.4 1217 466.9 1212.8 469.8C1208.7 472.7 1202 477.7 1197.8 479.8C1193.7 481.9 1191.2 484 1187.9 482.3C1184.5 480.6 1178.3 473.6 1177.9 469.8C1177.5 466.1 1183.3 462.7 1185.4 459.8C1187.4 456.9 1191.6 451.9 1190.4 452.3C1189.1 452.7 1182.5 459.4 1177.9 462.3C1173.3 465.2 1168.7 467.7 1162.9 469.8C1157.1 471.9 1149.6 473.1 1142.9 474.8C1136.3 476.5 1129.6 478.1 1123 479.8C1116.3 481.5 1109 481.8 1103 484.8C1096.9 487.7 1091 493.7 1086.6 497.5C1082.1 501.2 1079.1 502.5 1076.6 507.4C1074.1 512.4 1074.9 522.8 1071.6 527.4C1068.2 532 1060.8 532 1056.6 534.9C1052.4 537.8 1050.8 542 1046.6 544.9C1042.4 547.8 1037.5 549.9 1031.6 552.4C1025.8 554.9 1018.3 559 1011.7 559.9C1005 560.7 997.9 557.4 991.7 557.4C985.4 557.4 979.6 557.8 974.2 559.9C968.8 562 963.8 569 959.2 569.9C954.7 570.7 950.5 564.9 946.7 564.9C943 564.9 940.9 567.4 936.8 569.9C932.6 572.4 927.6 577.8 921.8 579.8C916 581.9 908.5 581.1 901.8 582.3C895.1 583.6 888.5 586.9 881.8 587.3C875.2 587.8 868.5 586.1 861.9 584.8C855.2 583.6 849 580.7 841.9 579.8C834.8 579 826.5 580.3 819.4 579.8C812.3 579.4 804.9 579.8 799.4 577.4C794 574.9 792.4 566.5 787 564.9C781.6 563.2 770.3 639.9 767 567.4C763.7 494.9 765.3 202.4 767 129.9Z"/>
<path fill="#5091c4" d="M767 69.9C769.5 64.5 777.8 70.8 782 72.4C786.1 74.1 791.1 76.2 792 79.9C792.8 83.7 789.9 91.2 787 94.9C784.1 98.7 777.8 100.7 774.5 102.4C771.2 104.1 768.2 110.3 767 104.9C765.7 99.5 764.5 75.4 767 69.9Z"/>
<path fill="#60a1cd" d="M806.9 212.2C807.8 210.2 814.8 207.3 816.9 204.8C819 202.3 818.6 196.9 819.4 197.3C820.3 197.7 818.2 205.4 821.9 207.3C825.7 209.1 839.4 207.3 841.9 208.5C844.4 209.8 841.9 213.3 836.9 214.7C831.9 216.2 816.9 217.7 811.9 217.2C806.9 216.8 806.1 214.3 806.9 212.2Z"/>
<path fill="#60a1cd" d="M991.7 175C977.5 177.5 1001.7 186.2 1001.7 190C1001.7 193.7 992.9 194.6 991.7 197.5C990.4 200.4 990.9 205.4 994.2 207.5C997.5 209.5 1006.2 210.8 1011.7 210C1017.1 209.1 1021.2 204.5 1026.6 202.5C1032 200.4 1038.3 197.5 1044.1 197.5C1049.9 197.5 1056.2 202.9 1061.6 202.5C1067 202.1 1072 197.1 1076.6 195C1081.1 192.9 1087.4 193.3 1089 190C1090.7 186.7 1102.8 177.5 1086.6 175C1070.3 172.5 1005.8 172.5 991.7 175Z"/>
<path fill="#60a1cd" d="M961.7 215C963 213.1 969.2 211.2 974.2 210C979.2 208.7 990.4 206.2 991.7 207.5C992.9 208.7 985.9 215.2 981.7 217.4C977.5 219.7 970 221.6 966.7 221.2C963.4 220.8 960.5 216.8 961.7 215Z"/>
<path fill="#60a1cd" d="M1320.2 159.8C1322.7 156.5 1330.6 155.2 1337.7 154.8C1344.7 154.4 1354.3 156.5 1362.6 157.3C1370.9 158.2 1381.3 157.7 1387.6 159.8C1393.8 161.9 1400.1 166.5 1400.1 169.8C1400.1 173.1 1393.8 177.3 1387.6 179.8C1381.3 182.3 1370.9 184.4 1362.6 184.8C1354.3 185.2 1344.3 184 1337.7 182.3C1331 180.6 1325.6 178.5 1322.7 174.8C1319.8 171.1 1317.7 163.1 1320.2 159.8Z"/>
<path fill="#60a1cd" d="M1076.6 504.8C1077.4 501.8 1083.2 498.1 1086.6 497.3C1089.9 496.4 1095.7 497.7 1096.5 499.8C1097.4 501.8 1094 507.3 1091.5 509.8C1089 512.2 1084.1 515.6 1081.6 514.7C1079.1 513.9 1075.7 507.7 1076.6 504.8Z"/>
<path fill="#60a1cd" d="M1104 489.8C1104 486 1108.2 484 1111.5 482.3C1114.8 480.6 1120.7 478.1 1124 479.8C1127.3 481.5 1131.5 487.3 1131.5 492.3C1131.5 497.3 1127.3 507.7 1124 509.8C1120.7 511.8 1114.8 508.1 1111.5 504.8C1108.2 501.4 1104 493.5 1104 489.8Z"/>
<path fill="#427fb9" d="M767 262.4C768.7 216.1 772.8 258.4 777 257.4C781.1 256.4 786.1 256.6 792 256.1C797.8 255.7 803.6 255.1 811.9 254.9C820.3 254.7 836.5 254.1 841.9 254.9C847.3 255.7 841.1 258.2 844.4 259.9C847.7 261.6 858.5 262.4 861.9 264.9C865.2 267.4 862.7 272 864.4 274.9C866 277.8 868.5 282.4 871.8 282.4C875.2 282.4 881.4 274.5 884.3 274.9C887.2 275.3 886.4 282.4 889.3 284.9C892.2 287.4 898.1 287.4 901.8 289.8C905.6 292.3 908.5 298.6 911.8 299.8C915.1 301.1 918.5 296.9 921.8 297.3C925.1 297.8 927.6 301.9 931.8 302.3C935.9 302.7 942.2 301.5 946.7 299.8C951.3 298.2 955.9 295.7 959.2 292.3C962.6 289 965.1 284.4 966.7 279.9C968.4 275.3 967.1 269.5 969.2 264.9C971.3 260.3 978 255.7 979.2 252.4C980.4 249.1 975.5 247.2 976.7 244.9C978 242.6 982.5 240.3 986.7 238.7C990.9 237 997.5 236.8 1001.7 234.9C1005.8 233.1 1005.8 229.1 1011.7 227.4C1017.5 225.8 1028.3 225.8 1036.6 224.9C1044.9 224.1 1054.1 224.1 1061.6 222.4C1069.1 220.8 1076.1 215.8 1081.6 215C1087 214.1 1090.5 217.2 1094 217.4C1097.6 217.7 1098.6 216 1103 216.2C1107.4 216.4 1114.6 218.1 1120.5 218.7C1126.3 219.3 1131.7 220.2 1137.9 219.9C1144.2 219.7 1152.1 218.7 1157.9 217.4C1163.7 216.2 1167.9 214.1 1172.9 212.5C1177.9 210.8 1184.1 208.7 1187.9 207.5C1191.6 206.2 1192 207 1195.4 205C1198.7 202.9 1203.3 197.5 1207.8 195C1212.4 192.5 1217 191.2 1222.8 190C1228.6 188.7 1236.1 187.7 1242.8 187.5C1249.4 187.3 1255.3 188.7 1262.8 188.7C1270.2 188.7 1279.4 187.3 1287.7 187.5C1296 187.7 1306 190.4 1312.7 190C1319.3 189.6 1323.5 187.1 1327.7 185C1331.8 182.9 1317.3 178.8 1337.7 177.5C1358 176.3 1431.3 132.9 1450 177.5C1468.7 222.1 1452.1 399.9 1450 444.8C1447.9 489.8 1442.1 446.5 1437.5 447.3C1432.9 448.2 1428.4 449.8 1422.5 449.8C1416.7 449.8 1408.4 448.2 1402.6 447.3C1396.7 446.5 1392.2 446.5 1387.6 444.8C1383 443.2 1380.1 439 1375.1 437.4C1370.1 435.7 1361.4 436.1 1357.6 434.9C1353.9 433.6 1354.3 431.5 1352.6 429.9C1351 428.2 1350.1 424.9 1347.6 424.9C1345.1 424.9 1341 427.8 1337.7 429.9C1334.3 431.9 1331.8 435.5 1327.7 437.4C1323.5 439.2 1317.3 441.5 1312.7 441.1C1308.1 440.7 1304.4 437.6 1300.2 434.9C1296 432.2 1290.6 427.8 1287.7 424.9C1284.8 422 1285.2 419.9 1282.7 417.4C1280.2 414.9 1276.5 411.6 1272.7 409.9C1269 408.2 1263.2 406.6 1260.3 407.4C1257.3 408.2 1254.9 412.8 1255.3 414.9C1255.7 417 1262.3 417.8 1262.8 419.9C1263.2 422 1260.3 424.9 1257.8 427.4C1255.3 429.9 1250.7 432.8 1247.8 434.9C1244.9 436.9 1243.6 440.7 1240.3 439.8C1237 439 1229.9 433.6 1227.8 429.9C1225.7 426.1 1226.1 421.5 1227.8 417.4C1229.5 413.2 1235.3 409.1 1237.8 404.9C1240.3 400.7 1243.6 393.7 1242.8 392.4C1242 391.2 1236.1 395.7 1232.8 397.4C1229.5 399.1 1226.1 399.9 1222.8 402.4C1219.5 404.9 1217 407.8 1212.8 412.4C1208.7 417 1202.8 425.3 1197.8 429.9C1192.9 434.4 1187.9 436.5 1182.9 439.8C1177.9 443.2 1172.9 446.5 1167.9 449.8C1162.9 453.2 1158.7 457.3 1152.9 459.8C1147.1 462.3 1138.8 463.1 1132.9 464.8C1127.1 466.5 1123 468.6 1118 469.8C1113 471.1 1104.9 472.3 1103 472.3C1101.1 472.3 1109.3 469 1106.5 469.8C1103.8 470.6 1092.4 475.6 1086.6 477.3C1080.7 479 1077.4 480.2 1071.6 479.8C1065.7 479.4 1058.3 476 1051.6 474.8C1044.9 473.6 1035.8 471.9 1031.6 472.3C1027.5 472.7 1025.8 475.6 1026.6 477.3C1027.5 479 1033.3 480.2 1036.6 482.3C1039.9 484.4 1046.6 487.7 1046.6 489.8C1046.6 491.9 1038.3 492.3 1036.6 494.8C1035 497.3 1038.3 508.1 1036.6 504.8C1035 501.5 1026.6 479.1 1026.6 475C1026.6 470.9 1033.3 477.9 1036.6 480C1039.9 482.1 1046.2 485 1046.6 487.5C1047 490 1040.8 490.8 1039.1 495C1037.5 499.1 1038.7 507.4 1036.6 512.4C1034.5 517.4 1029.1 520.8 1026.6 524.9C1024.1 529.1 1025.8 533.7 1021.6 537.4C1017.5 541.2 1007.5 546.6 1001.7 547.4C995.8 548.2 991.7 544.5 986.7 542.4C981.7 540.3 978.4 534.9 971.7 534.9C965.1 534.9 954.2 540.7 946.7 542.4C939.3 544.1 932.6 543.2 926.8 544.9C920.9 546.6 917.6 550.7 911.8 552.4C906 554.1 898.5 553.6 891.8 554.9C885.2 556.1 878.5 558.2 871.8 559.9C865.2 561.5 858.5 564.5 851.9 564.9C845.2 565.3 838.6 563.6 831.9 562.4C825.2 561.1 817.3 559.5 811.9 557.4C806.5 555.3 803.6 552.4 799.4 549.9C795.3 547.4 792.4 544.9 787 542.4C781.6 539.9 770.3 581.6 767 534.9C763.7 488.2 765.3 308.6 767 262.4Z"/>
<path fill="#427fb9" d="M1402.6 220C1403.4 217.9 1407.6 215.4 1412.6 214.7C1417.5 214.1 1427.5 215.1 1432.5 216C1437.5 216.9 1441.7 218.1 1442.5 220C1443.3 221.9 1443.3 226 1437.5 227.2C1431.7 228.4 1413.4 228.4 1407.6 227.2C1401.7 226 1401.7 222.1 1402.6 220Z"/>
<path fill="#386dad" d="M767 342.3C768.7 315.2 773.7 339.8 777 339.8C780.3 339.8 783.6 343.1 787 342.3C790.3 341.4 792.8 335.8 797 334.8C801.1 333.7 805.3 335.2 811.9 336C818.6 336.9 829.8 339.2 836.9 339.8C844 340.4 849.4 340.6 854.4 339.8C859.4 338.9 865.2 337.3 866.9 334.8C868.5 332.3 863.9 329 864.4 324.8C864.8 320.6 866.9 313.6 869.4 309.8C871.8 306.1 873.9 302.7 879.3 302.3C884.7 301.9 895.6 306.1 901.8 307.3C908 308.6 913.5 306.9 916.8 309.8C920.1 312.7 920.1 321.1 921.8 324.8C923.4 328.5 924.3 331.9 926.8 332.3C929.3 332.7 933.4 329.4 936.8 327.3C940.1 325.2 942.6 323.1 946.7 319.8C950.9 316.5 956.7 311.1 961.7 307.3C966.7 303.6 972.5 301.1 976.7 297.3C980.9 293.6 982.5 289 986.7 284.9C990.9 280.7 997.9 276.1 1001.7 272.4C1005.4 268.6 1005.8 265.7 1009.2 262.4C1012.5 259.1 1016.2 254.5 1021.6 252.4C1027.1 250.3 1035 251.2 1041.6 249.9C1048.3 248.7 1054.1 246.2 1061.6 244.9C1069.1 243.7 1079.1 244.3 1086.6 242.4C1094 240.5 1103.8 235.1 1106.5 233.7C1109.3 232.2 1101.9 234.1 1103 233.7C1104.1 233.3 1109.6 230.1 1113 231.2C1116.3 232.2 1118.8 238 1123 239.9C1127.1 241.8 1131.3 242 1137.9 242.4C1144.6 242.8 1157.1 241.6 1162.9 242.4C1168.7 243.2 1167.9 248.2 1172.9 247.4C1177.9 246.6 1187 239.7 1192.9 237.4C1198.7 235.1 1204.1 234.1 1207.8 233.7C1211.6 233.3 1214.5 237.6 1215.3 234.9C1216.2 232.2 1210.7 222 1212.8 217.4C1214.9 212.9 1222 209.8 1227.8 207.5C1233.6 205.2 1242 205.4 1247.8 203.7C1253.6 202.1 1256.1 199.1 1262.8 197.5C1269.4 195.8 1279.4 193.5 1287.7 193.7C1296 193.9 1304.4 197.1 1312.7 198.7C1321 200.4 1329.3 203.9 1337.7 203.7C1346 203.5 1354.3 200.2 1362.6 197.5C1370.9 194.8 1380.9 190.8 1387.6 187.5C1394.2 184.2 1392.2 179.2 1402.6 177.5C1413 175.8 1442.1 139.6 1450 177.5C1457.9 215.4 1452.5 367 1450 404.9C1447.5 442.8 1439.6 404.5 1435 404.9C1430.4 405.3 1426.3 405.3 1422.5 407.4C1418.8 409.5 1416.3 415.3 1412.6 417.4C1408.8 419.5 1404.2 420.3 1400.1 419.9C1395.9 419.5 1391.7 416.5 1387.6 414.9C1383.4 413.2 1378.4 412 1375.1 409.9C1371.8 407.8 1370.5 404.9 1367.6 402.4C1364.7 399.9 1361.4 397 1357.6 394.9C1353.9 392.8 1346.8 392.4 1345.1 389.9C1343.5 387.4 1346.8 383.7 1347.6 379.9C1348.5 376.2 1351 371.2 1350.1 367.4C1349.3 363.7 1346.4 359.8 1342.6 357.5C1338.9 355.2 1333.5 354.5 1327.7 353.7C1321.8 352.9 1313.5 351.4 1307.7 352.5C1301.9 353.5 1297.7 357 1292.7 360C1287.7 362.9 1281.9 366.2 1277.7 369.9C1273.6 373.7 1271.1 378.3 1267.8 382.4C1264.4 386.6 1260.7 394.1 1257.8 394.9C1254.9 395.7 1251.9 390.7 1250.3 387.4C1248.6 384.1 1249 378.7 1247.8 374.9C1246.5 371.2 1246.1 366.2 1242.8 365C1239.5 363.7 1232 366.2 1227.8 367.4C1223.6 368.7 1220.3 370.4 1217.8 372.4C1215.3 374.5 1214.9 376.6 1212.8 379.9C1210.7 383.3 1208.7 388.3 1205.3 392.4C1202 396.6 1197.4 400.7 1192.9 404.9C1188.3 409.1 1182.9 413.2 1177.9 417.4C1172.9 421.5 1167.9 426.5 1162.9 429.9C1157.9 433.2 1153.7 435.7 1147.9 437.4C1142.1 439 1134.6 439 1127.9 439.8C1121.3 440.7 1111.5 439.8 1108 442.3C1104.4 444.8 1109.7 451.5 1106.5 454.8C1103.4 458.2 1094.5 460 1089 462.3C1083.6 464.6 1079.5 468.1 1074.1 468.6C1068.7 469 1062 465.2 1056.6 464.8C1051.2 464.4 1045.8 466.5 1041.6 466.1C1037.5 465.6 1035 464.6 1031.6 462.3C1028.3 460 1026.6 454.8 1021.6 452.3C1016.6 449.8 1008.3 447.8 1001.7 447.3C995 446.9 988.4 448.2 981.7 449.8C975 451.5 967.1 454.8 961.7 457.3C956.3 459.8 950.5 462.7 949.2 464.8C948 466.9 952.2 467.3 954.2 469.8C956.3 472.3 962.1 476 961.7 479.8C961.3 483.5 951.7 489.7 951.7 492.3C951.7 494.8 960.9 492.9 961.7 495C962.6 497.1 959.2 501.2 956.7 505C954.2 508.7 950.9 513.7 946.7 517.4C942.6 521.2 937.6 524.5 931.8 527.4C925.9 530.3 916.8 534.1 911.8 534.9C906.8 535.7 906.8 532.4 901.8 532.4C896.8 532.4 888.5 533.7 881.8 534.9C875.2 536.2 868.5 537.8 861.9 539.9C855.2 542 848.1 547.4 841.9 547.4C835.6 547.4 829.4 542.8 824.4 539.9C819.4 537 816.9 532.8 811.9 529.9C806.9 527 798.6 525.8 794.5 522.4C790.3 519.1 791.5 513.3 787 509.9C782.4 506.6 770.3 530.4 767 502.5C763.7 474.5 765.3 369.4 767 342.3Z"/>
<path fill="#2e5a9d" d="M782 474.8C783.2 473.1 789.5 464 789.5 459.8C789.5 455.7 782.4 452.7 782 449.8C781.6 446.9 783.6 445.3 787 442.3C790.3 439.4 796.5 434.9 801.9 432.4C807.4 429.9 815.7 430.3 819.4 427.4C823.2 424.5 822.3 418.6 824.4 414.9C826.5 411.1 829.4 408.6 831.9 404.9C834.4 401.2 838.6 397.4 839.4 392.4C840.2 387.4 836.1 379.5 836.9 374.9C837.7 370.4 841.1 367.4 844.4 365C847.7 362.5 853.1 363.3 856.9 360C860.6 356.6 862.7 347.9 866.9 345C871 342 876.8 344 881.8 342.3C886.8 340.6 893.5 334.8 896.8 334.8C900.1 334.8 899.3 338.9 901.8 342.3C904.3 345.6 908.5 351.8 911.8 354.8C915.1 357.7 918.5 359.8 921.8 359.8C925.1 359.8 929.3 356.8 931.8 354.8C934.3 352.7 934.3 349.8 936.8 347.3C939.3 344.8 943.4 342.7 946.7 339.8C950.1 336.9 953 333.1 956.7 329.8C960.5 326.5 965.1 323.1 969.2 319.8C973.4 316.5 977.5 313.6 981.7 309.8C985.9 306.1 990 299.8 994.2 297.3C998.3 294.8 1002.5 296.9 1006.7 294.8C1010.8 292.8 1015 287.8 1019.1 284.9C1023.3 281.9 1026.2 279.9 1031.6 277.4C1037 274.9 1045.4 272 1051.6 269.9C1057.8 267.8 1062.4 265.3 1069.1 264.9C1075.7 264.5 1084.5 267.8 1091.5 267.4C1098.6 267 1108.8 262 1111.5 262.4C1114.3 262.8 1105.2 268.2 1108 269.9C1110.7 271.5 1121.3 271.5 1127.9 272.4C1134.6 273.2 1141.3 274.9 1147.9 274.9C1154.6 274.9 1161.2 273.6 1167.9 272.4C1174.5 271.1 1182.9 269.9 1187.9 267.4C1192.9 264.9 1194.1 259.5 1197.8 257.4C1201.6 255.3 1206.2 254.5 1210.3 254.9C1214.5 255.3 1219.9 258.2 1222.8 259.9C1225.7 261.6 1227 267.8 1227.8 264.9C1228.6 262 1225.3 246.6 1227.8 242.4C1230.3 238.3 1237.8 241.6 1242.8 239.9C1247.8 238.3 1252.8 235.3 1257.8 232.4C1262.8 229.5 1266.9 225.4 1272.7 222.4C1278.6 219.5 1286.1 216.4 1292.7 215C1299.4 213.5 1306 214.1 1312.7 213.7C1319.3 213.3 1328.5 211.4 1332.7 212.5C1336.8 213.5 1334.3 217 1337.7 219.9C1341 222.9 1347.6 227 1352.6 229.9C1357.6 232.8 1362.6 236 1367.6 237.4C1372.6 238.9 1378 239.9 1382.6 238.7C1387.2 237.4 1391.7 232.6 1395.1 229.9C1398.4 227.2 1398.4 224.5 1402.6 222.4C1406.7 220.4 1414.2 219.5 1420 217.4C1425.9 215.4 1432.1 211.6 1437.5 210C1442.9 208.3 1450.1 175 1452.5 207.5C1454.9 240 1454.5 372.5 1452 405C1449.5 437.5 1440.8 405.3 1437.5 402.4C1434.3 399.5 1435 391.6 1432.5 387.4C1430 383.3 1427.5 379.9 1422.5 377.4C1417.5 374.9 1409.2 373.3 1402.6 372.4C1395.9 371.6 1387.6 373.3 1382.6 372.4C1377.6 371.6 1372.9 369.4 1372.6 367.4C1372.3 365.5 1379.7 362.7 1380.6 360.6C1381.5 358.5 1380.1 356.9 1377.8 355C1375.5 353.1 1370.3 351.3 1366.6 349.4C1362.9 347.5 1359.1 345.7 1355.4 343.8C1351.7 341.9 1347.9 340.1 1344.2 338.2C1340.5 336.3 1337.3 333.7 1333 332.6C1328.7 331.5 1323.1 331.4 1318.1 331.7C1313.1 332 1307.5 333.1 1303.1 334.5C1298.7 335.9 1294.8 338 1291.9 340.1C1289.1 342.2 1286.7 346.2 1286 347C1285.3 347.8 1289.9 343.7 1287.7 345C1285.5 346.3 1278.6 354.5 1272.7 355C1266.9 355.4 1258.6 349.1 1252.8 347.5C1246.9 345.8 1242.8 344.6 1237.8 345C1232.8 345.4 1227 347.9 1222.8 350C1218.7 352.1 1215.7 354.5 1212.8 357.5C1209.9 360.4 1207.8 363.7 1205.3 367.4C1202.8 371.2 1200.8 375.8 1197.8 379.9C1194.9 384.1 1192 388.7 1187.9 392.4C1183.7 396.2 1177.9 399.5 1172.9 402.4C1167.9 405.3 1163.7 407.8 1157.9 409.9C1152.1 412 1144.6 414.1 1137.9 414.9C1131.3 415.7 1123.8 413.6 1118 414.9C1112.1 416.1 1104.1 419 1103 422.4C1101.9 425.7 1112.6 431.9 1111.5 434.9C1110.4 437.8 1101.5 438.2 1096.5 439.8C1091.5 441.5 1086.6 444.4 1081.6 444.8C1076.6 445.3 1071.6 441.9 1066.6 442.3C1061.6 442.8 1056.6 447.8 1051.6 447.3C1046.6 446.9 1041.6 442.3 1036.6 439.8C1031.6 437.4 1027.5 434 1021.6 432.4C1015.8 430.7 1008.3 429.7 1001.7 429.9C995 430.1 988.4 433.2 981.7 433.6C975 434 967.5 433 961.7 432.4C955.9 431.7 950.9 429.4 946.7 429.9C942.6 430.3 940.9 433.2 936.8 434.9C932.6 436.5 926.8 437.8 921.8 439.8C916.8 441.9 910.5 444.8 906.8 447.3C903.1 449.8 898.5 452.7 899.3 454.8C900.1 456.9 908 457.3 911.8 459.8C915.5 462.3 918.5 464.8 921.8 469.8C925.1 474.8 929.7 484 931.8 489.8C933.8 495.6 935.9 501.8 934.3 504.8C932.6 507.7 927.2 506.2 921.8 507.4C916.4 508.7 908.5 510.8 901.8 512.4C895.1 514.1 888.5 516.2 881.8 517.4C875.2 518.7 869.4 519.5 861.9 519.9C854.4 520.3 844.4 521.2 836.9 519.9C829.4 518.7 819.8 515.4 816.9 512.4C814 509.5 821.1 507 819.4 502.5C817.8 497.9 812.8 488.7 806.9 485C801.1 481.2 788.6 482.5 784.5 480C780.3 477.5 782.4 470.9 782 470C781.6 469.1 780.7 476.5 782 474.8Z"/>
<path fill="#386dad" d="M829.4 417.4C830 416.5 831.1 422 834.4 422.4C837.7 422.8 845.6 418.6 849.4 419.9C853.1 421.1 855.4 426.1 856.9 429.9C858.3 433.6 859.8 440.7 858.1 442.3C856.5 444 849.6 441.9 846.9 439.8C844.2 437.8 844.6 431.9 841.9 429.9C839.2 427.8 832.7 429.4 830.7 427.4C828.6 425.3 828.8 418.2 829.4 417.4Z"/>
<path fill="#25437e" d="M966.2 340C968.4 336.2 969.4 333.1 972.5 329.6C975.6 326.1 980.8 322.3 985 319.2C989.2 316.1 993.3 313.6 997.5 310.8C1001.7 308 1005.8 304.6 1010 302.5C1014.2 300.4 1017.6 298.8 1022.5 298.3C1027.4 297.8 1034.3 298.7 1039.2 299.4C1044.1 300.1 1047.5 300.9 1051.7 302.5C1055.9 304.1 1060 306.7 1064.2 308.8C1068.4 310.9 1073.9 312.9 1076.7 315C1079.5 317.1 1079.1 319.8 1080.8 321.2C1082.5 322.6 1084.7 324 1087.1 323.3C1089.5 322.6 1092.3 319.2 1095.4 317.1C1098.5 315 1102 312.4 1105.8 310.8C1109.6 309.2 1113.8 308.4 1118.3 307.7C1122.8 307 1128 307.9 1132.9 306.7C1137.8 305.5 1143 302 1147.5 300.4C1152 298.8 1157.2 296.9 1160 297.3C1162.8 297.7 1162.8 300.2 1164.2 302.5C1165.6 304.8 1167.3 307.7 1168.3 310.8C1169.3 313.9 1170.4 318.1 1170.4 321.2C1170.4 324.3 1167.2 326.8 1168.3 329.6C1169.3 332.4 1173.9 335.5 1176.7 337.9C1179.5 340.3 1182.6 341.8 1185 344.2C1187.4 346.6 1189.8 349.4 1191.2 352.5C1192.6 355.6 1193.6 359.4 1193.3 362.9C1193 366.4 1191.3 370.2 1189.2 373.3C1187.1 376.4 1183.6 379.3 1180.8 381.7C1178 384.1 1175.3 386.2 1172.5 387.9C1169.7 389.6 1167.7 390.4 1164.2 392.1C1160.7 393.8 1155.9 396.2 1151.7 398.3C1147.5 400.4 1143.4 402.5 1139.2 404.6C1135 406.7 1130.9 409.4 1126.7 410.8C1122.5 412.2 1117.7 412.2 1114.2 412.9C1110.7 413.6 1107.5 413.3 1105.8 415C1104.1 416.7 1105.9 421.6 1103.8 423.3C1101.7 425 1097.1 425.8 1093.3 425.4C1089.5 425 1085 422.2 1080.8 421.2C1076.6 420.2 1072.5 420.2 1068.3 419.2C1064.1 418.2 1060 415.7 1055.8 415C1051.6 414.3 1047.5 414.6 1043.3 415C1039.1 415.4 1035 416.6 1030.8 417.1C1026.6 417.6 1022.5 418.8 1018.3 418.1C1014.1 417.4 1009.6 414.1 1005.8 412.9C1002 411.7 998.2 410.4 995.4 410.8C992.6 411.2 991.6 415.3 989.2 415C986.8 414.7 983.9 410.2 980.8 408.8C977.7 407.4 973.6 406.9 970.4 406.7C967.2 406.5 964.4 408.5 961.7 407.4C959 406.3 956.6 403.2 954.3 399.9C952 396.6 949.2 392.4 948 387.4C946.8 382.4 946.2 374.5 946.8 369.9C947.4 365.3 949.7 362.9 951.8 360C953.9 357.1 956.8 355.8 959.2 352.5C961.6 349.2 964 343.8 966.2 340Z"/>
<path fill="#25437e" d="M1244.4 269.2C1246 266.4 1251.3 265.2 1254.6 263.6C1257.9 262.1 1261.2 261.1 1264 259.9C1266.8 258.6 1269.2 258 1271.4 256.1C1273.6 254.2 1274.8 250.7 1277 248.7C1279.2 246.7 1282.6 244.5 1284.5 244C1286.4 243.5 1288.5 244.7 1288.2 245.9C1287.9 247.2 1284.8 249.5 1282.6 251.5C1280.4 253.5 1274.8 256.1 1275.1 258C1275.4 259.9 1281.1 261.2 1284.5 262.6C1287.9 264 1291.4 265.6 1295.7 266.4C1300 267.2 1306.2 266.4 1310.6 267.3C1314.9 268.2 1318.1 270.4 1321.8 272C1325.5 273.6 1329.6 275.4 1333 276.6C1336.4 277.8 1340.1 277.5 1342.3 279.4C1344.5 281.3 1343.8 285.5 1346 287.8C1348.2 290.1 1352 291.8 1355.4 293.4C1358.8 295 1362.2 296.4 1366.6 297.2C1370.9 298 1376.8 297.8 1381.5 298.1C1386.2 298.4 1390.2 299.6 1394.6 299C1398.9 298.4 1403.2 296.3 1407.6 294.4C1411.9 292.5 1417.3 289.8 1420.7 287.8C1424.1 285.8 1426.5 284.4 1428.1 282.2C1429.6 280 1428.4 276.8 1430 274.8C1431.6 272.8 1433.3 271.2 1437.5 270.1C1441.7 269 1452.1 259.2 1455 268.2C1457.9 277.2 1458.2 314.4 1455 324.2C1451.8 334 1441 326.2 1435.6 327C1430.2 327.8 1426.5 328.1 1422.5 328.9C1418.5 329.7 1415 331.4 1411.3 331.7C1407.6 332 1403.5 330.2 1400.1 330.7C1396.7 331.2 1393.3 334.8 1390.8 334.5C1388.3 334.2 1388.6 329.2 1385.2 328.9C1381.8 328.6 1374.7 333.2 1370.3 332.6C1365.9 332 1362.8 327.9 1359.1 325.1C1355.4 322.3 1351 318 1347.9 315.8C1344.8 313.6 1342.9 312.7 1340.4 312.1C1337.9 311.5 1335.5 311.2 1333 312.1C1330.5 313 1328 315.8 1325.5 317.7C1323 319.6 1320.6 323 1318.1 323.3C1315.6 323.6 1313.4 319.6 1310.6 319.6C1307.8 319.6 1303.8 322.4 1301.3 323.3C1298.8 324.2 1297.3 323.9 1295.7 325.1C1294.1 326.3 1292.8 328.5 1291.9 330.7C1291 332.9 1291.3 336.6 1290.1 338.2C1288.9 339.8 1286.4 340.7 1284.5 340.1C1282.6 339.5 1280.8 336.7 1278.9 334.5C1277 332.3 1275.5 328.9 1273.3 327C1271.1 325.1 1268.3 324.5 1265.8 323.3C1263.3 322.1 1259 322.1 1258.4 319.6C1257.8 317.1 1262.1 312.1 1262.1 308.4C1262.1 304.7 1260.3 300.3 1258.4 297.2C1256.5 294.1 1253.1 292.5 1250.9 289.7C1248.7 286.9 1246.4 283.8 1245.3 280.4C1244.2 277 1242.9 272 1244.4 269.2Z"/>
<path fill="#25437e" d="M896.8 397.4C896.4 395.1 898.9 390.5 901.8 387.4C904.7 384.3 911 380.3 914.3 378.7C917.6 377 920.7 376 921.8 377.4C922.8 378.9 919.5 385.1 920.5 387.4C921.6 389.7 927.8 389.5 928 391.2C928.2 392.8 924.5 396.6 921.8 397.4C919.1 398.2 914.7 395.5 911.8 396.2C908.9 396.8 906.8 400.9 904.3 401.2C901.8 401.4 897.2 399.7 896.8 397.4Z"/>
<path fill="#25437e" d="M858.1 489.8C857.3 486.7 859.2 482.5 861.9 479.8C864.6 477.1 869.4 474.4 874.3 473.6C879.3 472.7 886.4 475.4 891.8 474.8C897.2 474.2 902.6 470.2 906.8 469.8C911 469.4 914.9 470.2 916.8 472.3C918.7 474.4 919.7 479.4 918 482.3C916.4 485.2 910.3 487.7 906.8 489.8C903.3 491.9 901 493.1 896.8 494.8C892.7 496.4 886.8 499.1 881.8 499.8C876.8 500.4 870.8 500.2 866.9 498.5C862.9 496.9 858.9 492.9 858.1 489.8Z"/>
<path fill="#233f77" d="M1101.7 360.8C1102.4 358 1105.8 355.3 1110 354.6C1114.2 353.9 1121.8 357.1 1126.7 356.7C1131.6 356.3 1134.4 353.9 1139.2 352.5C1144 351.1 1151 348.3 1155.8 348.3C1160.6 348.3 1164.1 352.1 1168.3 352.5C1172.5 352.9 1177 350 1180.8 350.4C1184.6 350.8 1189.3 351.8 1191.2 354.6C1193.1 357.4 1193.3 364 1192.3 367.1C1191.3 370.2 1189 372.3 1185 373.3C1181 374.3 1174.5 373.7 1168.3 373.3C1162 372.9 1154.4 371.2 1147.5 371.2C1140.6 371.2 1132.2 372.6 1126.7 373.3C1121.2 374 1117.7 375.8 1114.2 375.4C1110.7 375 1107.9 373.6 1105.8 371.2C1103.7 368.8 1101 363.6 1101.7 360.8Z"/>
<path fill="#233f77" d="M1014 331C1014.8 329.5 1019 329 1022 329C1025 329 1029.8 329.5 1032 331C1034.2 332.5 1035.7 336.3 1035 338C1034.3 339.7 1031 341 1028 341C1025 341 1019.3 339.7 1017 338C1014.7 336.3 1013.2 332.5 1014 331Z"/>
<path fill="#6eafd4" d="M767 599.8C770.2 589.4 779.9 596.5 784.5 597.3C789 598.2 789.9 602.7 794.5 604.8C799 606.9 806.9 611.1 811.9 609.8C816.9 608.6 820.3 599 824.4 597.3C828.6 595.7 832.7 600.7 836.9 599.8C841.1 599 844 591.5 849.4 592.3C854.8 593.2 862.3 602.7 869.4 604.8C876.4 606.9 884.7 605.6 891.8 604.8C898.9 604 905.1 601.9 911.8 599.8C918.5 597.7 925.1 594 931.8 592.3C938.4 590.7 945.1 590.7 951.7 589.8C958.4 589 965.9 588.2 971.7 587.3C977.5 586.5 980 586.1 986.7 584.8C993.3 583.6 1003.3 581.5 1011.7 579.8C1020 578.2 1028.3 576.9 1036.6 574.9C1044.9 572.8 1053.3 569 1061.6 567.4C1069.9 565.7 1079.1 566.5 1086.6 564.9C1094 563.2 1103.8 568.2 1106.5 557.4C1109.3 546.5 1099.4 511 1103 499.8C1106.5 488.5 1120.5 492.3 1127.9 489.8C1135.4 487.3 1142.1 486 1147.9 484.8C1153.7 483.5 1158.7 484 1162.9 482.3C1167.1 480.6 1168.7 474.4 1172.9 474.8C1177 475.2 1181.6 482.3 1187.9 484.8C1194.1 487.3 1205.3 490.6 1210.3 489.8C1215.3 488.9 1213.2 482.3 1217.8 479.8C1222.4 477.3 1231.1 474.8 1237.8 474.8C1244.5 474.8 1253.6 479.8 1257.8 479.8C1261.9 479.8 1258.6 476.5 1262.8 474.8C1266.9 473.1 1276.9 471.9 1282.7 469.8C1288.6 467.7 1292.7 464 1297.7 462.3C1302.7 460.7 1307.7 459.4 1312.7 459.8C1317.7 460.2 1322.7 462.7 1327.7 464.8C1332.7 466.9 1337.7 469.8 1342.6 472.3C1347.6 474.8 1352.6 476.9 1357.6 479.8C1362.6 482.7 1367.6 486.5 1372.6 489.8C1377.6 493.1 1381.8 496.4 1387.6 499.8C1393.4 503.1 1401.7 506.4 1407.6 509.8C1413.4 513.1 1420 518.3 1422.5 520C1425 521.7 1420 517.4 1422.5 519.9C1425 522.4 1432.9 531.6 1437.5 534.9C1442.1 538.2 1447.6 519.1 1450 539.9C1452.4 560.8 1566.2 640 1452 660C1337.8 680 879.2 670 765 660C650.8 650 763.7 610.3 767 599.8Z"/>
<path fill="#82bbda" d="M767 629.8C769 623.9 773.7 626.5 777 624.8C780.3 623.1 783.6 621 787 619.8C790.3 618.5 792.8 617.9 797 617.3C801.1 616.7 806.9 617.3 811.9 616C816.9 614.8 821.5 611.7 826.9 609.8C832.3 607.9 838.6 604.6 844.4 604.8C850.2 605 856 610.2 861.9 611.1C867.7 611.9 874.3 609.6 879.3 609.8C884.3 610 888.1 612.3 891.8 612.3C895.6 612.3 897.6 610.6 901.8 609.8C906 609 911 608.6 916.8 607.3C922.6 606.1 929.3 603.6 936.8 602.3C944.2 601.1 953.4 601.1 961.7 599.8C970 598.6 978.4 596.1 986.7 594.8C995 593.6 1003.3 593.6 1011.7 592.3C1020 591.1 1028.3 589 1036.6 587.3C1044.9 585.7 1053.3 583.6 1061.6 582.3C1069.9 581.1 1079.1 581.1 1086.6 579.8C1094 578.6 1103.8 575.7 1106.5 574.9C1109.3 574 1100.2 575.7 1103 574.9C1105.7 574 1116.3 571.5 1123 569.9C1129.6 568.2 1136.3 567.4 1142.9 564.9C1149.6 562.4 1157.9 558.2 1162.9 554.9C1167.9 551.6 1170 549.1 1172.9 544.9C1175.8 540.7 1176.6 532.8 1180.4 529.9C1184.1 527 1191.2 529.1 1195.4 527.4C1199.5 525.8 1201.6 524.1 1205.3 519.9C1209.1 515.8 1212.4 507 1217.8 502.5C1223.2 497.9 1230.7 492.9 1237.8 492.5C1244.9 492.1 1254.9 500.4 1260.3 500C1265.7 499.5 1265.7 492.1 1270.2 490C1274.8 487.9 1281.5 488.3 1287.7 487.5C1294 486.6 1301 485.8 1307.7 485C1314.4 484.1 1321 482.5 1327.7 482.5C1334.3 482.5 1342.6 482.9 1347.6 485C1352.6 487.1 1354.3 490.8 1357.6 495C1361 499.1 1364.3 505.8 1367.6 509.9C1370.9 514.1 1374.3 515.8 1377.6 519.9C1380.9 524.1 1383.4 530.7 1387.6 534.9C1391.7 539.1 1396.7 542 1402.6 544.9C1408.4 547.8 1417.1 549.5 1422.5 552.4C1427.9 555.3 1433.8 558.2 1435 562.4C1436.3 566.5 1432.5 572.8 1430 577.4C1427.5 581.9 1421.3 585.3 1420 589.8C1418.8 594.4 1423.8 599.8 1422.5 604.8C1421.3 609.8 1416.7 615.6 1412.6 619.8C1408.4 624 1402.6 627.3 1397.6 629.8C1392.6 632.3 1386.3 632.3 1382.6 634.8C1378.8 637.3 1375.9 640.6 1375.1 644.8C1374.3 649 1377.1 657.4 1377.6 660C1378.1 662.5 1480.1 660 1378 660C1275.9 660 866.8 665 765 660C663.2 655 765 635.6 767 629.8Z"/>
<path fill="#9ecde1" d="M1083 602.3C1086.3 591.9 1097.2 597.7 1103 597.3C1108.8 596.9 1112.1 597.7 1118 599.8C1123.8 601.9 1131.3 607.7 1137.9 609.8C1144.6 611.9 1152.5 613.1 1157.9 612.3C1163.3 611.5 1165.4 607.7 1170.4 604.8C1175.4 601.9 1182.9 598.6 1187.9 594.8C1192.9 591.1 1195.4 585.3 1200.3 582.3C1205.3 579.4 1213.2 579.4 1217.8 577.4C1222.4 575.3 1223.6 574.4 1227.8 569.9C1232 565.3 1239.5 554.5 1242.8 549.9C1246.1 545.3 1244.5 545.7 1247.8 542.4C1251.1 539.1 1258.2 533.7 1262.8 529.9C1267.3 526.2 1271.1 523.3 1275.2 519.9C1279.4 516.6 1283.1 512.4 1287.7 509.9C1292.3 507.4 1298.5 504.5 1302.7 505C1306.9 505.4 1310.6 507.9 1312.7 512.4C1314.8 517 1312.7 527.4 1315.2 532.4C1317.7 537.4 1322.3 541.2 1327.7 542.4C1333.1 543.6 1341 539.9 1347.6 539.9C1354.3 539.9 1363.5 539.9 1367.6 542.4C1371.8 544.9 1369.3 551.6 1372.6 554.9C1375.9 558.2 1384.7 558.6 1387.6 562.4C1390.5 566.1 1390.9 572.8 1390.1 577.4C1389.3 581.9 1383 584.4 1382.6 589.8C1382.2 595.2 1388.8 604.8 1387.6 609.8C1386.3 614.8 1380.1 618.5 1375.1 619.8C1370.1 621 1362.2 615.6 1357.6 617.3C1353.1 619 1351 626 1347.6 629.8C1344.3 633.5 1337.7 634.7 1337.7 639.8C1337.7 644.8 1390.1 656.6 1347.6 660C1305.2 663.4 1127.1 669.6 1083 660C1038.9 650.4 1079.7 612.8 1083 602.3Z"/>
<path fill="#9ecde1" d="M1051.6 644.8C1046.2 640.6 1051.6 626.5 1054.1 619.8C1056.6 613.1 1061.2 608.1 1066.6 604.8C1072 601.5 1079.1 600.2 1086.6 599.8C1094 599.4 1104.4 600.7 1111.5 602.3C1118.6 604 1126.1 602.7 1129 609.8C1131.9 616.9 1131.9 638.1 1129 644.8C1126.1 651.4 1118.6 649.8 1111.5 649.8C1104.4 649.8 1096.5 645.6 1086.6 644.8C1076.6 643.9 1057 648.9 1051.6 644.8Z"/>
<path fill="#9ecde1" d="M794.5 649.8C795.3 646 793.2 640.2 797 637.3C800.7 634.4 808.6 633.1 816.9 632.3C825.2 631.4 837.7 631.9 846.9 632.3C856 632.7 865.2 633.1 871.8 634.8C878.5 636.4 883.9 639.8 886.8 642.3C889.7 644.8 888.5 646.8 889.3 649.8C890.2 652.7 908 658.3 891.8 660C875.6 661.7 808.2 661.7 792 660C775.7 658.3 793.6 653.5 794.5 649.8Z"/>
<path fill="#82bbda" d="M1103 660C1096.3 656.6 1103 645.2 1108 639.8C1113 634.3 1126.7 627.3 1132.9 627.3C1139.2 627.3 1142.9 634.3 1145.4 639.8C1147.9 645.2 1155 656.6 1147.9 660C1140.8 663.4 1109.6 663.4 1103 660Z"/>
<path fill="#82bbda" d="M1312.7 660C1307.7 655.8 1315.2 639.8 1317.7 634.8C1320.2 629.7 1324.3 628.9 1327.7 629.8C1331 630.6 1334.3 634.7 1337.7 639.8C1341 644.8 1351.8 656.6 1347.6 660C1343.5 663.4 1317.7 664.2 1312.7 660Z"/>
<path fill="#b0d3e6" d="M1262.8 567.4C1264.8 563.2 1272.7 557.8 1277.7 554.9C1282.7 552 1286.9 549.9 1292.7 549.9C1298.5 549.9 1306 553.2 1312.7 554.9C1319.3 556.5 1326 559 1332.7 559.9C1339.3 560.7 1346 558.6 1352.6 559.9C1359.3 561.1 1370.9 563.6 1372.6 567.4C1374.3 571.1 1367.6 579 1362.6 582.3C1357.6 585.7 1348.5 585.3 1342.6 587.3C1336.8 589.4 1332.7 592.7 1327.7 594.8C1322.7 596.9 1318.1 599.4 1312.7 599.8C1307.3 600.2 1301 599.4 1295.2 597.3C1289.4 595.2 1282.7 590.3 1277.7 587.3C1272.7 584.4 1267.8 583.2 1265.3 579.8C1262.8 576.5 1260.7 571.5 1262.8 567.4Z"/>
<path fill="#b0d3e6" d="M1212.8 660C1207.4 657.9 1215.3 650.2 1217.8 647.3C1220.3 644.3 1223.6 643.5 1227.8 642.3C1232 641 1239.5 638.5 1242.8 639.8C1246.1 641 1246.5 646.4 1247.8 649.8C1249 653.1 1256.1 658.3 1250.3 660C1244.5 661.7 1218.2 662.1 1212.8 660Z"/>
<path fill="#6eafd4" d="M1247.8 490L1260.3 496.2L1257.8 505L1254 519.9L1247.8 534.9L1244 552.4L1235.3 569.9L1227.8 579.8L1225.3 592.3L1221.6 591.1L1217.8 579.8L1207.8 569.9L1202.8 557.4L1204.1 544.9L1210.3 529.9L1220.3 512.4L1230.3 497.5L1240.3 492.5Z"/>
<path fill="#60a1cd" d="M1205.3 544.9C1206.6 540.3 1209.9 534.1 1212.8 529.9C1215.7 525.8 1219.5 521.2 1222.8 519.9C1226.1 518.7 1230.7 519.9 1232.8 522.4C1234.9 524.9 1236.1 530.3 1235.3 534.9C1234.5 539.5 1230.7 545.3 1227.8 549.9C1224.9 554.5 1220.7 559.9 1217.8 562.4C1214.9 564.9 1212.4 565.7 1210.3 564.9C1208.3 564 1206.2 560.7 1205.3 557.4C1204.5 554.1 1204.1 549.5 1205.3 544.9Z"/>
<use href="#ov" x="693.7"/>
<text x="1141.2" y="272">NJ</text>
<text x="1153.3" y="326.8">HMQ</text>
<text x="1050.2" y="361.9">WC</text>
<text x="957.2" y="391.1">CS</text>
</g>
<rect class="f" x="78.6" y="40" width="672.8" height="612.2"/>
<path class="k" d="M200.9 40v10M200.9 652.2v-10M353.8 40v10M353.8 652.2v-10M506.7 40v10M506.7 652.2v-10M659.7 40v10M659.7 652.2v-10M78.6 652.2h10M751.4 652.2h-10M78.6 499.2h10M751.4 499.2h-10M78.6 346.1h10M751.4 346.1h-10M78.6 193.1h10M751.4 193.1h-10M78.6 40h10M751.4 40h-10"/>
<text x="201.1" y="678" text-anchor="middle">110°E</text>
<text x="354" y="678" text-anchor="middle">115°E</text>
<text x="506.9" y="678" text-anchor="middle">120°E</text>
<text x="659.9" y="678" text-anchor="middle">125°E</text>
<rect class="f" x="772.3" y="40" width="672.2" height="612.2"/>
<path class="k" d="M894.5 40v10M894.5 652.2v-10M1047.3 40v10M1047.3 652.2v-10M1200.1 40v10M1200.1 652.2v-10M1352.8 40v10M1352.8 652.2v-10M772.3 652.2h10M1444.5 652.2h-10M772.3 499.2h10M1444.5 499.2h-10M772.3 346.1h10M1444.5 346.1h-10M772.3 193.1h10M1444.5 193.1h-10M772.3 40h10M1444.5 40h-10"/>
<text x="894.7" y="678" text-anchor="middle">110°E</text>
<text x="1047.5" y="678" text-anchor="middle">115°E</text>
<text x="1200.3" y="678" text-anchor="middle">120°E</text>
<text x="1353" y="678" text-anchor="middle">125°E</text>
<text x="72.7" y="662.8" text-anchor="end">20°N</text>
<text x="72.7" y="509.8" text-anchor="end">25°N</text>
<text x="72.7" y="356.7" text-anchor="end">30°N</text>
<text x="72.7" y="203.7" text-anchor="end">35°N</text>
<text x="72.7" y="50.6" text-anchor="end">40°N</text>
<text x="81.8" y="24.6">(a) Meiyu season precipitation (mm)</text>
<text x="775.8" y="24.6">(b) Meiyu / June-August (%)</text>
<path fill="#a67e3c" d="M109.5 705.1L139.7 697.4L139.7 712.9Z"/>
<rect x="139.5" y="697.4" width="50.4" height="15.5" fill="#a0803e"/>
<rect x="189.5" y="697.4" width="50.4" height="15.5" fill="#d6b85c"/>
<rect x="239.5" y="697.4" width="50.4" height="15.5" fill="#d4d976"/>
<rect x="289.5" y="697.4" width="50.4" height="15.5" fill="#baf886"/>
<rect x="339.5" y="697.4" width="50.4" height="15.5" fill="#94fec2"/>
<rect x="389.5" y="697.4" width="50.4" height="15.5" fill="#80fef8"/>
<rect x="439.5" y="697.4" width="50.4" height="15.5" fill="#5cb8ea"/>
<rect x="489.5" y="697.4" width="50.4" height="15.5" fill="#447ef8"/>
<rect x="539.5" y="697.4" width="50.4" height="15.5" fill="#3028f8"/>
<rect x="589.5" y="697.4" width="50.4" height="15.5" fill="#2810d8"/>
<rect x="639.5" y="697.4" width="50.4" height="15.5" fill="#242c90"/>
<path fill="#244080" d="M689.5 697.4L720.7 705.1L689.5 712.9Z"/>
<path d="M110.5 705.1L139.7 697.4L689.7 697.4L719.7 705.1L689.7 712.9L139.7 712.9Z" fill="none" stroke="#000" stroke-width="2.6" stroke-linejoin="miter"/>
<text x="139.7" y="757.5" text-anchor="middle">50</text>
<text x="239.7" y="757.5" text-anchor="middle">150</text>
<text x="339.7" y="757.5" text-anchor="middle">250</text>
<text x="439.7" y="757.5" text-anchor="middle">350</text>
<text x="539.7" y="757.5" text-anchor="middle">450</text>
<text x="639.7" y="757.5" text-anchor="middle">550</text>
<path class="k" d="M139.7 712.9v11M239.7 712.9v11M339.7 712.9v11M439.7 712.9v11M539.7 712.9v11M639.7 712.9v11"/>
<rect x="805.2" y="697.4" width="41.6" height="15.5" fill="#f0f6fb"/>
<rect x="846.4" y="697.4" width="41.6" height="15.5" fill="#e2edf7"/>
<rect x="887.6" y="697.4" width="41.6" height="15.5" fill="#d5e6f3"/>
<rect x="928.9" y="697.4" width="41.6" height="15.5" fill="#c7dced"/>
<rect x="970.1" y="697.4" width="41.6" height="15.5" fill="#b0d3e6"/>
<rect x="1011.3" y="697.4" width="41.6" height="15.5" fill="#9ecde1"/>
<rect x="1052.5" y="697.4" width="41.6" height="15.5" fill="#82bbda"/>
<rect x="1093.8" y="697.4" width="41.6" height="15.5" fill="#6eafd4"/>
<rect x="1135" y="697.4" width="41.6" height="15.5" fill="#60a1cd"/>
<rect x="1176.2" y="697.4" width="41.6" height="15.5" fill="#5091c4"/>
<rect x="1217.5" y="697.4" width="41.6" height="15.5" fill="#427fb9"/>
<rect x="1258.7" y="697.4" width="41.6" height="15.5" fill="#386dad"/>
<rect x="1299.9" y="697.4" width="41.6" height="15.5" fill="#2e5a9d"/>
<rect x="1341.1" y="697.4" width="41.6" height="15.5" fill="#25437e"/>
<path fill="#233f77" d="M1382.3 697.4L1414.5 705.1L1382.3 712.9Z"/>
<path d="M805.4 697.4L1382.5 697.4L1413.5 705.1L1382.5 712.9L805.4 712.9Z" fill="none" stroke="#000" stroke-width="2.6" stroke-linejoin="miter"/>
<text x="805.4" y="757.5" text-anchor="middle">0</text>
<text x="887.9" y="757.5" text-anchor="middle">10</text>
<text x="970.3" y="757.5" text-anchor="middle">20</text>
<text x="1052.8" y="757.5" text-anchor="middle">30</text>
<text x="1135.2" y="757.5" text-anchor="middle">40</text>
<text x="1217.7" y="757.5" text-anchor="middle">50</text>
<text x="1300.1" y="757.5" text-anchor="middle">60</text>
<text x="1382.5" y="757.5" text-anchor="middle">70</text>
<path class="k" d="M805.4 712.9v11M887.9 712.9v11M970.3 712.9v11M1052.8 712.9v11M1135.2 712.9v11M1217.7 712.9v11M1300.1 712.9v11M1382.5 712.9v11"/>
</svg></body></html>
